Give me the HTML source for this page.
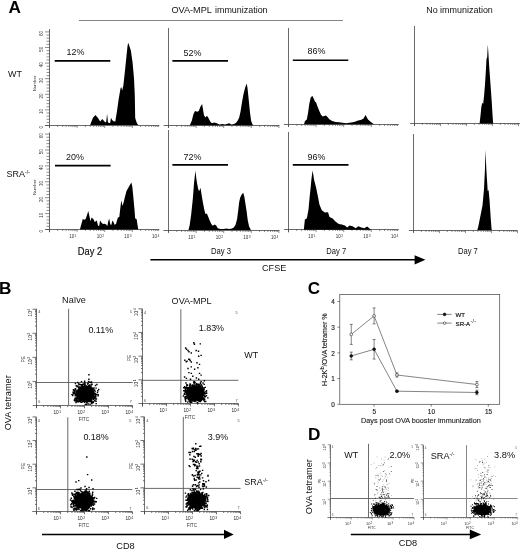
<!DOCTYPE html>
<html><head><meta charset="utf-8"><title>Figure</title>
<style>
html,body{margin:0;padding:0;background:#fff;}
body{width:520px;height:549px;overflow:hidden;font-family:"Liberation Sans",sans-serif;}
svg{display:block;will-change:transform;font-family:"Liberation Sans",sans-serif;}
</style></head><body>
<svg width="520" height="549" viewBox="0 0 520 549">
<rect width="520" height="549" fill="#fff"/>
<line x1="49.5" y1="29" x2="49.5" y2="127.6" stroke="#444" stroke-width="0.8"/>
<line x1="45.2" y1="125.5" x2="159.2" y2="125.5" stroke="#444" stroke-width="0.8"/>
<path d="M49.5 125.5v2.6M57.81 125.5v1.5M62.67 125.5v1.5M66.12 125.5v1.5M68.79 125.5v1.5M70.98 125.5v1.5M72.82 125.5v1.5M74.43 125.5v1.5M75.84 125.5v1.5M77.1 125.5v2.6M85.41 125.5v1.5M90.27 125.5v1.5M93.72 125.5v1.5M96.39 125.5v1.5M98.58 125.5v1.5M100.42 125.5v1.5M102.03 125.5v1.5M103.44 125.5v1.5M104.7 125.5v2.6M113.01 125.5v1.5M117.87 125.5v1.5M121.32 125.5v1.5M123.99 125.5v1.5M126.18 125.5v1.5M128.02 125.5v1.5M129.63 125.5v1.5M131.04 125.5v1.5M132.3 125.5v2.6M140.61 125.5v1.5M145.47 125.5v1.5M148.92 125.5v1.5M151.59 125.5v1.5M153.78 125.5v1.5M155.62 125.5v1.5M157.23 125.5v1.5M158.64 125.5v1.5" stroke="#444" stroke-width="0.6" fill="none"/>
<path d="M49.5 125.5h-4.5M49.5 122.38h-3M49.5 119.26h-3M49.5 116.14h-3M49.5 113.02h-3M49.5 109.9h-4.5M49.5 106.78h-3M49.5 103.66h-3M49.5 100.54h-3M49.5 97.42h-3M49.5 94.3h-4.5M49.5 91.18h-3M49.5 88.06h-3M49.5 84.94h-3M49.5 81.82h-3M49.5 78.7h-4.5M49.5 75.58h-3M49.5 72.46h-3M49.5 69.34h-3M49.5 66.22h-3M49.5 63.1h-4.5M49.5 59.98h-3M49.5 56.86h-3M49.5 53.74h-3M49.5 50.62h-3M49.5 47.5h-4.5M49.5 44.38h-3M49.5 41.26h-3M49.5 38.14h-3M49.5 35.02h-3M49.5 31.9h-4.5" stroke="#444" stroke-width="0.6" fill="none"/>
<text transform="translate(42.71 127.2) rotate(-90)" font-size="4.5" text-anchor="middle" fill="#333">0</text>
<text transform="translate(42.71 111.6) rotate(-90)" font-size="4.5" text-anchor="middle" fill="#333">10</text>
<text transform="translate(42.71 96) rotate(-90)" font-size="4.5" text-anchor="middle" fill="#333">20</text>
<text transform="translate(42.71 80.4) rotate(-90)" font-size="4.5" text-anchor="middle" fill="#333">30</text>
<text transform="translate(42.71 64.8) rotate(-90)" font-size="4.5" text-anchor="middle" fill="#333">40</text>
<text transform="translate(42.71 49.2) rotate(-90)" font-size="4.5" text-anchor="middle" fill="#333">50</text>
<text transform="translate(42.71 33.6) rotate(-90)" font-size="4.5" text-anchor="middle" fill="#333">60</text>
<text transform="translate(35.78 83.45) rotate(-90)" font-size="4.4" text-anchor="middle" fill="#333">Number</text>
<line x1="49.5" y1="132.5" x2="49.5" y2="232.2" stroke="#444" stroke-width="0.8"/>
<line x1="45.5" y1="229.5" x2="159.2" y2="229.5" stroke="#444" stroke-width="0.8"/>
<path d="M49.5 229.5v2.6M57.81 229.5v1.5M62.67 229.5v1.5M66.12 229.5v1.5M68.79 229.5v1.5M70.98 229.5v1.5M72.82 229.5v1.5M74.43 229.5v1.5M75.84 229.5v1.5M77.1 229.5v2.6M85.41 229.5v1.5M90.27 229.5v1.5M93.72 229.5v1.5M96.39 229.5v1.5M98.58 229.5v1.5M100.42 229.5v1.5M102.03 229.5v1.5M103.44 229.5v1.5M104.7 229.5v2.6M113.01 229.5v1.5M117.87 229.5v1.5M121.32 229.5v1.5M123.99 229.5v1.5M126.18 229.5v1.5M128.02 229.5v1.5M129.63 229.5v1.5M131.04 229.5v1.5M132.3 229.5v2.6M140.61 229.5v1.5M145.47 229.5v1.5M148.92 229.5v1.5M151.59 229.5v1.5M153.78 229.5v1.5M155.62 229.5v1.5M157.23 229.5v1.5M158.64 229.5v1.5" stroke="#444" stroke-width="0.6" fill="none"/>
<path d="M49.5 229.5h-4.5M49.5 226.32h-3M49.5 223.14h-3M49.5 219.96h-3M49.5 216.78h-3M49.5 213.6h-4.5M49.5 210.42h-3M49.5 207.24h-3M49.5 204.06h-3M49.5 200.88h-3M49.5 197.7h-4.5M49.5 194.52h-3M49.5 191.34h-3M49.5 188.16h-3M49.5 184.98h-3M49.5 181.8h-4.5M49.5 178.62h-3M49.5 175.44h-3M49.5 172.26h-3M49.5 169.08h-3M49.5 165.9h-4.5M49.5 162.72h-3M49.5 159.54h-3M49.5 156.36h-3M49.5 153.18h-3M49.5 150h-4.5M49.5 146.82h-3M49.5 143.64h-3M49.5 140.46h-3M49.5 137.28h-3M49.5 134.1h-4.5" stroke="#444" stroke-width="0.6" fill="none"/>
<text transform="translate(42.71 231.2) rotate(-90)" font-size="4.5" text-anchor="middle" fill="#333">0</text>
<text transform="translate(42.71 215.3) rotate(-90)" font-size="4.5" text-anchor="middle" fill="#333">10</text>
<text transform="translate(42.71 199.4) rotate(-90)" font-size="4.5" text-anchor="middle" fill="#333">20</text>
<text transform="translate(42.71 183.5) rotate(-90)" font-size="4.5" text-anchor="middle" fill="#333">30</text>
<text transform="translate(42.71 167.6) rotate(-90)" font-size="4.5" text-anchor="middle" fill="#333">40</text>
<text transform="translate(42.71 151.7) rotate(-90)" font-size="4.5" text-anchor="middle" fill="#333">50</text>
<text transform="translate(42.71 135.8) rotate(-90)" font-size="4.5" text-anchor="middle" fill="#333">60</text>
<text transform="translate(35.78 187.2) rotate(-90)" font-size="4.4" text-anchor="middle" fill="#333">Number</text>
<text x="72.8" y="238.3" font-size="4.5" text-anchor="middle" fill="#333">10<tspan dx="0.4" dy="-1.6" font-size="3.3">1</tspan></text>
<text x="100.4" y="238.3" font-size="4.5" text-anchor="middle" fill="#333">10<tspan dx="0.4" dy="-1.6" font-size="3.3">2</tspan></text>
<text x="128" y="238.3" font-size="4.5" text-anchor="middle" fill="#333">10<tspan dx="0.4" dy="-1.6" font-size="3.3">3</tspan></text>
<text x="155.6" y="238.3" font-size="4.5" text-anchor="middle" fill="#333">10<tspan dx="0.4" dy="-1.6" font-size="3.3">4</tspan></text>
<line x1="168.5" y1="28" x2="168.5" y2="127.9" stroke="#444" stroke-width="0.8"/>
<line x1="163.6" y1="125.5" x2="279.4" y2="125.5" stroke="#444" stroke-width="0.8"/>
<path d="M168.5 125.5v2.6M176.81 125.5v1.5M181.67 125.5v1.5M185.12 125.5v1.5M187.79 125.5v1.5M189.98 125.5v1.5M191.82 125.5v1.5M193.43 125.5v1.5M194.84 125.5v1.5M196.1 125.5v2.6M204.41 125.5v1.5M209.27 125.5v1.5M212.72 125.5v1.5M215.39 125.5v1.5M217.58 125.5v1.5M219.42 125.5v1.5M221.03 125.5v1.5M222.44 125.5v1.5M223.7 125.5v2.6M232.01 125.5v1.5M236.87 125.5v1.5M240.32 125.5v1.5M242.99 125.5v1.5M245.18 125.5v1.5M247.02 125.5v1.5M248.63 125.5v1.5M250.04 125.5v1.5M251.3 125.5v2.6M259.61 125.5v1.5M264.47 125.5v1.5M267.92 125.5v1.5M270.59 125.5v1.5M272.78 125.5v1.5M274.62 125.5v1.5M276.23 125.5v1.5M277.64 125.5v1.5M278.9 125.5v2.6" stroke="#444" stroke-width="0.6" fill="none"/>
<line x1="168.5" y1="130" x2="168.5" y2="232.6" stroke="#444" stroke-width="0.8"/>
<line x1="163.4" y1="230.5" x2="279.4" y2="230.5" stroke="#444" stroke-width="0.8"/>
<path d="M168.5 230.5v2.6M176.81 230.5v1.5M181.67 230.5v1.5M185.12 230.5v1.5M187.79 230.5v1.5M189.98 230.5v1.5M191.82 230.5v1.5M193.43 230.5v1.5M194.84 230.5v1.5M196.1 230.5v2.6M204.41 230.5v1.5M209.27 230.5v1.5M212.72 230.5v1.5M215.39 230.5v1.5M217.58 230.5v1.5M219.42 230.5v1.5M221.03 230.5v1.5M222.44 230.5v1.5M223.7 230.5v2.6M232.01 230.5v1.5M236.87 230.5v1.5M240.32 230.5v1.5M242.99 230.5v1.5M245.18 230.5v1.5M247.02 230.5v1.5M248.63 230.5v1.5M250.04 230.5v1.5M251.3 230.5v2.6M259.61 230.5v1.5M264.47 230.5v1.5M267.92 230.5v1.5M270.59 230.5v1.5M272.78 230.5v1.5M274.62 230.5v1.5M276.23 230.5v1.5M277.64 230.5v1.5M278.9 230.5v2.6" stroke="#444" stroke-width="0.6" fill="none"/>
<text x="191.8" y="239.3" font-size="4.5" text-anchor="middle" fill="#333">10<tspan dx="0.4" dy="-1.6" font-size="3.3">1</tspan></text>
<text x="219.4" y="239.3" font-size="4.5" text-anchor="middle" fill="#333">10<tspan dx="0.4" dy="-1.6" font-size="3.3">2</tspan></text>
<text x="247" y="239.3" font-size="4.5" text-anchor="middle" fill="#333">10<tspan dx="0.4" dy="-1.6" font-size="3.3">3</tspan></text>
<text x="274.6" y="239.3" font-size="4.5" text-anchor="middle" fill="#333">10<tspan dx="0.4" dy="-1.6" font-size="3.3">4</tspan></text>
<line x1="288.5" y1="28" x2="288.5" y2="126.8" stroke="#444" stroke-width="0.8"/>
<line x1="283.9" y1="124.5" x2="398.8" y2="124.5" stroke="#444" stroke-width="0.8"/>
<path d="M288.5 124.5v2.6M296.81 124.5v1.5M301.67 124.5v1.5M305.12 124.5v1.5M307.79 124.5v1.5M309.98 124.5v1.5M311.82 124.5v1.5M313.43 124.5v1.5M314.84 124.5v1.5M316.1 124.5v2.6M324.41 124.5v1.5M329.27 124.5v1.5M332.72 124.5v1.5M335.39 124.5v1.5M337.58 124.5v1.5M339.42 124.5v1.5M341.03 124.5v1.5M342.44 124.5v1.5M343.7 124.5v2.6M352.01 124.5v1.5M356.87 124.5v1.5M360.32 124.5v1.5M362.99 124.5v1.5M365.18 124.5v1.5M367.02 124.5v1.5M368.63 124.5v1.5M370.04 124.5v1.5M371.3 124.5v2.6M379.61 124.5v1.5M384.47 124.5v1.5M387.92 124.5v1.5M390.59 124.5v1.5M392.78 124.5v1.5M394.62 124.5v1.5M396.23 124.5v1.5M397.64 124.5v1.5" stroke="#444" stroke-width="0.6" fill="none"/>
<line x1="288.5" y1="132" x2="288.5" y2="232.3" stroke="#444" stroke-width="0.8"/>
<line x1="284.1" y1="229.5" x2="398.8" y2="229.5" stroke="#444" stroke-width="0.8"/>
<path d="M288.5 229.5v2.6M296.81 229.5v1.5M301.67 229.5v1.5M305.12 229.5v1.5M307.79 229.5v1.5M309.98 229.5v1.5M311.82 229.5v1.5M313.43 229.5v1.5M314.84 229.5v1.5M316.1 229.5v2.6M324.41 229.5v1.5M329.27 229.5v1.5M332.72 229.5v1.5M335.39 229.5v1.5M337.58 229.5v1.5M339.42 229.5v1.5M341.03 229.5v1.5M342.44 229.5v1.5M343.7 229.5v2.6M352.01 229.5v1.5M356.87 229.5v1.5M360.32 229.5v1.5M362.99 229.5v1.5M365.18 229.5v1.5M367.02 229.5v1.5M368.63 229.5v1.5M370.04 229.5v1.5M371.3 229.5v2.6M379.61 229.5v1.5M384.47 229.5v1.5M387.92 229.5v1.5M390.59 229.5v1.5M392.78 229.5v1.5M394.62 229.5v1.5M396.23 229.5v1.5M397.64 229.5v1.5" stroke="#444" stroke-width="0.6" fill="none"/>
<text x="311.8" y="238.3" font-size="4.5" text-anchor="middle" fill="#333">10<tspan dx="0.4" dy="-1.6" font-size="3.3">1</tspan></text>
<text x="339.4" y="238.3" font-size="4.5" text-anchor="middle" fill="#333">10<tspan dx="0.4" dy="-1.6" font-size="3.3">2</tspan></text>
<text x="367" y="238.3" font-size="4.5" text-anchor="middle" fill="#333">10<tspan dx="0.4" dy="-1.6" font-size="3.3">3</tspan></text>
<text x="394.6" y="238.3" font-size="4.5" text-anchor="middle" fill="#333">10<tspan dx="0.4" dy="-1.6" font-size="3.3">4</tspan></text>
<line x1="414.5" y1="26" x2="414.5" y2="126" stroke="#444" stroke-width="0.8"/>
<line x1="410.2" y1="123.5" x2="520" y2="123.5" stroke="#444" stroke-width="0.8"/>
<path d="M414.5 123.5v2.6M422.33 123.5v1.5M426.91 123.5v1.5M430.15 123.5v1.5M432.67 123.5v1.5M434.73 123.5v1.5M436.47 123.5v1.5M437.98 123.5v1.5M439.31 123.5v1.5M440.5 123.5v2.6M448.33 123.5v1.5M452.91 123.5v1.5M456.15 123.5v1.5M458.67 123.5v1.5M460.73 123.5v1.5M462.47 123.5v1.5M463.98 123.5v1.5M465.31 123.5v1.5M466.5 123.5v2.6M474.33 123.5v1.5M478.91 123.5v1.5M482.15 123.5v1.5M484.67 123.5v1.5M486.73 123.5v1.5M488.47 123.5v1.5M489.98 123.5v1.5M491.31 123.5v1.5M492.5 123.5v2.6M500.33 123.5v1.5M504.91 123.5v1.5M508.15 123.5v1.5M510.67 123.5v1.5M512.73 123.5v1.5M514.47 123.5v1.5M515.98 123.5v1.5M517.31 123.5v1.5M518.5 123.5v2.6" stroke="#444" stroke-width="0.6" fill="none"/>
<line x1="413.5" y1="134" x2="413.5" y2="232.6" stroke="#444" stroke-width="0.8"/>
<line x1="408.9" y1="230.5" x2="517.5" y2="230.5" stroke="#444" stroke-width="0.8"/>
<path d="M413.5 230.5v2.6M421.33 230.5v1.5M425.91 230.5v1.5M429.15 230.5v1.5M431.67 230.5v1.5M433.73 230.5v1.5M435.47 230.5v1.5M436.98 230.5v1.5M438.31 230.5v1.5M439.5 230.5v2.6M447.33 230.5v1.5M451.91 230.5v1.5M455.15 230.5v1.5M457.67 230.5v1.5M459.73 230.5v1.5M461.47 230.5v1.5M462.98 230.5v1.5M464.31 230.5v1.5M465.5 230.5v2.6M473.33 230.5v1.5M477.91 230.5v1.5M481.15 230.5v1.5M483.67 230.5v1.5M485.73 230.5v1.5M487.47 230.5v1.5M488.98 230.5v1.5M490.31 230.5v1.5M491.5 230.5v2.6M499.33 230.5v1.5M503.91 230.5v1.5M507.15 230.5v1.5M509.67 230.5v1.5M511.73 230.5v1.5M513.47 230.5v1.5M514.98 230.5v1.5M516.31 230.5v1.5M517.5 230.5v2.6" stroke="#444" stroke-width="0.6" fill="none"/>
<polygon points="90.2,125 92.8,118 95.4,115.1 98,118 100.2,121.5 102.3,118.9 104.4,121.5 106.1,122.4 107.1,113.7 108,122.4 110.1,123.3 111,117.7 112,119.8 113.5,121.2 115.3,121.5 117,111 118.7,99 120.5,88.6 121.3,87 122.2,90.4 123.4,85.2 125.1,69.6 126.5,55.8 127.6,45.4 128.25,42.8 130.85,50.6 132.6,62.7 134,78.3 134.8,95.6 135.2,118 136.9,123.2 138.3,125" fill="#000"/>
<polygon points="189.8,125.3 191.8,120.7 193.4,114.2 195,110.9 197.2,111.7 198.8,110.9 200.4,106.8 202.1,104.1 202.9,108.5 203.9,115 205.3,117.5 207,115.8 208.6,118.3 210.2,121.5 211.9,123.2 214.3,122.4 216.8,123.3 219.2,124.5 222.5,124 225,124.6 227.4,123.7 229.5,123.2 231,124.5 233.1,124.3 235.6,123.2 237.5,121.1 239.2,117.5 240.5,111.7 241.8,103.6 243.4,94.6 245.1,87.7 246.7,83.5 247.5,88 248.7,99.5 250,112.6 251.1,120.7 252.4,124.3 253.6,125.3" fill="#000"/>
<polygon points="304,124.2 305,121.1 306.8,119.4 308,113.3 309.2,104.6 310.6,97.7 312.3,95.7 313.7,98.6 314.9,101.5 316.1,102.6 317.5,106.4 319.2,110.7 321,114.7 322.7,116.4 324.4,115.9 325.8,115.4 327.5,117.1 329.6,119.4 332.2,120.9 335.7,122 339.1,122.3 342.6,122.8 346,123.3 349.5,122.8 353,122.3 355.6,121.6 358.1,120.6 360.7,119.9 363.3,118.8 364.7,116.4 365.6,115 366.6,117.1 368,119.4 370.3,121.6 372.5,123.2 374.2,124.2" fill="#000"/>
<polygon points="479.6,123.4 480.5,115.6 481.4,106.5 482.3,102.8 483.2,103.7 484.1,95.5 485,84.6 485.9,70 486.5,59.1 487.2,57.3 487.8,44.5 488.3,51.8 489.2,66.4 490.5,84.6 491.8,102.8 492.7,117.4 493.2,123.4" fill="#000"/>
<polygon points="79.9,229.6 81.4,224.1 82.8,219.1 84.3,219.8 85.7,219.1 87.1,214.7 88.3,211.1 89.6,216.9 90.5,221.2 91.5,217.6 93.3,219.1 94.8,222 95.8,221.2 96.8,220.5 98,225.6 99.1,226.3 100.1,220.5 101.6,222.7 103,224.1 104.5,223.8 106.3,224.4 107.3,226.3 108.3,221.2 109.2,218.6 110.2,224.1 111.2,225.3 112.4,220.5 113.5,222 114.5,224.8 116,224.1 117,220.5 117.9,217.6 119.3,216.9 120.3,208.3 121.3,200.3 122.5,206.1 123.6,202.5 124.6,198.2 126.5,190.9 129,186.6 131.4,182.6 132.3,186.6 133.3,196.7 134.5,209.7 135.2,218.4 136.6,219.1 137.6,225.6 138.3,229.6" fill="#000"/>
<polygon points="188.5,230 189.7,225.1 191.2,214.3 192.8,198.9 194,183.5 195.4,170.5 196.2,177.4 197.1,183.5 198.2,188.9 199.2,191.2 200.5,187.8 201.4,193.5 202.8,202 204.3,209.7 205.4,214 206.9,213.5 208.5,217.4 210,221.2 211.5,224.3 212.8,225.8 214.6,224.5 216.2,225.4 217.7,228.2 220.5,229.1 223.5,229.1 226.6,228.5 228.9,229.1 231.2,228.8 233.5,227.8 235.5,225.1 237.1,218.9 238.3,209.7 239.2,202 240.2,197.4 241.7,194.6 243.2,192.8 244.3,196.6 245.4,203.5 246.6,211.2 247.8,220.5 249.1,226.6 250.9,230" fill="#000"/>
<polygon points="303.8,229.7 304.9,219.4 306.9,218.3 308.5,209.4 309.5,198.6 310.6,187.9 311.5,178.6 312.6,170.6 314.2,180.2 316.2,187.9 317.7,195.5 319.5,204.8 321.8,210.2 324.9,212.5 328,212.2 329.5,217.1 332.6,218.6 335.7,221.7 338.8,224 341.8,224.5 344.9,225.5 347.2,227.5 349.5,225.5 352.6,226.3 355.7,228.2 358.3,226.3 361.4,227.5 364.2,228.2 367.2,226.6 369.5,228.6 371.1,229.7" fill="#000"/>
<polygon points="477.3,230 478.3,226.5 480.8,214 482.5,205.5 484,189 485,168 485.4,150 486.5,172 487.7,191 488.6,190 489.6,201 490.7,218 491.5,228.5 491.9,230" fill="#000"/>
<line x1="54.7" y1="60.9" x2="110.3" y2="60.9" stroke="#000" stroke-width="1.6"/>
<text x="66.6" y="54.95" font-size="9.67" fill="#111" textLength="17.91" lengthAdjust="spacingAndGlyphs">12%</text>
<line x1="172.4" y1="60.9" x2="228" y2="60.9" stroke="#000" stroke-width="1.6"/>
<text x="183.5" y="55.55" font-size="9.67" fill="#111" textLength="17.91" lengthAdjust="spacingAndGlyphs">52%</text>
<line x1="292.8" y1="60.2" x2="348.3" y2="60.2" stroke="#000" stroke-width="1.45"/>
<text x="307.5" y="54.15" font-size="9.67" fill="#111" textLength="17.91" lengthAdjust="spacingAndGlyphs">86%</text>
<line x1="55" y1="165.6" x2="110.6" y2="165.6" stroke="#000" stroke-width="1.6"/>
<text x="66.1" y="159.65" font-size="9.67" fill="#111" textLength="17.91" lengthAdjust="spacingAndGlyphs">20%</text>
<line x1="172.4" y1="164.9" x2="228" y2="164.9" stroke="#000" stroke-width="1.6"/>
<text x="183.5" y="159.55" font-size="9.67" fill="#111" textLength="17.91" lengthAdjust="spacingAndGlyphs">72%</text>
<line x1="292.8" y1="164.9" x2="348.5" y2="164.9" stroke="#000" stroke-width="1.6"/>
<text x="307.5" y="159.55" font-size="9.67" fill="#111" textLength="17.91" lengthAdjust="spacingAndGlyphs">96%</text>
<text x="8.4" y="12.8" font-size="17.2" font-weight="bold" fill="#000">A</text>
<line x1="79" y1="20.5" x2="343" y2="20.5" stroke="#777" stroke-width="0.9"/>
<text x="171.4" y="13.15" font-size="9.88" fill="#111" textLength="40.51" lengthAdjust="spacingAndGlyphs">OVA-MPL</text>
<text x="215" y="13.15" font-size="9.63" fill="#111" textLength="52.55" lengthAdjust="spacingAndGlyphs">immunization</text>
<text x="426.2" y="13.25" font-size="9.67" fill="#111" textLength="66.66" lengthAdjust="spacingAndGlyphs">No immunization</text>
<text x="8" y="76.95" font-size="9.67" fill="#111" textLength="13.91" lengthAdjust="spacingAndGlyphs">WT</text>
<text x="6.6" y="176.95" font-size="9.72" fill="#111" textLength="23.43" lengthAdjust="spacingAndGlyphs">SRA<tspan dy="-2.92" font-size="5.64">-/-</tspan></text>
<text x="77.8" y="255" font-size="10.04" fill="#111" textLength="24.29" lengthAdjust="spacingAndGlyphs" stroke="#111" stroke-width="0.18">Day 2</text>
<text x="211" y="254.15" font-size="8.32" fill="#111" textLength="20.12" lengthAdjust="spacingAndGlyphs">Day 3</text>
<text x="326.3" y="253.95" font-size="8.21" fill="#111" textLength="19.85" lengthAdjust="spacingAndGlyphs">Day 7</text>
<text x="458" y="253.95" font-size="8.21" fill="#111" textLength="19.85" lengthAdjust="spacingAndGlyphs">Day 7</text>
<line x1="150.4" y1="259.8" x2="416" y2="259.8" stroke="#000" stroke-width="1.5"/>
<polygon points="414.6,255.2 425.4,259.8 414.6,264.4" fill="#000"/>
<text x="262" y="271.25" font-size="9.83" fill="#111" textLength="24.27" lengthAdjust="spacingAndGlyphs">CFSE</text>
<line x1="36.5" y1="308.8" x2="36.5" y2="407.7" stroke="#444" stroke-width="0.75"/>
<line x1="32.7" y1="405.5" x2="132.7" y2="405.5" stroke="#444" stroke-width="0.75"/>
<path d="M36.5 405.5v2.8M43.72 405.5v1.5M36.5 398.25h-1.5M47.95 405.5v1.5M36.5 394.01h-1.5M50.95 405.5v1.5M36.5 391.01h-1.5M53.28 405.5v1.5M36.5 388.67h-1.5M55.18 405.5v1.5M36.5 386.77h-1.5M56.78 405.5v1.5M36.5 385.15h-1.5M58.17 405.5v1.5M36.5 383.76h-1.5M59.4 405.5v1.5M36.5 382.53h-1.5M60.5 405.5v2.8M36.5 381.43h-4M67.72 405.5v1.5M36.5 374.18h-1.5M71.95 405.5v1.5M36.5 369.94h-1.5M74.95 405.5v1.5M36.5 366.93h-1.5M77.28 405.5v1.5M36.5 364.6h-1.5M79.18 405.5v1.5M36.5 362.69h-1.5M80.78 405.5v1.5M36.5 361.08h-1.5M82.17 405.5v1.5M36.5 359.68h-1.5M83.4 405.5v1.5M36.5 358.45h-1.5M84.5 405.5v2.8M36.5 357.35h-4M91.72 405.5v1.5M36.5 350.1h-1.5M95.95 405.5v1.5M36.5 345.86h-1.5M98.95 405.5v1.5M36.5 342.86h-1.5M101.28 405.5v1.5M36.5 340.52h-1.5M103.18 405.5v1.5M36.5 338.62h-1.5M104.78 405.5v1.5M36.5 337h-1.5M106.17 405.5v1.5M36.5 335.61h-1.5M107.4 405.5v1.5M36.5 334.38h-1.5M108.5 405.5v2.8M36.5 333.27h-4M115.72 405.5v1.5M36.5 326.03h-1.5M119.95 405.5v1.5M36.5 321.79h-1.5M122.95 405.5v1.5M36.5 318.78h-1.5M125.28 405.5v1.5M36.5 316.45h-1.5M127.18 405.5v1.5M36.5 314.54h-1.5M128.78 405.5v1.5M36.5 312.93h-1.5M130.17 405.5v1.5M36.5 311.53h-1.5M131.4 405.5v1.5M36.5 310.3h-1.5M132.5 405.5v2.8M36.5 309.2h-4" stroke="#333" stroke-width="0.7" fill="none"/>
<text x="57.3" y="414.3" font-size="4.7" text-anchor="middle" fill="#222">10<tspan dx="0.5" dy="-1.3" font-size="3.38">1</tspan></text>
<text transform="translate(31.5 384.82) rotate(-90)" font-size="4.7" text-anchor="middle" fill="#222">10<tspan dx="0.5" dy="-1.3" font-size="3.38">1</tspan></text>
<text x="81.3" y="414.3" font-size="4.7" text-anchor="middle" fill="#222">10<tspan dx="0.5" dy="-1.3" font-size="3.38">2</tspan></text>
<text transform="translate(31.5 360.75) rotate(-90)" font-size="4.7" text-anchor="middle" fill="#222">10<tspan dx="0.5" dy="-1.3" font-size="3.38">2</tspan></text>
<text x="105.3" y="414.3" font-size="4.7" text-anchor="middle" fill="#222">10<tspan dx="0.5" dy="-1.3" font-size="3.38">3</tspan></text>
<text transform="translate(31.5 336.67) rotate(-90)" font-size="4.7" text-anchor="middle" fill="#222">10<tspan dx="0.5" dy="-1.3" font-size="3.38">3</tspan></text>
<text x="129.3" y="414.3" font-size="4.7" text-anchor="middle" fill="#222">10<tspan dx="0.5" dy="-1.3" font-size="3.38">4</tspan></text>
<text transform="translate(31.5 312.6) rotate(-90)" font-size="4.7" text-anchor="middle" fill="#222">10<tspan dx="0.5" dy="-1.3" font-size="3.38">4</tspan></text>
<text x="83.9" y="420.5" font-size="4.7" text-anchor="middle" fill="#333">FITC</text>
<text transform="translate(24.78 359.15) rotate(-90)" font-size="4.7" text-anchor="middle" fill="#333">PE</text>
<line x1="68.6" y1="308.8" x2="68.6" y2="405.1" stroke="#5a5a5a" stroke-width="0.9"/>
<line x1="36.7" y1="382.5" x2="132.7" y2="382.5" stroke="#5a5a5a" stroke-width="0.9"/>
<text x="38.3" y="313.4" font-size="3.8" fill="#444">4</text>
<text x="129.7" y="313.4" font-size="3.8" fill="#444">5</text>
<text x="38.3" y="402.9" font-size="3.8" fill="#444">6</text>
<text x="129.7" y="402.9" font-size="3.8" fill="#444">7</text>
<ellipse cx="85.2" cy="394" rx="9.32" ry="8.21" fill="#000"/>
<path d="M83.12 395.72h1.45v1.45h-1.45zM83.28 391.77h1.45v1.45h-1.45zM79.55 392.25h1.45v1.45h-1.45zM90.36 395.31h1.45v1.45h-1.45zM89.96 394.47h1.45v1.45h-1.45zM86.56 394.16h1.45v1.45h-1.45zM75.66 397.37h1.45v1.45h-1.45zM87.15 395.66h1.45v1.45h-1.45zM75.52 384.93h1.45v1.45h-1.45zM79.77 391.03h1.45v1.45h-1.45zM86.09 393.06h1.45v1.45h-1.45zM87.23 390.2h1.45v1.45h-1.45zM86.11 395.16h1.45v1.45h-1.45zM80.98 401.5h1.45v1.45h-1.45zM87.42 399.01h1.45v1.45h-1.45zM81.19 389.73h1.45v1.45h-1.45zM82.65 392.77h1.45v1.45h-1.45zM87.82 394.46h1.45v1.45h-1.45zM82.11 388.69h1.45v1.45h-1.45zM81.72 399.12h1.45v1.45h-1.45zM80.2 394.45h1.45v1.45h-1.45zM86.73 386.14h1.45v1.45h-1.45zM84.73 399.53h1.45v1.45h-1.45zM73.81 391.74h1.45v1.45h-1.45zM83.91 389.36h1.45v1.45h-1.45zM87.11 392.98h1.45v1.45h-1.45zM76.72 397.24h1.45v1.45h-1.45zM88.02 397.8h1.45v1.45h-1.45zM92.1 395.01h1.45v1.45h-1.45zM85.11 387.05h1.45v1.45h-1.45zM87.73 390.35h1.45v1.45h-1.45zM82.08 387.22h1.45v1.45h-1.45zM79.35 390.73h1.45v1.45h-1.45zM91.3 383.55h1.45v1.45h-1.45zM76.76 394.42h1.45v1.45h-1.45zM92.11 396.04h1.45v1.45h-1.45zM86.37 389.75h1.45v1.45h-1.45zM78.55 397.95h1.45v1.45h-1.45zM90.31 394.03h1.45v1.45h-1.45zM85.78 395.35h1.45v1.45h-1.45zM92.91 396.24h1.45v1.45h-1.45zM87.22 395.9h1.45v1.45h-1.45zM76.18 399.41h1.45v1.45h-1.45zM89.53 395.81h1.45v1.45h-1.45zM74.03 390.24h1.45v1.45h-1.45zM88.93 384.6h1.45v1.45h-1.45zM83.5 398.16h1.45v1.45h-1.45zM77.54 400.98h1.45v1.45h-1.45zM87.4 392.56h1.45v1.45h-1.45zM86.19 396.39h1.45v1.45h-1.45zM85.11 398.76h1.45v1.45h-1.45zM80.97 391.29h1.45v1.45h-1.45zM89.99 393.4h1.45v1.45h-1.45zM79.82 397.81h1.45v1.45h-1.45zM92.23 391.15h1.45v1.45h-1.45zM77.17 392.63h1.45v1.45h-1.45zM83.69 391.85h1.45v1.45h-1.45zM91.91 388.36h1.45v1.45h-1.45zM91.15 387.2h1.45v1.45h-1.45zM80.31 396.3h1.45v1.45h-1.45zM90.45 397.39h1.45v1.45h-1.45zM86.3 393.96h1.45v1.45h-1.45zM85.28 396.03h1.45v1.45h-1.45zM83.54 394.6h1.45v1.45h-1.45zM87.51 393.28h1.45v1.45h-1.45zM88.52 395.98h1.45v1.45h-1.45zM95.12 394.83h1.45v1.45h-1.45zM82.21 391.49h1.45v1.45h-1.45zM84.41 397.7h1.45v1.45h-1.45zM82.69 395.12h1.45v1.45h-1.45zM78.53 394.44h1.45v1.45h-1.45zM86.58 394.42h1.45v1.45h-1.45zM82.19 396.41h1.45v1.45h-1.45zM85.97 390.78h1.45v1.45h-1.45zM97.33 394.98h1.45v1.45h-1.45zM81.54 392.8h1.45v1.45h-1.45zM83.28 392.97h1.45v1.45h-1.45zM89.81 387.68h1.45v1.45h-1.45zM84.12 397.84h1.45v1.45h-1.45zM89.01 400.41h1.45v1.45h-1.45zM75.47 391.58h1.45v1.45h-1.45zM82.67 396.26h1.45v1.45h-1.45zM90.24 386.34h1.45v1.45h-1.45zM88.09 386.13h1.45v1.45h-1.45zM85.41 399h1.45v1.45h-1.45zM83.68 394.19h1.45v1.45h-1.45zM88.69 393.95h1.45v1.45h-1.45zM84.01 400.62h1.45v1.45h-1.45zM90.02 391.87h1.45v1.45h-1.45zM89.32 392h1.45v1.45h-1.45zM85.18 396.65h1.45v1.45h-1.45zM85.65 396.33h1.45v1.45h-1.45zM76.39 386.05h1.45v1.45h-1.45zM87.73 388.66h1.45v1.45h-1.45zM79.04 386.24h1.45v1.45h-1.45zM91.18 396.85h1.45v1.45h-1.45zM92.27 388.79h1.45v1.45h-1.45zM84.48 387.82h1.45v1.45h-1.45zM88.53 400.89h1.45v1.45h-1.45zM79.76 400.75h1.45v1.45h-1.45zM89.7 392.42h1.45v1.45h-1.45zM74.04 400.01h1.45v1.45h-1.45zM83.97 390.39h1.45v1.45h-1.45zM86.59 395.24h1.45v1.45h-1.45zM92.4 388.39h1.45v1.45h-1.45zM90.49 400.4h1.45v1.45h-1.45zM92.16 392.41h1.45v1.45h-1.45zM80.54 398.15h1.45v1.45h-1.45zM85.08 393.87h1.45v1.45h-1.45zM92.01 392.01h1.45v1.45h-1.45zM72.32 391.42h1.45v1.45h-1.45zM74.66 397.2h1.45v1.45h-1.45zM86.15 390.35h1.45v1.45h-1.45zM84.42 397.26h1.45v1.45h-1.45zM84.89 399.63h1.45v1.45h-1.45zM84.15 398.26h1.45v1.45h-1.45zM92.37 400.98h1.45v1.45h-1.45zM80.92 397.49h1.45v1.45h-1.45zM74.55 388.09h1.45v1.45h-1.45zM74.09 398.39h1.45v1.45h-1.45zM77.96 393.21h1.45v1.45h-1.45zM83.46 393.14h1.45v1.45h-1.45zM81.34 394.39h1.45v1.45h-1.45zM93.95 393.49h1.45v1.45h-1.45zM87.28 398.07h1.45v1.45h-1.45zM83.43 387.24h1.45v1.45h-1.45zM81.54 398.42h1.45v1.45h-1.45zM75.76 390.41h1.45v1.45h-1.45zM89.81 397.07h1.45v1.45h-1.45zM84.52 397.13h1.45v1.45h-1.45zM85.35 387.63h1.45v1.45h-1.45zM76.2 390.22h1.45v1.45h-1.45zM89.36 390.57h1.45v1.45h-1.45zM79.7 389.58h1.45v1.45h-1.45zM76.37 392.71h1.45v1.45h-1.45zM78.23 395.02h1.45v1.45h-1.45zM71.99 394.84h1.45v1.45h-1.45zM81.08 383.98h1.45v1.45h-1.45zM88.31 391.96h1.45v1.45h-1.45zM72.67 389.09h1.45v1.45h-1.45zM86.02 391.08h1.45v1.45h-1.45zM88.6 396.85h1.45v1.45h-1.45zM88 394.84h1.45v1.45h-1.45zM91.53 396.43h1.45v1.45h-1.45zM86.86 383.3h1.45v1.45h-1.45zM89.22 399.54h1.45v1.45h-1.45zM82.9 391.03h1.45v1.45h-1.45zM94.74 384.86h1.45v1.45h-1.45zM79.57 396.58h1.45v1.45h-1.45zM94.46 392.7h1.45v1.45h-1.45zM87.44 397.6h1.45v1.45h-1.45zM79.68 392.85h1.45v1.45h-1.45zM86.02 397.23h1.45v1.45h-1.45zM84.29 392.34h1.45v1.45h-1.45zM79.1 391.56h1.45v1.45h-1.45zM89.19 393.76h1.45v1.45h-1.45zM79.96 389.25h1.45v1.45h-1.45zM87.85 380.86h1.45v1.45h-1.45zM87.76 395.58h1.45v1.45h-1.45zM93.39 395.32h1.45v1.45h-1.45zM84.12 395.78h1.45v1.45h-1.45zM74.19 398.22h1.45v1.45h-1.45zM86.19 389.91h1.45v1.45h-1.45zM91.49 401.94h1.45v1.45h-1.45zM77.05 390.08h1.45v1.45h-1.45zM86.02 394.15h1.45v1.45h-1.45zM82.37 388.61h1.45v1.45h-1.45zM95.7 398.24h1.45v1.45h-1.45zM78.16 386.84h1.45v1.45h-1.45zM93.49 398.01h1.45v1.45h-1.45zM94.11 397.15h1.45v1.45h-1.45zM79.86 394.52h1.45v1.45h-1.45zM73.04 389.69h1.45v1.45h-1.45zM84.16 395.78h1.45v1.45h-1.45zM80.62 392.68h1.45v1.45h-1.45zM86.9 395.08h1.45v1.45h-1.45zM87.85 394.28h1.45v1.45h-1.45zM82.76 397.05h1.45v1.45h-1.45zM84.74 389.32h1.45v1.45h-1.45zM81.16 393.27h1.45v1.45h-1.45zM83.89 394.03h1.45v1.45h-1.45zM84.47 394.12h1.45v1.45h-1.45zM83.76 387.25h1.45v1.45h-1.45zM86.7 398.32h1.45v1.45h-1.45zM86.78 392.37h1.45v1.45h-1.45zM86.84 388.65h1.45v1.45h-1.45zM74.44 393.56h1.45v1.45h-1.45zM79.55 396.82h1.45v1.45h-1.45zM78.97 400.83h1.45v1.45h-1.45zM82.45 386.72h1.45v1.45h-1.45zM80.44 395.77h1.45v1.45h-1.45zM87.1 394.12h1.45v1.45h-1.45zM92.33 396.66h1.45v1.45h-1.45zM84.36 396.13h1.45v1.45h-1.45zM93.23 397.93h1.45v1.45h-1.45zM89.89 388.09h1.45v1.45h-1.45zM83.69 396.77h1.45v1.45h-1.45zM82.91 398.39h1.45v1.45h-1.45zM87.63 397.62h1.45v1.45h-1.45zM91.04 392.24h1.45v1.45h-1.45zM82.66 397.46h1.45v1.45h-1.45zM89.66 393.31h1.45v1.45h-1.45zM78.3 394.17h1.45v1.45h-1.45zM86.38 398.68h1.45v1.45h-1.45zM88.62 393.39h1.45v1.45h-1.45zM88.99 395.86h1.45v1.45h-1.45zM85.57 393.54h1.45v1.45h-1.45zM83.19 396.56h1.45v1.45h-1.45zM78.9 390.26h1.45v1.45h-1.45zM84.5 386.27h1.45v1.45h-1.45zM82.17 383.66h1.45v1.45h-1.45zM80.86 396h1.45v1.45h-1.45zM87.47 393.01h1.45v1.45h-1.45zM83.25 386.49h1.45v1.45h-1.45zM94.15 395.75h1.45v1.45h-1.45zM90.26 389.05h1.45v1.45h-1.45zM83.49 384.56h1.45v1.45h-1.45zM88.61 397.75h1.45v1.45h-1.45zM74.43 393.03h1.45v1.45h-1.45zM87.81 384.84h1.45v1.45h-1.45zM74.81 388.18h1.45v1.45h-1.45zM81.15 386.56h1.45v1.45h-1.45zM84.64 394.47h1.45v1.45h-1.45zM87.83 396.64h1.45v1.45h-1.45zM92.43 398.85h1.45v1.45h-1.45zM77.53 390.86h1.45v1.45h-1.45zM78.86 388.12h1.45v1.45h-1.45zM84.04 393.3h1.45v1.45h-1.45zM87.07 385.68h1.45v1.45h-1.45zM77.93 393.16h1.45v1.45h-1.45zM83.42 391.78h1.45v1.45h-1.45zM84.14 389.64h1.45v1.45h-1.45zM88.19 394.97h1.45v1.45h-1.45zM84.01 390.06h1.45v1.45h-1.45zM79.28 393.45h1.45v1.45h-1.45zM76.52 394.23h1.45v1.45h-1.45zM85.26 386.68h1.45v1.45h-1.45zM83.15 391.77h1.45v1.45h-1.45zM86.91 396.2h1.45v1.45h-1.45zM84.28 389.2h1.45v1.45h-1.45zM83.71 392.96h1.45v1.45h-1.45zM88.36 394.68h1.45v1.45h-1.45zM80.65 386.79h1.45v1.45h-1.45zM82.5 389.73h1.45v1.45h-1.45zM78.59 392.72h1.45v1.45h-1.45zM81.88 393.78h1.45v1.45h-1.45zM87.24 391.3h1.45v1.45h-1.45zM96.78 391.74h1.45v1.45h-1.45zM90.31 393.86h1.45v1.45h-1.45zM90.38 381.9h1.45v1.45h-1.45zM80.5 394.46h1.45v1.45h-1.45zM86.18 399.4h1.45v1.45h-1.45zM88.53 397.81h1.45v1.45h-1.45zM87.17 392.53h1.45v1.45h-1.45zM87.17 388.11h1.45v1.45h-1.45zM90.73 388.4h1.45v1.45h-1.45zM85.79 403.43h1.45v1.45h-1.45zM83.29 393.37h1.45v1.45h-1.45zM90.63 393.4h1.45v1.45h-1.45zM80.2 394.51h1.45v1.45h-1.45zM87.56 396.67h1.45v1.45h-1.45zM80.39 401.67h1.45v1.45h-1.45zM93.3 393.36h1.45v1.45h-1.45zM85.9 391.22h1.45v1.45h-1.45zM91.96 389.9h1.45v1.45h-1.45zM88.04 390.98h1.45v1.45h-1.45zM80.8 396.72h1.45v1.45h-1.45zM91.53 393.23h1.45v1.45h-1.45zM80.89 397.16h1.45v1.45h-1.45zM84.21 394.76h1.45v1.45h-1.45zM92.53 398.69h1.45v1.45h-1.45zM84.49 397.04h1.45v1.45h-1.45zM81.05 393.06h1.45v1.45h-1.45zM75.21 401.83h1.45v1.45h-1.45zM91.7 387.46h1.45v1.45h-1.45zM76.51 385.51h1.45v1.45h-1.45zM90.7 391.07h1.45v1.45h-1.45zM84.15 391.78h1.45v1.45h-1.45zM83.83 388.06h1.45v1.45h-1.45zM84.6 386.39h1.45v1.45h-1.45zM84.1 394.75h1.45v1.45h-1.45zM86.95 392.17h1.45v1.45h-1.45zM79.69 394.04h1.45v1.45h-1.45zM81.91 400.77h1.45v1.45h-1.45zM88.54 392.72h1.45v1.45h-1.45zM81.98 389.91h1.45v1.45h-1.45zM79.52 391.59h1.45v1.45h-1.45zM86.03 395.74h1.45v1.45h-1.45zM87.49 403.32h1.45v1.45h-1.45zM80.74 393.34h1.45v1.45h-1.45zM81.72 394.09h1.45v1.45h-1.45zM85.29 395.23h1.45v1.45h-1.45zM83.21 395.03h1.45v1.45h-1.45zM84.75 396.97h1.45v1.45h-1.45zM74.46 389.04h1.45v1.45h-1.45zM84.46 388.33h1.45v1.45h-1.45zM78.95 396.28h1.45v1.45h-1.45zM81.04 396.31h1.45v1.45h-1.45zM88.42 394.74h1.45v1.45h-1.45zM87.16 392.77h1.45v1.45h-1.45zM77.02 393.13h1.45v1.45h-1.45zM86.88 390.74h1.45v1.45h-1.45zM83.95 396.86h1.45v1.45h-1.45zM79.83 396.34h1.45v1.45h-1.45zM94.33 390.62h1.45v1.45h-1.45zM85.25 392.55h1.45v1.45h-1.45zM92.63 394.79h1.45v1.45h-1.45zM89.23 389.97h1.45v1.45h-1.45zM84.39 393.23h1.45v1.45h-1.45zM75.08 400.17h1.45v1.45h-1.45zM89.23 384.9h1.45v1.45h-1.45zM88.41 392.65h1.45v1.45h-1.45zM86.85 395.03h1.45v1.45h-1.45zM76.54 392.26h1.45v1.45h-1.45zM92.37 390.52h1.45v1.45h-1.45zM79.06 386.77h1.45v1.45h-1.45zM78.01 394.88h1.45v1.45h-1.45zM93.43 395.33h1.45v1.45h-1.45zM81.73 390.05h1.45v1.45h-1.45zM87.27 395.9h1.45v1.45h-1.45zM79.11 387.67h1.45v1.45h-1.45zM86.02 394.46h1.45v1.45h-1.45zM77.56 392.31h1.45v1.45h-1.45zM81.6 395.48h1.45v1.45h-1.45zM83.86 392.86h1.45v1.45h-1.45zM82.6 398.32h1.45v1.45h-1.45zM91.83 391.52h1.45v1.45h-1.45zM88.95 389.65h1.45v1.45h-1.45zM84.86 396.87h1.45v1.45h-1.45zM92.49 391.44h1.45v1.45h-1.45zM84.08 394.22h1.45v1.45h-1.45zM76.55 393.35h1.45v1.45h-1.45zM80.9 395.05h1.45v1.45h-1.45zM78.5 383.81h1.45v1.45h-1.45zM84.68 394.52h1.45v1.45h-1.45zM81.57 397.53h1.45v1.45h-1.45zM83.03 390.37h1.45v1.45h-1.45zM87 385.77h1.45v1.45h-1.45zM80.89 393.18h1.45v1.45h-1.45zM88.97 392.5h1.45v1.45h-1.45zM86.11 390.14h1.45v1.45h-1.45zM86.07 401.24h1.45v1.45h-1.45zM81.07 393.36h1.45v1.45h-1.45zM85.39 398.18h1.45v1.45h-1.45zM77.93 383.22h1.45v1.45h-1.45zM87.68 397.08h1.45v1.45h-1.45zM85.56 394.49h1.45v1.45h-1.45zM89.39 395.04h1.45v1.45h-1.45zM93.28 387.35h1.45v1.45h-1.45zM88.77 391.49h1.45v1.45h-1.45zM89.36 403.59h1.45v1.45h-1.45zM84.44 392.06h1.45v1.45h-1.45zM81.83 389.26h1.45v1.45h-1.45zM81.14 396.34h1.45v1.45h-1.45zM84.67 393.59h1.45v1.45h-1.45zM83.56 397.65h1.45v1.45h-1.45zM87.09 392.6h1.45v1.45h-1.45zM87.99 392.55h1.45v1.45h-1.45zM78.37 400.24h1.45v1.45h-1.45zM86.94 388.69h1.45v1.45h-1.45zM90.18 394.93h1.45v1.45h-1.45zM76.2 400.98h1.45v1.45h-1.45zM86.24 397.54h1.45v1.45h-1.45zM85.52 392.56h1.45v1.45h-1.45zM76.28 397.93h1.45v1.45h-1.45zM84.63 391.9h1.45v1.45h-1.45zM86.33 393.65h1.45v1.45h-1.45zM88.05 391.5h1.45v1.45h-1.45zM84.28 383.03h1.45v1.45h-1.45zM82.23 396.51h1.45v1.45h-1.45zM91.55 391.53h1.45v1.45h-1.45zM83.83 400.86h1.45v1.45h-1.45zM82.75 396.79h1.45v1.45h-1.45zM93.36 393.47h1.45v1.45h-1.45zM90.97 389.87h1.45v1.45h-1.45zM85.57 392.9h1.45v1.45h-1.45zM85.08 398.68h1.45v1.45h-1.45zM97.12 390.09h1.45v1.45h-1.45zM81.43 395.66h1.45v1.45h-1.45zM78.89 395.65h1.45v1.45h-1.45zM87.5 391.95h1.45v1.45h-1.45zM87.29 385.86h1.45v1.45h-1.45zM88.5 385.88h1.45v1.45h-1.45zM80.79 390.61h1.45v1.45h-1.45zM82.35 397.39h1.45v1.45h-1.45zM84.91 391.37h1.45v1.45h-1.45zM87.35 400.85h1.45v1.45h-1.45zM84.51 395.03h1.45v1.45h-1.45zM91.04 394.56h1.45v1.45h-1.45zM96.16 383.77h1.45v1.45h-1.45zM84.27 395.27h1.45v1.45h-1.45zM89.59 396.48h1.45v1.45h-1.45zM83.03 388.23h1.45v1.45h-1.45zM85.02 398.22h1.45v1.45h-1.45zM78.71 388.36h1.45v1.45h-1.45zM84.34 384h1.45v1.45h-1.45zM83.1 391.18h1.45v1.45h-1.45zM86.86 389.91h1.45v1.45h-1.45zM79.81 391.39h1.45v1.45h-1.45zM84.21 390.09h1.45v1.45h-1.45zM84.54 396.87h1.45v1.45h-1.45zM90.75 401.44h1.45v1.45h-1.45zM80.33 391.27h1.45v1.45h-1.45zM80.64 393.12h1.45v1.45h-1.45zM87.24 386.77h1.45v1.45h-1.45zM86.93 393.15h1.45v1.45h-1.45zM74.81 394.67h1.45v1.45h-1.45zM90.8 384.33h1.45v1.45h-1.45zM88.75 394.28h1.45v1.45h-1.45zM86.99 395.39h1.45v1.45h-1.45zM91.38 392.2h1.45v1.45h-1.45zM89.1 391.31h1.45v1.45h-1.45zM88.33 389.38h1.45v1.45h-1.45zM83.9 401.56h1.45v1.45h-1.45zM86.83 392.52h1.45v1.45h-1.45zM78.42 389.49h1.45v1.45h-1.45zM85.5 397.77h1.45v1.45h-1.45zM86.73 395.78h1.45v1.45h-1.45zM84.25 399.75h1.45v1.45h-1.45zM82.41 390.64h1.45v1.45h-1.45zM89.17 393.58h1.45v1.45h-1.45zM83 390.52h1.45v1.45h-1.45zM83.12 396.26h1.45v1.45h-1.45zM86.35 387.48h1.45v1.45h-1.45zM86.73 394.13h1.45v1.45h-1.45zM79.18 396.98h1.45v1.45h-1.45zM82.99 391.67h1.45v1.45h-1.45zM88.69 399.6h1.45v1.45h-1.45zM80.83 395.37h1.45v1.45h-1.45zM81.86 399h1.45v1.45h-1.45zM81.05 397.16h1.45v1.45h-1.45zM82.18 395.67h1.45v1.45h-1.45zM83.98 390.07h1.45v1.45h-1.45zM95.86 393.66h1.45v1.45h-1.45zM75.77 397.36h1.45v1.45h-1.45zM75.36 398.79h1.45v1.45h-1.45zM81.42 393.97h1.45v1.45h-1.45zM91.15 393.84h1.45v1.45h-1.45zM77.11 385.15h1.45v1.45h-1.45zM90.73 396.82h1.45v1.45h-1.45zM80.16 397.39h1.45v1.45h-1.45zM87.1 396.38h1.45v1.45h-1.45zM72.52 391.83h1.45v1.45h-1.45zM89.24 396.79h1.45v1.45h-1.45zM89.14 381.51h1.45v1.45h-1.45zM85.37 395.63h1.45v1.45h-1.45zM97.98 388.71h1.45v1.45h-1.45zM82.73 393.45h1.45v1.45h-1.45zM89.16 391.15h1.45v1.45h-1.45zM90.55 389.5h1.45v1.45h-1.45zM85.89 390.75h1.45v1.45h-1.45zM85.31 389.97h1.45v1.45h-1.45zM76.02 398.51h1.45v1.45h-1.45zM86.08 390.6h1.45v1.45h-1.45zM85.54 398.02h1.45v1.45h-1.45zM79.3 392.75h1.45v1.45h-1.45zM87.33 395.79h1.45v1.45h-1.45zM82.7 383.19h1.45v1.45h-1.45zM91.05 394.85h1.45v1.45h-1.45zM84.54 391.94h1.45v1.45h-1.45zM85.87 391.24h1.45v1.45h-1.45zM79.05 389.73h1.45v1.45h-1.45zM81.32 390.34h1.45v1.45h-1.45zM78.34 396.32h1.45v1.45h-1.45zM77.54 396.43h1.45v1.45h-1.45zM79.11 394.96h1.45v1.45h-1.45zM91.75 394.25h1.45v1.45h-1.45zM80.61 393.51h1.45v1.45h-1.45zM85.26 384.97h1.45v1.45h-1.45zM81.26 394.06h1.45v1.45h-1.45zM81.99 393.66h1.45v1.45h-1.45zM88.36 396.95h1.45v1.45h-1.45zM89.27 396.09h1.45v1.45h-1.45zM82.95 393.19h1.45v1.45h-1.45zM83.04 391.78h1.45v1.45h-1.45zM83.52 385.02h1.45v1.45h-1.45zM82.71 393.16h1.45v1.45h-1.45zM79.32 393.16h1.45v1.45h-1.45zM87.2 392.49h1.45v1.45h-1.45zM83.38 384.53h1.45v1.45h-1.45zM71.23 393.89h1.45v1.45h-1.45zM87.22 391.83h1.45v1.45h-1.45zM87.39 382.54h1.45v1.45h-1.45zM88.98 395.06h1.45v1.45h-1.45zM84.6 390.46h1.45v1.45h-1.45zM87.85 390.95h1.45v1.45h-1.45zM85.66 390.83h1.45v1.45h-1.45zM72.58 393.13h1.45v1.45h-1.45zM85.54 396.89h1.45v1.45h-1.45zM79.84 393.12h1.45v1.45h-1.45zM87.74 393.97h1.45v1.45h-1.45zM91.05 402.81h1.45v1.45h-1.45zM79.67 384.08h1.45v1.45h-1.45zM89.01 400.6h1.45v1.45h-1.45zM89.36 397.17h1.45v1.45h-1.45zM81.2 389.86h1.45v1.45h-1.45zM89.18 388.91h1.45v1.45h-1.45zM74.88 388.5h1.45v1.45h-1.45zM80.84 389.78h1.45v1.45h-1.45zM85.7 389.69h1.45v1.45h-1.45zM91.41 392.9h1.45v1.45h-1.45zM78.73 399.54h1.45v1.45h-1.45zM81.39 394.33h1.45v1.45h-1.45zM84.41 391.77h1.45v1.45h-1.45zM86.19 389.96h1.45v1.45h-1.45zM74.71 382.7h1.45v1.45h-1.45zM77.77 389.64h1.45v1.45h-1.45zM84.35 393.54h1.45v1.45h-1.45zM87.42 393.85h1.45v1.45h-1.45zM80.28 389.88h1.45v1.45h-1.45zM73.26 392.47h1.45v1.45h-1.45zM87.04 395.81h1.45v1.45h-1.45zM83.83 392.44h1.45v1.45h-1.45zM89.43 393.35h1.45v1.45h-1.45zM88.38 396.06h1.45v1.45h-1.45zM85.6 399.53h1.45v1.45h-1.45zM81.44 391.56h1.45v1.45h-1.45zM80.2 389.46h1.45v1.45h-1.45zM92.71 401.7h1.45v1.45h-1.45zM84.6 396h1.45v1.45h-1.45zM90.69 397.14h1.45v1.45h-1.45zM90.85 387.23h1.45v1.45h-1.45zM81.09 395.44h1.45v1.45h-1.45zM92.07 393.77h1.45v1.45h-1.45zM79.93 391.58h1.45v1.45h-1.45zM80.98 389.17h1.45v1.45h-1.45zM92.42 390.28h1.45v1.45h-1.45zM84.58 403.63h1.45v1.45h-1.45zM90.74 394.88h1.45v1.45h-1.45zM81.24 395.24h1.45v1.45h-1.45zM93.06 396.26h1.45v1.45h-1.45zM91.15 393.74h1.45v1.45h-1.45zM87.21 392.31h1.45v1.45h-1.45zM86.73 399.5h1.45v1.45h-1.45zM76.9 392.98h1.45v1.45h-1.45zM85.75 390.54h1.45v1.45h-1.45zM82.84 397.04h1.45v1.45h-1.45zM95.07 396.29h1.45v1.45h-1.45zM86.2 385.85h1.45v1.45h-1.45zM94.68 393.64h1.45v1.45h-1.45zM84.3 387.92h1.45v1.45h-1.45zM84.17 388.03h1.45v1.45h-1.45zM84.85 395.51h1.45v1.45h-1.45zM84.64 394.61h1.45v1.45h-1.45zM79.97 400.12h1.45v1.45h-1.45zM81.02 384.57h1.45v1.45h-1.45zM83.48 389.62h1.45v1.45h-1.45zM79.13 391.58h1.45v1.45h-1.45zM86.02 387.62h1.45v1.45h-1.45zM83.75 400.11h1.45v1.45h-1.45zM88.09 392.55h1.45v1.45h-1.45zM85.15 392.7h1.45v1.45h-1.45zM84.22 396.78h1.45v1.45h-1.45zM83.99 381.76h1.45v1.45h-1.45zM84.36 389.02h1.45v1.45h-1.45zM87.92 390.35h1.45v1.45h-1.45zM78.93 387.89h1.45v1.45h-1.45zM77.01 381.81h1.45v1.45h-1.45zM74.53 395.02h1.45v1.45h-1.45zM81.1 384.33h1.45v1.45h-1.45zM76.63 396.23h1.45v1.45h-1.45zM80.37 391.52h1.45v1.45h-1.45zM86.22 399.77h1.45v1.45h-1.45zM94.75 398.22h1.45v1.45h-1.45zM85.23 394.16h1.45v1.45h-1.45zM94.01 400.12h1.45v1.45h-1.45zM82.83 395.47h1.45v1.45h-1.45zM85.99 393.53h1.45v1.45h-1.45zM81.83 386.92h1.45v1.45h-1.45zM81.65 385.88h1.45v1.45h-1.45zM90.95 395.84h1.45v1.45h-1.45zM78.09 399.96h1.45v1.45h-1.45zM89.19 384.14h1.45v1.45h-1.45zM94.22 397.15h1.45v1.45h-1.45zM95.4 387.38h1.45v1.45h-1.45zM87.28 395.3h1.45v1.45h-1.45zM85.54 394.09h1.45v1.45h-1.45zM90.05 386.12h1.45v1.45h-1.45zM77.9 386.6h1.45v1.45h-1.45zM81.52 390.38h1.45v1.45h-1.45zM86.42 394.55h1.45v1.45h-1.45zM84.64 390.04h1.45v1.45h-1.45zM82.14 397.84h1.45v1.45h-1.45zM88.52 393.76h1.45v1.45h-1.45zM82.77 400.71h1.45v1.45h-1.45zM81.33 396.38h1.45v1.45h-1.45zM90.58 392h1.45v1.45h-1.45zM88.84 387.93h1.45v1.45h-1.45zM89.83 394.23h1.45v1.45h-1.45zM76.08 396.48h1.45v1.45h-1.45zM79.75 399.41h1.45v1.45h-1.45zM80.88 392.49h1.45v1.45h-1.45zM85.97 391.68h1.45v1.45h-1.45zM85.85 390.63h1.45v1.45h-1.45zM88.03 393.3h1.45v1.45h-1.45zM90.62 393.43h1.45v1.45h-1.45zM75.04 393.73h1.45v1.45h-1.45zM86.95 398.4h1.45v1.45h-1.45zM78.75 400.68h1.45v1.45h-1.45zM83.7 396.53h1.45v1.45h-1.45zM82.53 387.93h1.45v1.45h-1.45zM90.28 397.61h1.45v1.45h-1.45zM92.62 397.38h1.45v1.45h-1.45zM81.44 385.32h1.45v1.45h-1.45zM81.03 390.04h1.45v1.45h-1.45zM80.16 396.06h1.45v1.45h-1.45zM86.21 391.98h1.45v1.45h-1.45zM85.39 392.58h1.45v1.45h-1.45zM85.6 396.88h1.45v1.45h-1.45zM89.55 389.99h1.45v1.45h-1.45zM76.5 400.11h1.45v1.45h-1.45zM85.08 398.57h1.45v1.45h-1.45zM75.78 391.69h1.45v1.45h-1.45zM84.62 386.37h1.45v1.45h-1.45zM81.74 396.74h1.45v1.45h-1.45zM90.18 400.91h1.45v1.45h-1.45zM79.9 386.57h1.45v1.45h-1.45zM87.23 397.78h1.45v1.45h-1.45zM85.5 387.04h1.45v1.45h-1.45zM88.61 397.07h1.45v1.45h-1.45zM87.4 390.94h1.45v1.45h-1.45zM86.08 397.06h1.45v1.45h-1.45zM81.52 384.45h1.45v1.45h-1.45zM86.21 395.58h1.45v1.45h-1.45zM84.55 397.53h1.45v1.45h-1.45zM81.37 392.88h1.45v1.45h-1.45zM82.86 396.01h1.45v1.45h-1.45zM92.92 392.07h1.45v1.45h-1.45zM95.35 400.6h1.45v1.45h-1.45zM88.66 396.09h1.45v1.45h-1.45zM93.85 392.41h1.45v1.45h-1.45zM83.88 388.19h1.45v1.45h-1.45zM86.98 399.71h1.45v1.45h-1.45zM87.29 395.3h1.45v1.45h-1.45zM83.41 394.09h1.45v1.45h-1.45zM76.93 398.3h1.45v1.45h-1.45zM82.31 387.99h1.45v1.45h-1.45zM80.5 389.33h1.45v1.45h-1.45zM89 398.34h1.45v1.45h-1.45zM77.29 397.71h1.45v1.45h-1.45zM89.17 390.5h1.45v1.45h-1.45zM76.61 389.71h1.45v1.45h-1.45zM81.12 394.91h1.45v1.45h-1.45zM82.58 383.56h1.45v1.45h-1.45zM85.71 385.93h1.45v1.45h-1.45zM89.27 387.5h1.45v1.45h-1.45zM80.81 389.18h1.45v1.45h-1.45zM81.6 399.49h1.45v1.45h-1.45zM88.98 396.16h1.45v1.45h-1.45zM86.16 385.86h1.45v1.45h-1.45zM81.72 390.63h1.45v1.45h-1.45zM79.3 395.71h1.45v1.45h-1.45zM80.55 389.88h1.45v1.45h-1.45zM78.95 383.42h1.45v1.45h-1.45zM87.63 399.65h1.45v1.45h-1.45zM85.4 388.6h1.45v1.45h-1.45zM90.91 394.7h1.45v1.45h-1.45zM89.38 400.35h1.45v1.45h-1.45zM90.44 391.16h1.45v1.45h-1.45zM90.04 396.99h1.45v1.45h-1.45zM76.34 391.33h1.45v1.45h-1.45zM76.94 392.75h1.45v1.45h-1.45zM87.54 388.16h1.45v1.45h-1.45zM73.6 399.49h1.45v1.45h-1.45zM86.47 400.32h1.45v1.45h-1.45zM77.47 398.35h1.45v1.45h-1.45zM95.45 402.89h1.45v1.45h-1.45zM83.36 394.56h1.45v1.45h-1.45zM83.66 398.06h1.45v1.45h-1.45zM89.97 393.69h1.45v1.45h-1.45zM77.28 396.82h1.45v1.45h-1.45zM81.99 396.29h1.45v1.45h-1.45zM85.87 401.05h1.45v1.45h-1.45zM90.5 391.12h1.45v1.45h-1.45zM86.32 401.72h1.45v1.45h-1.45zM81.63 395.35h1.45v1.45h-1.45zM90.78 399.29h1.45v1.45h-1.45zM87.22 386.95h1.45v1.45h-1.45zM77.8 394.46h1.45v1.45h-1.45zM79.92 398.72h1.45v1.45h-1.45zM88.55 385.27h1.45v1.45h-1.45zM80.14 394.07h1.45v1.45h-1.45zM81.86 392.54h1.45v1.45h-1.45zM86.96 389.4h1.45v1.45h-1.45zM86.94 390.23h1.45v1.45h-1.45zM81.59 395.85h1.45v1.45h-1.45zM81.44 394.65h1.45v1.45h-1.45zM92.94 393.4h1.45v1.45h-1.45zM83.7 396.8h1.45v1.45h-1.45zM82.54 398.46h1.45v1.45h-1.45zM77.69 396.24h1.45v1.45h-1.45zM81.77 389.45h1.45v1.45h-1.45zM93.84 389.2h1.45v1.45h-1.45zM93.77 396.43h1.45v1.45h-1.45zM92.16 388.6h1.45v1.45h-1.45zM90.82 400.25h1.45v1.45h-1.45zM83.86 392.66h1.45v1.45h-1.45zM97.47 394.12h1.45v1.45h-1.45zM82.24 390.26h1.45v1.45h-1.45zM86.83 394.86h1.45v1.45h-1.45zM88.18 374.07h1.45v1.45h-1.45zM88.18 378.47h1.45v1.45h-1.45zM80.78 380.88h1.45v1.45h-1.45zM90.78 381.27h1.45v1.45h-1.45zM83.88 380.47h1.45v1.45h-1.45z" fill="#000"/>
<line x1="142.5" y1="309.2" x2="142.5" y2="406.5" stroke="#444" stroke-width="0.75"/>
<line x1="138.4" y1="403.5" x2="238.4" y2="403.5" stroke="#444" stroke-width="0.75"/>
<path d="M142.5 403.5v2.8M149.72 403.5v1.5M142.5 396.37h-1.5M153.95 403.5v1.5M142.5 392.2h-1.5M156.95 403.5v1.5M142.5 389.25h-1.5M159.28 403.5v1.5M142.5 386.95h-1.5M161.18 403.5v1.5M142.5 385.08h-1.5M162.78 403.5v1.5M142.5 383.49h-1.5M164.17 403.5v1.5M142.5 382.12h-1.5M165.4 403.5v1.5M142.5 380.91h-1.5M166.5 403.5v2.8M142.5 379.82h-4M173.72 403.5v1.5M142.5 372.7h-1.5M177.95 403.5v1.5M142.5 368.53h-1.5M180.95 403.5v1.5M142.5 365.57h-1.5M183.28 403.5v1.5M142.5 363.28h-1.5M185.18 403.5v1.5M142.5 361.4h-1.5M186.78 403.5v1.5M142.5 359.82h-1.5M188.17 403.5v1.5M142.5 358.44h-1.5M189.4 403.5v1.5M142.5 357.23h-1.5M190.5 403.5v2.8M142.5 356.15h-4M197.72 403.5v1.5M142.5 349.02h-1.5M201.95 403.5v1.5M142.5 344.85h-1.5M204.95 403.5v1.5M142.5 341.9h-1.5M207.28 403.5v1.5M142.5 339.6h-1.5M209.18 403.5v1.5M142.5 337.73h-1.5M210.78 403.5v1.5M142.5 336.14h-1.5M212.17 403.5v1.5M142.5 334.77h-1.5M213.4 403.5v1.5M142.5 333.56h-1.5M214.5 403.5v2.8M142.5 332.48h-4M221.72 403.5v1.5M142.5 325.35h-1.5M225.95 403.5v1.5M142.5 321.18h-1.5M228.95 403.5v1.5M142.5 318.22h-1.5M231.28 403.5v1.5M142.5 315.93h-1.5M233.18 403.5v1.5M142.5 314.05h-1.5M234.78 403.5v1.5M142.5 312.47h-1.5M236.17 403.5v1.5M142.5 311.09h-1.5M237.4 403.5v1.5M142.5 309.88h-1.5M238.5 403.5v2.8M142.5 308.8h-4" stroke="#333" stroke-width="0.7" fill="none"/>
<text x="163.3" y="412.3" font-size="4.7" text-anchor="middle" fill="#222">10<tspan dx="0.5" dy="-1.3" font-size="3.38">1</tspan></text>
<text transform="translate(137.5 383.22) rotate(-90)" font-size="4.7" text-anchor="middle" fill="#222">10<tspan dx="0.5" dy="-1.3" font-size="3.38">1</tspan></text>
<text x="187.3" y="412.3" font-size="4.7" text-anchor="middle" fill="#222">10<tspan dx="0.5" dy="-1.3" font-size="3.38">2</tspan></text>
<text transform="translate(137.5 359.55) rotate(-90)" font-size="4.7" text-anchor="middle" fill="#222">10<tspan dx="0.5" dy="-1.3" font-size="3.38">2</tspan></text>
<text x="211.3" y="412.3" font-size="4.7" text-anchor="middle" fill="#222">10<tspan dx="0.5" dy="-1.3" font-size="3.38">3</tspan></text>
<text transform="translate(137.5 335.88) rotate(-90)" font-size="4.7" text-anchor="middle" fill="#222">10<tspan dx="0.5" dy="-1.3" font-size="3.38">3</tspan></text>
<text x="235.3" y="412.3" font-size="4.7" text-anchor="middle" fill="#222">10<tspan dx="0.5" dy="-1.3" font-size="3.38">4</tspan></text>
<text transform="translate(137.5 312.2) rotate(-90)" font-size="4.7" text-anchor="middle" fill="#222">10<tspan dx="0.5" dy="-1.3" font-size="3.38">4</tspan></text>
<text x="189.9" y="418.5" font-size="4.7" text-anchor="middle" fill="#333">FITC</text>
<text transform="translate(130.78 357.95) rotate(-90)" font-size="4.7" text-anchor="middle" fill="#333">PE</text>
<line x1="180.85" y1="309.2" x2="180.85" y2="403.9" stroke="#5a5a5a" stroke-width="0.9"/>
<line x1="142.4" y1="380.3" x2="238.4" y2="380.3" stroke="#5a5a5a" stroke-width="0.9"/>
<text x="144" y="313.8" font-size="3.8" fill="#444">4</text>
<text x="235.4" y="313.8" font-size="3.8" fill="#444">5</text>
<text x="144" y="401.7" font-size="3.8" fill="#444">6</text>
<text x="235.4" y="401.7" font-size="3.8" fill="#444">7</text>
<ellipse cx="195" cy="393.4" rx="9.03" ry="7.63" fill="#000"/>
<path d="M195.18 400.34h1.45v1.45h-1.45zM192.6 394.78h1.45v1.45h-1.45zM201.75 388.21h1.45v1.45h-1.45zM199.6 400.83h1.45v1.45h-1.45zM187.33 387.79h1.45v1.45h-1.45zM188.95 384.46h1.45v1.45h-1.45zM196.59 384.41h1.45v1.45h-1.45zM196.83 399.14h1.45v1.45h-1.45zM186 391.27h1.45v1.45h-1.45zM184.45 396.14h1.45v1.45h-1.45zM190.5 391.49h1.45v1.45h-1.45zM194.55 395.1h1.45v1.45h-1.45zM192.5 392.74h1.45v1.45h-1.45zM191.47 393.19h1.45v1.45h-1.45zM188.27 392.96h1.45v1.45h-1.45zM184.37 390.49h1.45v1.45h-1.45zM204.09 393.03h1.45v1.45h-1.45zM187.82 393.82h1.45v1.45h-1.45zM189.29 385.32h1.45v1.45h-1.45zM190.5 395.96h1.45v1.45h-1.45zM196.24 392.24h1.45v1.45h-1.45zM189.53 387.87h1.45v1.45h-1.45zM201.19 393.76h1.45v1.45h-1.45zM189.4 383.28h1.45v1.45h-1.45zM188.39 392.33h1.45v1.45h-1.45zM195.35 391.97h1.45v1.45h-1.45zM192.85 386.56h1.45v1.45h-1.45zM188.89 400.19h1.45v1.45h-1.45zM190.4 396.44h1.45v1.45h-1.45zM185.6 391.45h1.45v1.45h-1.45zM195.61 397.29h1.45v1.45h-1.45zM188.52 395.33h1.45v1.45h-1.45zM196.25 389.39h1.45v1.45h-1.45zM196.72 388.68h1.45v1.45h-1.45zM190.2 392.59h1.45v1.45h-1.45zM189.15 386.16h1.45v1.45h-1.45zM192.1 396.07h1.45v1.45h-1.45zM192.2 398.31h1.45v1.45h-1.45zM188.33 386.83h1.45v1.45h-1.45zM202.22 394.45h1.45v1.45h-1.45zM199.12 388.99h1.45v1.45h-1.45zM198.4 393.83h1.45v1.45h-1.45zM197.6 392.79h1.45v1.45h-1.45zM200.46 389.79h1.45v1.45h-1.45zM189.34 386.1h1.45v1.45h-1.45zM200.22 389.39h1.45v1.45h-1.45zM188.93 388.49h1.45v1.45h-1.45zM191.99 387.02h1.45v1.45h-1.45zM192.79 389.88h1.45v1.45h-1.45zM191.45 388.4h1.45v1.45h-1.45zM194.46 390.62h1.45v1.45h-1.45zM194.86 393.79h1.45v1.45h-1.45zM196.02 382.93h1.45v1.45h-1.45zM191.53 389.13h1.45v1.45h-1.45zM198.24 385.65h1.45v1.45h-1.45zM190.61 391.37h1.45v1.45h-1.45zM192.55 397.09h1.45v1.45h-1.45zM192.01 396.97h1.45v1.45h-1.45zM186.77 384.61h1.45v1.45h-1.45zM200.52 394.61h1.45v1.45h-1.45zM196.77 393.22h1.45v1.45h-1.45zM196.76 387.26h1.45v1.45h-1.45zM199.14 390.31h1.45v1.45h-1.45zM199.33 393.07h1.45v1.45h-1.45zM184.16 386.94h1.45v1.45h-1.45zM200.05 392.07h1.45v1.45h-1.45zM192.25 393.76h1.45v1.45h-1.45zM192.1 390.25h1.45v1.45h-1.45zM194.8 393.32h1.45v1.45h-1.45zM202.05 392.88h1.45v1.45h-1.45zM203.91 400.7h1.45v1.45h-1.45zM203.07 397.4h1.45v1.45h-1.45zM194.94 393.29h1.45v1.45h-1.45zM193.54 389.42h1.45v1.45h-1.45zM193.93 389.82h1.45v1.45h-1.45zM202.68 395.05h1.45v1.45h-1.45zM191.99 384.15h1.45v1.45h-1.45zM194 390.82h1.45v1.45h-1.45zM188.71 387.62h1.45v1.45h-1.45zM182.75 395.21h1.45v1.45h-1.45zM194.12 392.02h1.45v1.45h-1.45zM201.67 393.27h1.45v1.45h-1.45zM195.13 391.02h1.45v1.45h-1.45zM191.17 399.35h1.45v1.45h-1.45zM199.4 400.32h1.45v1.45h-1.45zM192.48 392.81h1.45v1.45h-1.45zM189.76 396.98h1.45v1.45h-1.45zM187.14 395.19h1.45v1.45h-1.45zM199.89 398.96h1.45v1.45h-1.45zM189.46 397.53h1.45v1.45h-1.45zM190.62 389.3h1.45v1.45h-1.45zM187.5 397.82h1.45v1.45h-1.45zM202.72 390.03h1.45v1.45h-1.45zM190.38 391.17h1.45v1.45h-1.45zM207.12 397.15h1.45v1.45h-1.45zM191.49 384.69h1.45v1.45h-1.45zM190.83 397.96h1.45v1.45h-1.45zM203.84 391.49h1.45v1.45h-1.45zM190.73 390.4h1.45v1.45h-1.45zM184.61 396.72h1.45v1.45h-1.45zM188.71 397.41h1.45v1.45h-1.45zM185.53 387.02h1.45v1.45h-1.45zM195.75 389.28h1.45v1.45h-1.45zM198.28 392.71h1.45v1.45h-1.45zM188.26 395.44h1.45v1.45h-1.45zM198.59 384.16h1.45v1.45h-1.45zM203.63 394.89h1.45v1.45h-1.45zM198.17 384.39h1.45v1.45h-1.45zM190.59 391.12h1.45v1.45h-1.45zM199.79 386.18h1.45v1.45h-1.45zM189.75 383.64h1.45v1.45h-1.45zM193.04 394.22h1.45v1.45h-1.45zM185.63 390.04h1.45v1.45h-1.45zM196.89 399.73h1.45v1.45h-1.45zM197.68 391.32h1.45v1.45h-1.45zM188.24 388.51h1.45v1.45h-1.45zM190.87 393.33h1.45v1.45h-1.45zM194.02 400.1h1.45v1.45h-1.45zM195.75 387.9h1.45v1.45h-1.45zM202.19 396.9h1.45v1.45h-1.45zM194.79 389.46h1.45v1.45h-1.45zM184.69 388.12h1.45v1.45h-1.45zM198.95 389.1h1.45v1.45h-1.45zM187.51 393.55h1.45v1.45h-1.45zM195.52 395.37h1.45v1.45h-1.45zM197.63 398.95h1.45v1.45h-1.45zM189.97 397.03h1.45v1.45h-1.45zM189.22 395.76h1.45v1.45h-1.45zM195.19 393.76h1.45v1.45h-1.45zM199.23 392.6h1.45v1.45h-1.45zM199.97 396.57h1.45v1.45h-1.45zM194.97 390.15h1.45v1.45h-1.45zM190.41 390.33h1.45v1.45h-1.45zM193.24 392.56h1.45v1.45h-1.45zM198.22 388.84h1.45v1.45h-1.45zM190.63 391.25h1.45v1.45h-1.45zM195.26 388.06h1.45v1.45h-1.45zM202.53 390.17h1.45v1.45h-1.45zM199.8 382.28h1.45v1.45h-1.45zM194.24 393.91h1.45v1.45h-1.45zM195.26 395.35h1.45v1.45h-1.45zM195.71 393.4h1.45v1.45h-1.45zM184.58 389.5h1.45v1.45h-1.45zM195.85 391.81h1.45v1.45h-1.45zM190.07 390.09h1.45v1.45h-1.45zM203.73 400.38h1.45v1.45h-1.45zM193.98 398.41h1.45v1.45h-1.45zM186.14 384.06h1.45v1.45h-1.45zM191.8 388.78h1.45v1.45h-1.45zM191.41 393.51h1.45v1.45h-1.45zM194.53 393.91h1.45v1.45h-1.45zM194.1 396.82h1.45v1.45h-1.45zM203.37 387.14h1.45v1.45h-1.45zM195.1 391.5h1.45v1.45h-1.45zM196.1 385.86h1.45v1.45h-1.45zM185.27 382.36h1.45v1.45h-1.45zM196.97 393.53h1.45v1.45h-1.45zM194.65 382.14h1.45v1.45h-1.45zM192.36 389.31h1.45v1.45h-1.45zM187.03 388.6h1.45v1.45h-1.45zM197.85 395.1h1.45v1.45h-1.45zM194.16 394.97h1.45v1.45h-1.45zM191.18 392.99h1.45v1.45h-1.45zM194.48 395.14h1.45v1.45h-1.45zM193.92 392.04h1.45v1.45h-1.45zM193.58 389.8h1.45v1.45h-1.45zM205.72 394.96h1.45v1.45h-1.45zM201.46 385.75h1.45v1.45h-1.45zM197.84 396.41h1.45v1.45h-1.45zM203.93 398.53h1.45v1.45h-1.45zM198.22 387.43h1.45v1.45h-1.45zM189.81 393.87h1.45v1.45h-1.45zM196.86 388.13h1.45v1.45h-1.45zM192.3 390.89h1.45v1.45h-1.45zM194.59 394.17h1.45v1.45h-1.45zM192.8 387.17h1.45v1.45h-1.45zM200.64 399.78h1.45v1.45h-1.45zM193.73 397.24h1.45v1.45h-1.45zM196.55 395.61h1.45v1.45h-1.45zM196.74 389.28h1.45v1.45h-1.45zM197.22 397.17h1.45v1.45h-1.45zM189.68 401.43h1.45v1.45h-1.45zM204.98 400.79h1.45v1.45h-1.45zM204.47 395.98h1.45v1.45h-1.45zM192.54 390h1.45v1.45h-1.45zM190.11 393.19h1.45v1.45h-1.45zM194.11 395.66h1.45v1.45h-1.45zM205.94 392.55h1.45v1.45h-1.45zM197.74 394.79h1.45v1.45h-1.45zM195.68 391.75h1.45v1.45h-1.45zM193.65 389h1.45v1.45h-1.45zM195.19 392.57h1.45v1.45h-1.45zM195.92 388.87h1.45v1.45h-1.45zM194.48 392.89h1.45v1.45h-1.45zM197.37 387.94h1.45v1.45h-1.45zM196.42 397.05h1.45v1.45h-1.45zM197.33 391.03h1.45v1.45h-1.45zM191.76 391.62h1.45v1.45h-1.45zM198.01 399.59h1.45v1.45h-1.45zM193.47 389.81h1.45v1.45h-1.45zM196.2 393.58h1.45v1.45h-1.45zM189.62 389.39h1.45v1.45h-1.45zM193.75 395.67h1.45v1.45h-1.45zM188.16 388.14h1.45v1.45h-1.45zM196.83 387.22h1.45v1.45h-1.45zM194.83 394.24h1.45v1.45h-1.45zM193.71 388.14h1.45v1.45h-1.45zM193.97 391.2h1.45v1.45h-1.45zM196 388.94h1.45v1.45h-1.45zM199.87 385.22h1.45v1.45h-1.45zM193.37 392.71h1.45v1.45h-1.45zM199.2 389.97h1.45v1.45h-1.45zM197.07 390.15h1.45v1.45h-1.45zM198.06 400.41h1.45v1.45h-1.45zM192.22 394.65h1.45v1.45h-1.45zM189.52 397.01h1.45v1.45h-1.45zM200.48 392.83h1.45v1.45h-1.45zM188.46 394.47h1.45v1.45h-1.45zM200.16 397.53h1.45v1.45h-1.45zM198.44 384.53h1.45v1.45h-1.45zM190.79 399.01h1.45v1.45h-1.45zM187.99 397.71h1.45v1.45h-1.45zM203.92 396.07h1.45v1.45h-1.45zM200.02 391.19h1.45v1.45h-1.45zM188 392.22h1.45v1.45h-1.45zM193.26 392.46h1.45v1.45h-1.45zM197.85 392.03h1.45v1.45h-1.45zM195.26 394.56h1.45v1.45h-1.45zM194.25 400.88h1.45v1.45h-1.45zM196.54 393.05h1.45v1.45h-1.45zM193.21 389.89h1.45v1.45h-1.45zM201.16 393.34h1.45v1.45h-1.45zM188.75 390.17h1.45v1.45h-1.45zM193.58 390.69h1.45v1.45h-1.45zM199.83 387.5h1.45v1.45h-1.45zM196.8 393.31h1.45v1.45h-1.45zM188.24 392.89h1.45v1.45h-1.45zM193.79 394.91h1.45v1.45h-1.45zM191.97 394.02h1.45v1.45h-1.45zM185.74 387.85h1.45v1.45h-1.45zM198.3 397.31h1.45v1.45h-1.45zM194.21 390.01h1.45v1.45h-1.45zM199.82 383.36h1.45v1.45h-1.45zM190.18 395.67h1.45v1.45h-1.45zM197.62 388.08h1.45v1.45h-1.45zM184.6 399.14h1.45v1.45h-1.45zM195.06 388.68h1.45v1.45h-1.45zM194.55 396.69h1.45v1.45h-1.45zM198.07 383.41h1.45v1.45h-1.45zM198.22 384.75h1.45v1.45h-1.45zM200.11 394.45h1.45v1.45h-1.45zM205.82 389.96h1.45v1.45h-1.45zM194.3 397.34h1.45v1.45h-1.45zM191 389.54h1.45v1.45h-1.45zM192.37 392.35h1.45v1.45h-1.45zM188.73 394.83h1.45v1.45h-1.45zM197.06 392.99h1.45v1.45h-1.45zM202.99 391.22h1.45v1.45h-1.45zM200.97 390.24h1.45v1.45h-1.45zM198.15 384.06h1.45v1.45h-1.45zM195.29 391.89h1.45v1.45h-1.45zM191.74 389.96h1.45v1.45h-1.45zM192.49 389.47h1.45v1.45h-1.45zM183.04 390.02h1.45v1.45h-1.45zM191.46 390.34h1.45v1.45h-1.45zM188.86 392.07h1.45v1.45h-1.45zM198.29 391.56h1.45v1.45h-1.45zM191.75 398.72h1.45v1.45h-1.45zM199.28 396.78h1.45v1.45h-1.45zM200.2 391.22h1.45v1.45h-1.45zM193.61 397.63h1.45v1.45h-1.45zM191.44 392.14h1.45v1.45h-1.45zM196.21 394.33h1.45v1.45h-1.45zM192.86 397.05h1.45v1.45h-1.45zM193.36 395.9h1.45v1.45h-1.45zM199.76 395.61h1.45v1.45h-1.45zM198.03 387.51h1.45v1.45h-1.45zM187.56 389.92h1.45v1.45h-1.45zM196.71 399.36h1.45v1.45h-1.45zM188.01 394.04h1.45v1.45h-1.45zM189.9 389.41h1.45v1.45h-1.45zM192.86 395.75h1.45v1.45h-1.45zM195.37 397.93h1.45v1.45h-1.45zM189.22 396.63h1.45v1.45h-1.45zM199.04 392.98h1.45v1.45h-1.45zM196.72 390.17h1.45v1.45h-1.45zM188.69 390.87h1.45v1.45h-1.45zM191.79 400.02h1.45v1.45h-1.45zM195.31 394.06h1.45v1.45h-1.45zM198.08 389.21h1.45v1.45h-1.45zM198.97 394.35h1.45v1.45h-1.45zM186.51 395.35h1.45v1.45h-1.45zM197.11 394.69h1.45v1.45h-1.45zM202.4 390.83h1.45v1.45h-1.45zM196.9 396.01h1.45v1.45h-1.45zM189.66 398.02h1.45v1.45h-1.45zM186.84 386.89h1.45v1.45h-1.45zM196.95 387.83h1.45v1.45h-1.45zM193.68 385.35h1.45v1.45h-1.45zM194.63 387.63h1.45v1.45h-1.45zM196.03 385.85h1.45v1.45h-1.45zM196.57 391.49h1.45v1.45h-1.45zM194.6 392.37h1.45v1.45h-1.45zM194.94 386.79h1.45v1.45h-1.45zM189.48 390.65h1.45v1.45h-1.45zM196.46 383.84h1.45v1.45h-1.45zM190.36 389.96h1.45v1.45h-1.45zM188.86 394.13h1.45v1.45h-1.45zM193.56 389.02h1.45v1.45h-1.45zM189.23 396.27h1.45v1.45h-1.45zM190.9 395.28h1.45v1.45h-1.45zM196.58 384.24h1.45v1.45h-1.45zM188.72 392.69h1.45v1.45h-1.45zM196.03 396.15h1.45v1.45h-1.45zM198.39 397.28h1.45v1.45h-1.45zM192.36 391.74h1.45v1.45h-1.45zM198.25 390.78h1.45v1.45h-1.45zM199.69 385.6h1.45v1.45h-1.45zM197.62 391.9h1.45v1.45h-1.45zM184.2 397.04h1.45v1.45h-1.45zM195.87 392.77h1.45v1.45h-1.45zM188.76 390.6h1.45v1.45h-1.45zM202.02 388.99h1.45v1.45h-1.45zM188.13 392.09h1.45v1.45h-1.45zM192.26 388.61h1.45v1.45h-1.45zM189.96 397.34h1.45v1.45h-1.45zM186.88 401.39h1.45v1.45h-1.45zM191.49 387.81h1.45v1.45h-1.45zM198.31 395.19h1.45v1.45h-1.45zM188.93 396.01h1.45v1.45h-1.45zM184.85 388.56h1.45v1.45h-1.45zM200.05 391.54h1.45v1.45h-1.45zM187.6 394.96h1.45v1.45h-1.45zM198.97 392.58h1.45v1.45h-1.45zM185.02 391.13h1.45v1.45h-1.45zM196.42 396.1h1.45v1.45h-1.45zM203.77 391.55h1.45v1.45h-1.45zM191.8 392.5h1.45v1.45h-1.45zM200.46 388.48h1.45v1.45h-1.45zM198.36 389.67h1.45v1.45h-1.45zM196.63 395.74h1.45v1.45h-1.45zM188.22 392.29h1.45v1.45h-1.45zM195.51 395.29h1.45v1.45h-1.45zM189.51 388.26h1.45v1.45h-1.45zM193.29 391.68h1.45v1.45h-1.45zM186.62 396.82h1.45v1.45h-1.45zM191.54 399.07h1.45v1.45h-1.45zM198.64 392.77h1.45v1.45h-1.45zM198 387.72h1.45v1.45h-1.45zM192.61 390.11h1.45v1.45h-1.45zM187.77 392.75h1.45v1.45h-1.45zM193.53 399.07h1.45v1.45h-1.45zM189.57 390.61h1.45v1.45h-1.45zM196.44 394.47h1.45v1.45h-1.45zM194.42 390.56h1.45v1.45h-1.45zM196.81 394.28h1.45v1.45h-1.45zM184.83 391.51h1.45v1.45h-1.45zM187.23 387.41h1.45v1.45h-1.45zM195.03 392.94h1.45v1.45h-1.45zM194.86 388.78h1.45v1.45h-1.45zM193.24 388.61h1.45v1.45h-1.45zM196.23 395.74h1.45v1.45h-1.45zM203.27 398.31h1.45v1.45h-1.45zM190.15 390.64h1.45v1.45h-1.45zM189.47 394.04h1.45v1.45h-1.45zM204.42 395.83h1.45v1.45h-1.45zM183.01 387.08h1.45v1.45h-1.45zM187.65 394.97h1.45v1.45h-1.45zM194.28 394.01h1.45v1.45h-1.45zM203.4 388.99h1.45v1.45h-1.45zM189.93 401.43h1.45v1.45h-1.45zM196.03 389.21h1.45v1.45h-1.45zM183.88 385.89h1.45v1.45h-1.45zM194.5 397.1h1.45v1.45h-1.45zM193.56 389.59h1.45v1.45h-1.45zM190.48 401.14h1.45v1.45h-1.45zM185.23 393.45h1.45v1.45h-1.45zM194.41 395.42h1.45v1.45h-1.45zM192.2 394.9h1.45v1.45h-1.45zM198.45 392.02h1.45v1.45h-1.45zM191.93 391.85h1.45v1.45h-1.45zM189.33 391.75h1.45v1.45h-1.45zM192.73 393.61h1.45v1.45h-1.45zM201.12 398.5h1.45v1.45h-1.45zM191.99 395.36h1.45v1.45h-1.45zM195.79 396.07h1.45v1.45h-1.45zM194.38 393.86h1.45v1.45h-1.45zM191.87 389.18h1.45v1.45h-1.45zM198.74 398.46h1.45v1.45h-1.45zM197.67 394.62h1.45v1.45h-1.45zM195.64 390.67h1.45v1.45h-1.45zM185.14 395.63h1.45v1.45h-1.45zM195.3 390.21h1.45v1.45h-1.45zM189.33 398.36h1.45v1.45h-1.45zM185.03 400.52h1.45v1.45h-1.45zM190.6 392.58h1.45v1.45h-1.45zM191.68 393.37h1.45v1.45h-1.45zM193.2 389.34h1.45v1.45h-1.45zM199.78 389.18h1.45v1.45h-1.45zM191.67 395.14h1.45v1.45h-1.45zM191.52 390.74h1.45v1.45h-1.45zM196.1 391.04h1.45v1.45h-1.45zM187.89 392.22h1.45v1.45h-1.45zM193.15 400.26h1.45v1.45h-1.45zM188.65 396.99h1.45v1.45h-1.45zM190.25 391.09h1.45v1.45h-1.45zM192.6 393.88h1.45v1.45h-1.45zM198.7 400.47h1.45v1.45h-1.45zM191.01 398.6h1.45v1.45h-1.45zM199.38 396.29h1.45v1.45h-1.45zM190.38 396.68h1.45v1.45h-1.45zM193.72 394.25h1.45v1.45h-1.45zM192.9 395.63h1.45v1.45h-1.45zM199.99 397.71h1.45v1.45h-1.45zM193.22 397.11h1.45v1.45h-1.45zM201.72 388.51h1.45v1.45h-1.45zM201.82 386.73h1.45v1.45h-1.45zM197.06 395.32h1.45v1.45h-1.45zM201.87 393.92h1.45v1.45h-1.45zM191.81 389.13h1.45v1.45h-1.45zM187.86 396.09h1.45v1.45h-1.45zM193.06 389.48h1.45v1.45h-1.45zM197 389.27h1.45v1.45h-1.45zM192.04 390.63h1.45v1.45h-1.45zM202.75 399.19h1.45v1.45h-1.45zM193.47 385.68h1.45v1.45h-1.45zM195.69 392.99h1.45v1.45h-1.45zM196.06 395.19h1.45v1.45h-1.45zM192.63 396.79h1.45v1.45h-1.45zM198.56 393.61h1.45v1.45h-1.45zM192.19 390.54h1.45v1.45h-1.45zM197.82 387.78h1.45v1.45h-1.45zM193.46 389.34h1.45v1.45h-1.45zM187.14 395.36h1.45v1.45h-1.45zM194.14 392.83h1.45v1.45h-1.45zM198.76 386.02h1.45v1.45h-1.45zM193.93 393.96h1.45v1.45h-1.45zM198.54 387.84h1.45v1.45h-1.45zM197.94 393.65h1.45v1.45h-1.45zM201.22 397.74h1.45v1.45h-1.45zM197.09 402.24h1.45v1.45h-1.45zM194.27 390.79h1.45v1.45h-1.45zM192.53 388.49h1.45v1.45h-1.45zM194.13 384.31h1.45v1.45h-1.45zM193.84 394.57h1.45v1.45h-1.45zM199.35 391.13h1.45v1.45h-1.45zM201.39 389.78h1.45v1.45h-1.45zM193.59 384.32h1.45v1.45h-1.45zM190.37 389.15h1.45v1.45h-1.45zM201.75 394.98h1.45v1.45h-1.45zM188.75 395h1.45v1.45h-1.45zM196.68 391.66h1.45v1.45h-1.45zM194.39 391.35h1.45v1.45h-1.45zM191.56 384.97h1.45v1.45h-1.45zM193.82 398.26h1.45v1.45h-1.45zM201.44 391.46h1.45v1.45h-1.45zM190.54 391.76h1.45v1.45h-1.45zM198.77 394.2h1.45v1.45h-1.45zM191.35 394.25h1.45v1.45h-1.45zM193.24 394.91h1.45v1.45h-1.45zM192.24 386.28h1.45v1.45h-1.45zM194.57 395.98h1.45v1.45h-1.45zM188.74 392.21h1.45v1.45h-1.45zM198.66 391.05h1.45v1.45h-1.45zM191.02 401.49h1.45v1.45h-1.45zM198.42 397.13h1.45v1.45h-1.45zM189.55 399.76h1.45v1.45h-1.45zM186.01 390.43h1.45v1.45h-1.45zM197.97 398.44h1.45v1.45h-1.45zM189.64 389.8h1.45v1.45h-1.45zM195.25 384.32h1.45v1.45h-1.45zM197.46 395.1h1.45v1.45h-1.45zM192.05 395h1.45v1.45h-1.45zM198.14 394.01h1.45v1.45h-1.45zM196.87 399.22h1.45v1.45h-1.45zM191.9 393.37h1.45v1.45h-1.45zM191.68 397.14h1.45v1.45h-1.45zM192.25 394.72h1.45v1.45h-1.45zM194.95 392.96h1.45v1.45h-1.45zM202.8 392.31h1.45v1.45h-1.45zM201.31 396.24h1.45v1.45h-1.45zM200.82 391.96h1.45v1.45h-1.45zM198.88 395.93h1.45v1.45h-1.45zM191.23 393.83h1.45v1.45h-1.45zM193.64 392.52h1.45v1.45h-1.45zM200.72 389.57h1.45v1.45h-1.45zM185.95 385.18h1.45v1.45h-1.45zM192.03 389.9h1.45v1.45h-1.45zM194.35 395.11h1.45v1.45h-1.45zM202.98 394h1.45v1.45h-1.45zM196.57 389.52h1.45v1.45h-1.45zM197.15 398.51h1.45v1.45h-1.45zM200.9 384.28h1.45v1.45h-1.45zM198.68 399.47h1.45v1.45h-1.45zM198.36 386.26h1.45v1.45h-1.45zM192.76 395.2h1.45v1.45h-1.45zM196.33 389.19h1.45v1.45h-1.45zM189.88 396.82h1.45v1.45h-1.45zM187.69 398.82h1.45v1.45h-1.45zM194.37 393.96h1.45v1.45h-1.45zM187.69 390.12h1.45v1.45h-1.45zM197.67 386.37h1.45v1.45h-1.45zM204.49 386.66h1.45v1.45h-1.45zM188.25 392.86h1.45v1.45h-1.45zM196.65 395.81h1.45v1.45h-1.45zM192.45 391.79h1.45v1.45h-1.45zM193.11 390.21h1.45v1.45h-1.45zM195.51 393.35h1.45v1.45h-1.45zM191.18 393.75h1.45v1.45h-1.45zM194.21 392.35h1.45v1.45h-1.45zM199.72 385.31h1.45v1.45h-1.45zM195.52 388.11h1.45v1.45h-1.45zM192.71 399.09h1.45v1.45h-1.45zM188.94 392.25h1.45v1.45h-1.45zM191.36 396.74h1.45v1.45h-1.45zM189.45 385.48h1.45v1.45h-1.45zM196.8 391.16h1.45v1.45h-1.45zM192.7 397.29h1.45v1.45h-1.45zM189.91 391.08h1.45v1.45h-1.45zM195 394.44h1.45v1.45h-1.45zM191.73 397.1h1.45v1.45h-1.45zM205.3 390.93h1.45v1.45h-1.45zM203.48 383.66h1.45v1.45h-1.45zM201.2 391.2h1.45v1.45h-1.45zM194.95 391.22h1.45v1.45h-1.45zM191.14 387.21h1.45v1.45h-1.45zM192.33 398.22h1.45v1.45h-1.45zM199.89 391.19h1.45v1.45h-1.45zM191.68 389.67h1.45v1.45h-1.45zM188.37 400.39h1.45v1.45h-1.45zM197.54 393.18h1.45v1.45h-1.45zM191.86 388.31h1.45v1.45h-1.45zM200.75 396.01h1.45v1.45h-1.45zM189.59 396.9h1.45v1.45h-1.45zM188.83 395.42h1.45v1.45h-1.45zM189.55 390.9h1.45v1.45h-1.45zM196.71 394.52h1.45v1.45h-1.45zM199.25 389.1h1.45v1.45h-1.45zM202.04 398.42h1.45v1.45h-1.45zM194.22 394.66h1.45v1.45h-1.45zM190.45 392.02h1.45v1.45h-1.45zM187.78 393.06h1.45v1.45h-1.45zM195.26 398.42h1.45v1.45h-1.45zM198.94 396.16h1.45v1.45h-1.45zM192.49 391.71h1.45v1.45h-1.45zM192.6 393.63h1.45v1.45h-1.45zM184.78 395.97h1.45v1.45h-1.45zM186.57 390.47h1.45v1.45h-1.45zM194.38 390.48h1.45v1.45h-1.45zM202.46 392.26h1.45v1.45h-1.45zM202.01 397.69h1.45v1.45h-1.45zM191.83 394.39h1.45v1.45h-1.45zM200.66 391.25h1.45v1.45h-1.45zM194.71 390.29h1.45v1.45h-1.45zM194.56 391.16h1.45v1.45h-1.45zM194.68 396.96h1.45v1.45h-1.45zM201.13 393.24h1.45v1.45h-1.45zM195.27 396.33h1.45v1.45h-1.45zM192.85 388.15h1.45v1.45h-1.45zM199.74 388.68h1.45v1.45h-1.45zM198.85 388.55h1.45v1.45h-1.45zM203.28 388.21h1.45v1.45h-1.45zM198.45 399.08h1.45v1.45h-1.45zM189.55 399.02h1.45v1.45h-1.45zM190.23 385.13h1.45v1.45h-1.45zM197.83 395.67h1.45v1.45h-1.45zM193.28 381.88h1.45v1.45h-1.45zM194.01 391.37h1.45v1.45h-1.45zM192.41 391.44h1.45v1.45h-1.45zM185.47 390.25h1.45v1.45h-1.45zM203.13 399.28h1.45v1.45h-1.45zM192.5 389.63h1.45v1.45h-1.45zM196.22 397.21h1.45v1.45h-1.45zM197.83 387.68h1.45v1.45h-1.45zM195.07 393.27h1.45v1.45h-1.45zM201.35 397.79h1.45v1.45h-1.45zM196.85 397.87h1.45v1.45h-1.45zM192.33 399.25h1.45v1.45h-1.45zM192.18 394.37h1.45v1.45h-1.45zM198.79 388.77h1.45v1.45h-1.45zM190.82 385.16h1.45v1.45h-1.45zM195.09 392.44h1.45v1.45h-1.45zM192.67 394.8h1.45v1.45h-1.45zM183.86 392.57h1.45v1.45h-1.45zM194.7 391.54h1.45v1.45h-1.45zM198.18 400.16h1.45v1.45h-1.45zM192.08 388.66h1.45v1.45h-1.45zM191.3 393.07h1.45v1.45h-1.45zM197.16 388.99h1.45v1.45h-1.45zM199.19 388.3h1.45v1.45h-1.45zM198.34 394.5h1.45v1.45h-1.45zM196.56 401.9h1.45v1.45h-1.45zM192.98 391.97h1.45v1.45h-1.45zM196.62 396.36h1.45v1.45h-1.45zM187.69 393.85h1.45v1.45h-1.45zM190.63 395.37h1.45v1.45h-1.45zM201.01 392.9h1.45v1.45h-1.45zM193.75 393.46h1.45v1.45h-1.45zM197.04 393.38h1.45v1.45h-1.45zM192.33 389.55h1.45v1.45h-1.45zM193.39 397.86h1.45v1.45h-1.45zM193.77 398.43h1.45v1.45h-1.45zM195.62 392.62h1.45v1.45h-1.45zM186.11 389.83h1.45v1.45h-1.45zM200.42 387.15h1.45v1.45h-1.45zM189.4 387.99h1.45v1.45h-1.45zM191.56 395.42h1.45v1.45h-1.45zM197.2 384h1.45v1.45h-1.45zM201.46 390.14h1.45v1.45h-1.45zM191.38 399.8h1.45v1.45h-1.45zM193.87 387.38h1.45v1.45h-1.45zM191.13 389.57h1.45v1.45h-1.45zM189.31 391.25h1.45v1.45h-1.45zM198.59 394.17h1.45v1.45h-1.45zM189.41 393.17h1.45v1.45h-1.45zM194.43 395.93h1.45v1.45h-1.45zM192.66 394.63h1.45v1.45h-1.45zM204.63 393.08h1.45v1.45h-1.45zM188.95 394.08h1.45v1.45h-1.45zM190.33 391.09h1.45v1.45h-1.45zM195.2 394.11h1.45v1.45h-1.45zM192.88 396.3h1.45v1.45h-1.45zM193.33 387.1h1.45v1.45h-1.45zM198.59 391.12h1.45v1.45h-1.45zM200.24 389.88h1.45v1.45h-1.45zM197.09 394.02h1.45v1.45h-1.45zM188.77 398.69h1.45v1.45h-1.45zM184.99 396.58h1.45v1.45h-1.45zM199.65 394.79h1.45v1.45h-1.45zM197.59 390.56h1.45v1.45h-1.45zM194.22 393.64h1.45v1.45h-1.45zM196.35 395.7h1.45v1.45h-1.45zM193.26 389.68h1.45v1.45h-1.45zM191.51 394.43h1.45v1.45h-1.45zM186.1 387.32h1.45v1.45h-1.45zM192.25 390.31h1.45v1.45h-1.45zM192.94 381.3h1.45v1.45h-1.45zM192.6 391.6h1.45v1.45h-1.45zM198.09 384.21h1.45v1.45h-1.45zM192.77 394.7h1.45v1.45h-1.45zM196.68 397.79h1.45v1.45h-1.45zM199.47 388.19h1.45v1.45h-1.45zM197.41 391.24h1.45v1.45h-1.45zM190.32 399.24h1.45v1.45h-1.45zM191.18 389.02h1.45v1.45h-1.45zM192.27 389.03h1.45v1.45h-1.45zM199.23 394.3h1.45v1.45h-1.45zM201.17 394.44h1.45v1.45h-1.45zM191.24 397.16h1.45v1.45h-1.45zM191.05 390.7h1.45v1.45h-1.45zM193.45 392.84h1.45v1.45h-1.45zM200.16 390.08h1.45v1.45h-1.45zM196.01 392.56h1.45v1.45h-1.45zM188.07 387.98h1.45v1.45h-1.45zM193.19 394.41h1.45v1.45h-1.45zM195.86 394.73h1.45v1.45h-1.45zM194.51 390.75h1.45v1.45h-1.45zM196.38 388.38h1.45v1.45h-1.45zM187.65 391.25h1.45v1.45h-1.45zM187.22 390.47h1.45v1.45h-1.45zM190.59 390.3h1.45v1.45h-1.45zM194.05 389.24h1.45v1.45h-1.45zM192.19 385.34h1.45v1.45h-1.45zM194.99 388.9h1.45v1.45h-1.45zM190.31 393.72h1.45v1.45h-1.45zM194.74 393.12h1.45v1.45h-1.45zM186.88 393.66h1.45v1.45h-1.45zM195.01 388.5h1.45v1.45h-1.45zM197.95 392.46h1.45v1.45h-1.45zM194.37 390.74h1.45v1.45h-1.45zM196.98 393.09h1.45v1.45h-1.45zM199.9 394.61h1.45v1.45h-1.45zM191.22 391.72h1.45v1.45h-1.45zM198.82 391.11h1.45v1.45h-1.45zM196.17 394.92h1.45v1.45h-1.45zM193.39 382.66h1.45v1.45h-1.45zM194.93 393.6h1.45v1.45h-1.45zM194.95 389.41h1.45v1.45h-1.45zM200.26 392.1h1.45v1.45h-1.45zM191.19 389.59h1.45v1.45h-1.45zM196.05 387.98h1.45v1.45h-1.45zM189.32 401.29h1.45v1.45h-1.45zM200.77 397.21h1.45v1.45h-1.45zM201.04 395.24h1.45v1.45h-1.45zM185.92 397.82h1.45v1.45h-1.45zM200.42 394.79h1.45v1.45h-1.45zM184.58 398.03h1.45v1.45h-1.45zM201.05 390.55h1.45v1.45h-1.45zM194.91 396.02h1.45v1.45h-1.45zM193.85 397.41h1.45v1.45h-1.45zM194.68 395.66h1.45v1.45h-1.45zM194.7 386.3h1.45v1.45h-1.45zM195.66 398.33h1.45v1.45h-1.45zM199.93 400.07h1.45v1.45h-1.45zM197.03 390.1h1.45v1.45h-1.45zM194.37 384.39h1.45v1.45h-1.45zM193.34 396.59h1.45v1.45h-1.45zM183.53 393.52h1.45v1.45h-1.45zM198.37 398.41h1.45v1.45h-1.45zM189.67 389.86h1.45v1.45h-1.45zM193.08 342.07h1.45v1.45h-1.45zM199.58 343.17h1.45v1.45h-1.45zM184.88 347.27h1.45v1.45h-1.45zM187.28 349.77h1.45v1.45h-1.45zM190.58 352.27h1.45v1.45h-1.45zM195.47 349.77h1.45v1.45h-1.45zM197.97 355.47h1.45v1.45h-1.45zM200.38 354.67h1.45v1.45h-1.45zM184.08 359.57h1.45v1.45h-1.45zM186.47 360.38h1.45v1.45h-1.45zM188.97 358.77h1.45v1.45h-1.45zM190.58 361.27h1.45v1.45h-1.45zM196.28 362.07h1.45v1.45h-1.45zM198.78 363.67h1.45v1.45h-1.45zM187.28 367.77h1.45v1.45h-1.45zM190.58 366.17h1.45v1.45h-1.45zM193.88 368.57h1.45v1.45h-1.45zM197.18 366.97h1.45v1.45h-1.45zM188.18 371.88h1.45v1.45h-1.45zM190.58 372.67h1.45v1.45h-1.45zM198.78 372.67h1.45v1.45h-1.45zM200.38 374.38h1.45v1.45h-1.45zM185.68 377.67h1.45v1.45h-1.45zM189.78 378.47h1.45v1.45h-1.45zM197.97 378.47h1.45v1.45h-1.45zM193.88 380.88h1.45v1.45h-1.45zM200.38 380.88h1.45v1.45h-1.45zM203.68 380.07h1.45v1.45h-1.45zM193.68 343.47h1.45v1.45h-1.45zM185.78 348.57h1.45v1.45h-1.45zM188.28 350.97h1.45v1.45h-1.45zM189.47 359.88h1.45v1.45h-1.45zM188.08 358.47h1.45v1.45h-1.45zM185.47 361.07h1.45v1.45h-1.45zM197.78 350.47h1.45v1.45h-1.45zM192.08 375.47h1.45v1.45h-1.45zM195.68 377.27h1.45v1.45h-1.45zM183.88 376.27h1.45v1.45h-1.45zM202.28 382.27h1.45v1.45h-1.45z" fill="#000"/>
<line x1="36.5" y1="417.3" x2="36.5" y2="514.5" stroke="#444" stroke-width="0.75"/>
<line x1="32.2" y1="511.5" x2="132.2" y2="511.5" stroke="#444" stroke-width="0.75"/>
<path d="M36.5 511.5v2.8M43.72 511.5v1.5M36.5 504.38h-1.5M47.95 511.5v1.5M36.5 500.22h-1.5M50.95 511.5v1.5M36.5 497.26h-1.5M53.28 511.5v1.5M36.5 494.97h-1.5M55.18 511.5v1.5M36.5 493.1h-1.5M56.78 511.5v1.5M36.5 491.51h-1.5M58.17 511.5v1.5M36.5 490.14h-1.5M59.4 511.5v1.5M36.5 488.93h-1.5M60.5 511.5v2.8M36.5 487.85h-4M67.72 511.5v1.5M36.5 480.73h-1.5M71.95 511.5v1.5M36.5 476.57h-1.5M74.95 511.5v1.5M36.5 473.61h-1.5M77.28 511.5v1.5M36.5 471.32h-1.5M79.18 511.5v1.5M36.5 469.45h-1.5M80.78 511.5v1.5M36.5 467.86h-1.5M82.17 511.5v1.5M36.5 466.49h-1.5M83.4 511.5v1.5M36.5 465.28h-1.5M84.5 511.5v2.8M36.5 464.2h-4M91.72 511.5v1.5M36.5 457.08h-1.5M95.95 511.5v1.5M36.5 452.92h-1.5M98.95 511.5v1.5M36.5 449.96h-1.5M101.28 511.5v1.5M36.5 447.67h-1.5M103.18 511.5v1.5M36.5 445.8h-1.5M104.78 511.5v1.5M36.5 444.21h-1.5M106.17 511.5v1.5M36.5 442.84h-1.5M107.4 511.5v1.5M36.5 441.63h-1.5M108.5 511.5v2.8M36.5 440.55h-4M115.72 511.5v1.5M36.5 433.43h-1.5M119.95 511.5v1.5M36.5 429.27h-1.5M122.95 511.5v1.5M36.5 426.31h-1.5M125.28 511.5v1.5M36.5 424.02h-1.5M127.18 511.5v1.5M36.5 422.15h-1.5M128.78 511.5v1.5M36.5 420.56h-1.5M130.17 511.5v1.5M36.5 419.19h-1.5M131.4 511.5v1.5M36.5 417.98h-1.5M132.5 511.5v2.8M36.5 416.9h-4" stroke="#333" stroke-width="0.7" fill="none"/>
<text x="57.3" y="520.3" font-size="4.7" text-anchor="middle" fill="#222">10<tspan dx="0.5" dy="-1.3" font-size="3.38">1</tspan></text>
<text transform="translate(31.5 491.25) rotate(-90)" font-size="4.7" text-anchor="middle" fill="#222">10<tspan dx="0.5" dy="-1.3" font-size="3.38">1</tspan></text>
<text x="81.3" y="520.3" font-size="4.7" text-anchor="middle" fill="#222">10<tspan dx="0.5" dy="-1.3" font-size="3.38">2</tspan></text>
<text transform="translate(31.5 467.6) rotate(-90)" font-size="4.7" text-anchor="middle" fill="#222">10<tspan dx="0.5" dy="-1.3" font-size="3.38">2</tspan></text>
<text x="105.3" y="520.3" font-size="4.7" text-anchor="middle" fill="#222">10<tspan dx="0.5" dy="-1.3" font-size="3.38">3</tspan></text>
<text transform="translate(31.5 443.95) rotate(-90)" font-size="4.7" text-anchor="middle" fill="#222">10<tspan dx="0.5" dy="-1.3" font-size="3.38">3</tspan></text>
<text x="129.3" y="520.3" font-size="4.7" text-anchor="middle" fill="#222">10<tspan dx="0.5" dy="-1.3" font-size="3.38">4</tspan></text>
<text transform="translate(31.5 420.3) rotate(-90)" font-size="4.7" text-anchor="middle" fill="#222">10<tspan dx="0.5" dy="-1.3" font-size="3.38">4</tspan></text>
<text x="83.9" y="526.5" font-size="4.7" text-anchor="middle" fill="#333">FITC</text>
<text transform="translate(24.78 466) rotate(-90)" font-size="4.7" text-anchor="middle" fill="#333">PE</text>
<line x1="67.8" y1="417.3" x2="67.8" y2="511.9" stroke="#5a5a5a" stroke-width="0.9"/>
<line x1="36.2" y1="489.5" x2="132.2" y2="489.5" stroke="#5a5a5a" stroke-width="0.9"/>
<text x="37.8" y="421.9" font-size="3.8" fill="#444">4</text>
<text x="129.2" y="421.9" font-size="3.8" fill="#444">5</text>
<text x="37.8" y="509.7" font-size="3.8" fill="#444">6</text>
<text x="129.2" y="509.7" font-size="3.8" fill="#444">7</text>
<ellipse cx="83.4" cy="500.8" rx="9.32" ry="7.92" fill="#000"/>
<path d="M73.05 495.51h1.45v1.45h-1.45zM85.42 509.35h1.45v1.45h-1.45zM76.79 506.26h1.45v1.45h-1.45zM84.87 497.86h1.45v1.45h-1.45zM82.33 501.06h1.45v1.45h-1.45zM93.62 508.14h1.45v1.45h-1.45zM94.31 500.68h1.45v1.45h-1.45zM87.72 506.2h1.45v1.45h-1.45zM85.31 501.69h1.45v1.45h-1.45zM81.73 498.24h1.45v1.45h-1.45zM76.35 508.83h1.45v1.45h-1.45zM80.38 490.74h1.45v1.45h-1.45zM84.03 499.92h1.45v1.45h-1.45zM83.58 508.23h1.45v1.45h-1.45zM82.13 498.88h1.45v1.45h-1.45zM78.84 499.97h1.45v1.45h-1.45zM80.42 500.99h1.45v1.45h-1.45zM78.27 508.75h1.45v1.45h-1.45zM87.12 503.74h1.45v1.45h-1.45zM86.36 503.76h1.45v1.45h-1.45zM86.15 506.41h1.45v1.45h-1.45zM87.86 506.14h1.45v1.45h-1.45zM80.09 500.06h1.45v1.45h-1.45zM78.92 504.38h1.45v1.45h-1.45zM86.96 497.98h1.45v1.45h-1.45zM89.05 495.06h1.45v1.45h-1.45zM82.2 502.93h1.45v1.45h-1.45zM82.49 501.81h1.45v1.45h-1.45zM88.75 501.55h1.45v1.45h-1.45zM77.02 503.29h1.45v1.45h-1.45zM82.17 500.59h1.45v1.45h-1.45zM79.76 493.85h1.45v1.45h-1.45zM76.25 498.49h1.45v1.45h-1.45zM88.59 494.85h1.45v1.45h-1.45zM78.94 502.47h1.45v1.45h-1.45zM70.25 506.11h1.45v1.45h-1.45zM78.71 503.04h1.45v1.45h-1.45zM80.19 501.45h1.45v1.45h-1.45zM83.22 500.07h1.45v1.45h-1.45zM73.26 493.46h1.45v1.45h-1.45zM82.46 506.42h1.45v1.45h-1.45zM79.86 502.47h1.45v1.45h-1.45zM83.51 502.25h1.45v1.45h-1.45zM87.79 493.33h1.45v1.45h-1.45zM84.09 499.27h1.45v1.45h-1.45zM81.07 496.23h1.45v1.45h-1.45zM78.62 495.44h1.45v1.45h-1.45zM91.44 500.12h1.45v1.45h-1.45zM86.5 495.68h1.45v1.45h-1.45zM83.4 506.55h1.45v1.45h-1.45zM82.46 495.57h1.45v1.45h-1.45zM81.43 495.58h1.45v1.45h-1.45zM75.48 499.03h1.45v1.45h-1.45zM80.61 496.42h1.45v1.45h-1.45zM78.11 495.89h1.45v1.45h-1.45zM83.89 506.35h1.45v1.45h-1.45zM81.59 510.14h1.45v1.45h-1.45zM74.33 501.31h1.45v1.45h-1.45zM76.71 499.35h1.45v1.45h-1.45zM83.2 502.59h1.45v1.45h-1.45zM88.5 497.58h1.45v1.45h-1.45zM76.27 499.23h1.45v1.45h-1.45zM84.19 496.93h1.45v1.45h-1.45zM87.28 507.66h1.45v1.45h-1.45zM75.34 501.71h1.45v1.45h-1.45zM87.92 491.42h1.45v1.45h-1.45zM83.74 499.06h1.45v1.45h-1.45zM75.33 506h1.45v1.45h-1.45zM83.8 497.92h1.45v1.45h-1.45zM84.96 502.97h1.45v1.45h-1.45zM86.64 502.69h1.45v1.45h-1.45zM84.78 494.78h1.45v1.45h-1.45zM80.5 500.65h1.45v1.45h-1.45zM80.72 495.33h1.45v1.45h-1.45zM73.29 501.2h1.45v1.45h-1.45zM82.84 497.45h1.45v1.45h-1.45zM80.53 496.08h1.45v1.45h-1.45zM78.81 499.63h1.45v1.45h-1.45zM79.35 503.13h1.45v1.45h-1.45zM81.94 500.67h1.45v1.45h-1.45zM84.77 505.8h1.45v1.45h-1.45zM85.78 501.1h1.45v1.45h-1.45zM81.83 496.45h1.45v1.45h-1.45zM80.91 503.15h1.45v1.45h-1.45zM83.84 498.33h1.45v1.45h-1.45zM75.81 493.17h1.45v1.45h-1.45zM84.33 504.7h1.45v1.45h-1.45zM84.6 493.89h1.45v1.45h-1.45zM81.58 501.07h1.45v1.45h-1.45zM77.94 501.64h1.45v1.45h-1.45zM81.64 496.32h1.45v1.45h-1.45zM76.27 503.73h1.45v1.45h-1.45zM84.51 496.08h1.45v1.45h-1.45zM77.45 504.08h1.45v1.45h-1.45zM85.75 498.7h1.45v1.45h-1.45zM90.89 498.77h1.45v1.45h-1.45zM77.23 504.99h1.45v1.45h-1.45zM81.7 501.63h1.45v1.45h-1.45zM82.87 495.57h1.45v1.45h-1.45zM76.56 499.2h1.45v1.45h-1.45zM89.92 495.56h1.45v1.45h-1.45zM89.68 501.07h1.45v1.45h-1.45zM76.94 501.27h1.45v1.45h-1.45zM85.6 496.03h1.45v1.45h-1.45zM71.7 501.68h1.45v1.45h-1.45zM76.96 502.06h1.45v1.45h-1.45zM72.83 499.44h1.45v1.45h-1.45zM78.51 493.42h1.45v1.45h-1.45zM81.43 500.85h1.45v1.45h-1.45zM79.81 494.77h1.45v1.45h-1.45zM83.77 492.21h1.45v1.45h-1.45zM85.43 502.28h1.45v1.45h-1.45zM91.31 504.05h1.45v1.45h-1.45zM84.5 501.26h1.45v1.45h-1.45zM82.82 494.12h1.45v1.45h-1.45zM90.2 502.44h1.45v1.45h-1.45zM81.2 494.93h1.45v1.45h-1.45zM90.31 502.46h1.45v1.45h-1.45zM76.58 503.09h1.45v1.45h-1.45zM92.42 499.97h1.45v1.45h-1.45zM84.73 498.21h1.45v1.45h-1.45zM79.44 504.89h1.45v1.45h-1.45zM82.04 503.64h1.45v1.45h-1.45zM81.11 503.35h1.45v1.45h-1.45zM86.94 495.51h1.45v1.45h-1.45zM77.16 499.74h1.45v1.45h-1.45zM86.95 501.32h1.45v1.45h-1.45zM89.05 493.9h1.45v1.45h-1.45zM85.21 497.28h1.45v1.45h-1.45zM83.19 501.52h1.45v1.45h-1.45zM77.69 499.05h1.45v1.45h-1.45zM76.7 501.27h1.45v1.45h-1.45zM78.31 497.86h1.45v1.45h-1.45zM83.8 497.15h1.45v1.45h-1.45zM88.57 497.22h1.45v1.45h-1.45zM87.04 501.34h1.45v1.45h-1.45zM77.36 499.1h1.45v1.45h-1.45zM78.38 498.45h1.45v1.45h-1.45zM81.28 508.22h1.45v1.45h-1.45zM80.52 507.1h1.45v1.45h-1.45zM84.97 494.22h1.45v1.45h-1.45zM70.81 503.11h1.45v1.45h-1.45zM72.46 503.29h1.45v1.45h-1.45zM87.95 501.82h1.45v1.45h-1.45zM81.6 498.95h1.45v1.45h-1.45zM84 498.72h1.45v1.45h-1.45zM79.93 498.42h1.45v1.45h-1.45zM88.67 497.3h1.45v1.45h-1.45zM84.62 494.92h1.45v1.45h-1.45zM79.02 493.93h1.45v1.45h-1.45zM81.66 503.13h1.45v1.45h-1.45zM84.24 497.87h1.45v1.45h-1.45zM85.81 498.52h1.45v1.45h-1.45zM84.58 501.3h1.45v1.45h-1.45zM85.45 488.99h1.45v1.45h-1.45zM76 503.54h1.45v1.45h-1.45zM82.13 510.11h1.45v1.45h-1.45zM81.47 497.61h1.45v1.45h-1.45zM90.33 502.56h1.45v1.45h-1.45zM92.4 502.35h1.45v1.45h-1.45zM81.63 503.31h1.45v1.45h-1.45zM78.64 498.08h1.45v1.45h-1.45zM79.83 499.08h1.45v1.45h-1.45zM86.66 497.92h1.45v1.45h-1.45zM84.32 497.85h1.45v1.45h-1.45zM81.61 500.83h1.45v1.45h-1.45zM77.16 504.6h1.45v1.45h-1.45zM83.78 505.8h1.45v1.45h-1.45zM87.6 502.94h1.45v1.45h-1.45zM81.91 495.22h1.45v1.45h-1.45zM81.55 498.02h1.45v1.45h-1.45zM83.95 498h1.45v1.45h-1.45zM88.68 497.98h1.45v1.45h-1.45zM81.44 504.21h1.45v1.45h-1.45zM82.69 494.66h1.45v1.45h-1.45zM84.79 499.2h1.45v1.45h-1.45zM72.15 500.96h1.45v1.45h-1.45zM77.28 496.75h1.45v1.45h-1.45zM85.14 501.41h1.45v1.45h-1.45zM81.19 509.76h1.45v1.45h-1.45zM84.82 497.34h1.45v1.45h-1.45zM83.88 499.53h1.45v1.45h-1.45zM71.41 493.05h1.45v1.45h-1.45zM75.57 509.29h1.45v1.45h-1.45zM81.74 498.84h1.45v1.45h-1.45zM79.79 504.45h1.45v1.45h-1.45zM82.82 507.68h1.45v1.45h-1.45zM86.7 507.41h1.45v1.45h-1.45zM82.08 501.75h1.45v1.45h-1.45zM80.46 499.32h1.45v1.45h-1.45zM73.84 497.48h1.45v1.45h-1.45zM77.82 497.17h1.45v1.45h-1.45zM88.88 501.24h1.45v1.45h-1.45zM88.93 503.9h1.45v1.45h-1.45zM87.37 504.55h1.45v1.45h-1.45zM79.59 503.65h1.45v1.45h-1.45zM81.03 497.71h1.45v1.45h-1.45zM88.77 509.71h1.45v1.45h-1.45zM77.68 507.81h1.45v1.45h-1.45zM86.91 496.3h1.45v1.45h-1.45zM84.07 501.73h1.45v1.45h-1.45zM84.59 498.49h1.45v1.45h-1.45zM76.12 500.21h1.45v1.45h-1.45zM87.07 503.57h1.45v1.45h-1.45zM86.05 504.98h1.45v1.45h-1.45zM77.62 499.89h1.45v1.45h-1.45zM84.41 504.52h1.45v1.45h-1.45zM83.47 502.38h1.45v1.45h-1.45zM83.36 509.42h1.45v1.45h-1.45zM71.54 499.97h1.45v1.45h-1.45zM95.3 501.12h1.45v1.45h-1.45zM73.34 500.67h1.45v1.45h-1.45zM75.37 497.05h1.45v1.45h-1.45zM83.82 507.7h1.45v1.45h-1.45zM85.03 503.05h1.45v1.45h-1.45zM87.87 500.97h1.45v1.45h-1.45zM78.31 499.64h1.45v1.45h-1.45zM84.39 498.84h1.45v1.45h-1.45zM79.27 498.48h1.45v1.45h-1.45zM75.02 495.52h1.45v1.45h-1.45zM82.21 498.47h1.45v1.45h-1.45zM82.87 506.32h1.45v1.45h-1.45zM84.2 499.93h1.45v1.45h-1.45zM76.7 495.28h1.45v1.45h-1.45zM84.59 496.19h1.45v1.45h-1.45zM84.86 495.3h1.45v1.45h-1.45zM83.36 499.75h1.45v1.45h-1.45zM87.75 498.33h1.45v1.45h-1.45zM80.78 501.17h1.45v1.45h-1.45zM82.95 507.59h1.45v1.45h-1.45zM81.36 497.69h1.45v1.45h-1.45zM81.05 502.18h1.45v1.45h-1.45zM83.87 503.16h1.45v1.45h-1.45zM92.05 499.94h1.45v1.45h-1.45zM76.52 500.76h1.45v1.45h-1.45zM84.79 490.15h1.45v1.45h-1.45zM82.74 493.5h1.45v1.45h-1.45zM85.01 506.22h1.45v1.45h-1.45zM87.94 493.38h1.45v1.45h-1.45zM89.71 504.1h1.45v1.45h-1.45zM80.84 502.31h1.45v1.45h-1.45zM90.4 498.6h1.45v1.45h-1.45zM82.6 497.59h1.45v1.45h-1.45zM88.56 490.5h1.45v1.45h-1.45zM89.9 495.77h1.45v1.45h-1.45zM87.39 492.85h1.45v1.45h-1.45zM77.91 497.42h1.45v1.45h-1.45zM86.89 492.87h1.45v1.45h-1.45zM85.75 497.25h1.45v1.45h-1.45zM89 498.69h1.45v1.45h-1.45zM85.15 499.31h1.45v1.45h-1.45zM91.81 498.47h1.45v1.45h-1.45zM82.55 508.89h1.45v1.45h-1.45zM83.07 503.12h1.45v1.45h-1.45zM78.92 500.96h1.45v1.45h-1.45zM71.12 500.54h1.45v1.45h-1.45zM79.38 493.39h1.45v1.45h-1.45zM75.46 505.15h1.45v1.45h-1.45zM84.85 493.33h1.45v1.45h-1.45zM91.91 496.98h1.45v1.45h-1.45zM80.8 501.17h1.45v1.45h-1.45zM76.89 492.89h1.45v1.45h-1.45zM78.88 505.33h1.45v1.45h-1.45zM87.52 493.05h1.45v1.45h-1.45zM88.81 500.23h1.45v1.45h-1.45zM85.22 500.3h1.45v1.45h-1.45zM84.78 495.63h1.45v1.45h-1.45zM78.05 496.95h1.45v1.45h-1.45zM80.8 502.83h1.45v1.45h-1.45zM76.48 507.16h1.45v1.45h-1.45zM79.45 497.46h1.45v1.45h-1.45zM86.26 502h1.45v1.45h-1.45zM80.95 495.32h1.45v1.45h-1.45zM77.58 492.97h1.45v1.45h-1.45zM88.5 504.89h1.45v1.45h-1.45zM92.19 502.29h1.45v1.45h-1.45zM84.37 503.44h1.45v1.45h-1.45zM87.52 498.92h1.45v1.45h-1.45zM84.47 509.65h1.45v1.45h-1.45zM74.05 493.83h1.45v1.45h-1.45zM77.77 503.42h1.45v1.45h-1.45zM88.73 498.57h1.45v1.45h-1.45zM86.1 499.86h1.45v1.45h-1.45zM84.2 497.67h1.45v1.45h-1.45zM82.54 500.05h1.45v1.45h-1.45zM88.44 510h1.45v1.45h-1.45zM73.43 502.44h1.45v1.45h-1.45zM82.65 504.38h1.45v1.45h-1.45zM88.08 503.55h1.45v1.45h-1.45zM86.8 495.85h1.45v1.45h-1.45zM73.99 507.5h1.45v1.45h-1.45zM88.83 495.84h1.45v1.45h-1.45zM89.25 503.04h1.45v1.45h-1.45zM70.17 504.08h1.45v1.45h-1.45zM77.64 505.26h1.45v1.45h-1.45zM79.2 496.77h1.45v1.45h-1.45zM74.8 499.11h1.45v1.45h-1.45zM87.86 497.09h1.45v1.45h-1.45zM73.19 509.62h1.45v1.45h-1.45zM92.08 503.15h1.45v1.45h-1.45zM79.93 494.68h1.45v1.45h-1.45zM74.32 502.56h1.45v1.45h-1.45zM89.3 495.36h1.45v1.45h-1.45zM82.67 498.84h1.45v1.45h-1.45zM81.37 502.31h1.45v1.45h-1.45zM93.34 497.24h1.45v1.45h-1.45zM87.01 504.92h1.45v1.45h-1.45zM81.23 499.41h1.45v1.45h-1.45zM75.83 504.88h1.45v1.45h-1.45zM79.97 497.16h1.45v1.45h-1.45zM83.02 496.25h1.45v1.45h-1.45zM77.36 498.75h1.45v1.45h-1.45zM90.26 499.16h1.45v1.45h-1.45zM85.36 493.54h1.45v1.45h-1.45zM72.74 508.17h1.45v1.45h-1.45zM80.64 493.22h1.45v1.45h-1.45zM82.13 502.78h1.45v1.45h-1.45zM73.86 496.15h1.45v1.45h-1.45zM84 495.97h1.45v1.45h-1.45zM86.74 504.36h1.45v1.45h-1.45zM84.93 498.16h1.45v1.45h-1.45zM82.44 497.26h1.45v1.45h-1.45zM82.01 501.49h1.45v1.45h-1.45zM81.14 504.41h1.45v1.45h-1.45zM95.92 497.64h1.45v1.45h-1.45zM84.43 503.74h1.45v1.45h-1.45zM85.97 499.01h1.45v1.45h-1.45zM80.23 504.55h1.45v1.45h-1.45zM85.87 502.33h1.45v1.45h-1.45zM78.57 502.89h1.45v1.45h-1.45zM86.74 499.25h1.45v1.45h-1.45zM85.98 509.77h1.45v1.45h-1.45zM73.08 502.78h1.45v1.45h-1.45zM76.69 493.99h1.45v1.45h-1.45zM81.47 502.51h1.45v1.45h-1.45zM82.94 494.87h1.45v1.45h-1.45zM75.32 497.59h1.45v1.45h-1.45zM82.75 496.37h1.45v1.45h-1.45zM74.98 507.91h1.45v1.45h-1.45zM78.38 499.38h1.45v1.45h-1.45zM79.87 497.46h1.45v1.45h-1.45zM82.88 498.74h1.45v1.45h-1.45zM85.84 494.78h1.45v1.45h-1.45zM75.07 508.79h1.45v1.45h-1.45zM82.29 503.51h1.45v1.45h-1.45zM88.72 502.55h1.45v1.45h-1.45zM82.86 493.12h1.45v1.45h-1.45zM74.47 504.45h1.45v1.45h-1.45zM86.14 502.62h1.45v1.45h-1.45zM74.18 490.54h1.45v1.45h-1.45zM77.26 494.79h1.45v1.45h-1.45zM83.49 495.5h1.45v1.45h-1.45zM90.79 497.29h1.45v1.45h-1.45zM79.79 503.94h1.45v1.45h-1.45zM84.36 496.05h1.45v1.45h-1.45zM86.89 508.68h1.45v1.45h-1.45zM76.38 498.96h1.45v1.45h-1.45zM77.15 491.38h1.45v1.45h-1.45zM85.89 503.2h1.45v1.45h-1.45zM87.68 502h1.45v1.45h-1.45zM72.33 499.95h1.45v1.45h-1.45zM79.24 494.8h1.45v1.45h-1.45zM76.99 503.51h1.45v1.45h-1.45zM81.15 508.89h1.45v1.45h-1.45zM85.09 491.51h1.45v1.45h-1.45zM87.27 505.68h1.45v1.45h-1.45zM82.84 494.63h1.45v1.45h-1.45zM91.77 494.18h1.45v1.45h-1.45zM82.24 491.51h1.45v1.45h-1.45zM76.22 492.44h1.45v1.45h-1.45zM88.28 505.37h1.45v1.45h-1.45zM80.59 493.98h1.45v1.45h-1.45zM82.36 501.78h1.45v1.45h-1.45zM74.82 494.87h1.45v1.45h-1.45zM82.15 503.24h1.45v1.45h-1.45zM83.06 502.1h1.45v1.45h-1.45zM76.24 488.87h1.45v1.45h-1.45zM84.28 495.94h1.45v1.45h-1.45zM82.04 498.38h1.45v1.45h-1.45zM85.15 496.6h1.45v1.45h-1.45zM90.13 500.22h1.45v1.45h-1.45zM85.41 502.91h1.45v1.45h-1.45zM88.03 501.9h1.45v1.45h-1.45zM73.64 497.24h1.45v1.45h-1.45zM92.29 502.21h1.45v1.45h-1.45zM85.57 502.18h1.45v1.45h-1.45zM79.36 497.01h1.45v1.45h-1.45zM79.33 505.3h1.45v1.45h-1.45zM84.56 508.11h1.45v1.45h-1.45zM85.25 508.62h1.45v1.45h-1.45zM85.04 494.73h1.45v1.45h-1.45zM91.69 501.6h1.45v1.45h-1.45zM88.85 501.05h1.45v1.45h-1.45zM80.98 500.84h1.45v1.45h-1.45zM76.86 494.67h1.45v1.45h-1.45zM78.07 497.7h1.45v1.45h-1.45zM75.64 499.61h1.45v1.45h-1.45zM84.26 509.26h1.45v1.45h-1.45zM92.23 499.85h1.45v1.45h-1.45zM87.27 499.08h1.45v1.45h-1.45zM84.7 499.92h1.45v1.45h-1.45zM79.87 500.42h1.45v1.45h-1.45zM74.99 502.07h1.45v1.45h-1.45zM81.17 495.16h1.45v1.45h-1.45zM80.8 502.59h1.45v1.45h-1.45zM79.14 502.23h1.45v1.45h-1.45zM85.64 507.16h1.45v1.45h-1.45zM77.02 499.57h1.45v1.45h-1.45zM85.34 506.9h1.45v1.45h-1.45zM84.04 503.5h1.45v1.45h-1.45zM75.03 497.42h1.45v1.45h-1.45zM91.33 498.78h1.45v1.45h-1.45zM93.95 496.76h1.45v1.45h-1.45zM81.23 492.82h1.45v1.45h-1.45zM85.99 501.28h1.45v1.45h-1.45zM93.2 500.83h1.45v1.45h-1.45zM81.37 493.66h1.45v1.45h-1.45zM82.25 504.39h1.45v1.45h-1.45zM86.54 505.67h1.45v1.45h-1.45zM87.19 499.86h1.45v1.45h-1.45zM85.83 500.86h1.45v1.45h-1.45zM75.72 507.88h1.45v1.45h-1.45zM84.63 495.28h1.45v1.45h-1.45zM84.69 501.39h1.45v1.45h-1.45zM87.89 506.67h1.45v1.45h-1.45zM90.68 495.74h1.45v1.45h-1.45zM72.95 501.35h1.45v1.45h-1.45zM84.43 501.68h1.45v1.45h-1.45zM76.87 497.94h1.45v1.45h-1.45zM83.7 503.48h1.45v1.45h-1.45zM94.16 501.42h1.45v1.45h-1.45zM79.52 489.28h1.45v1.45h-1.45zM88.3 499.47h1.45v1.45h-1.45zM82.1 495.55h1.45v1.45h-1.45zM86.52 491.87h1.45v1.45h-1.45zM83.24 500.63h1.45v1.45h-1.45zM84.25 506.05h1.45v1.45h-1.45zM82.16 500.51h1.45v1.45h-1.45zM87.17 492.97h1.45v1.45h-1.45zM81.14 500.39h1.45v1.45h-1.45zM87.69 496.41h1.45v1.45h-1.45zM86.89 501.84h1.45v1.45h-1.45zM74.87 493.29h1.45v1.45h-1.45zM75.15 500.72h1.45v1.45h-1.45zM83.76 503.39h1.45v1.45h-1.45zM86.99 497.54h1.45v1.45h-1.45zM88.29 503.83h1.45v1.45h-1.45zM85.15 502.27h1.45v1.45h-1.45zM75.91 501.73h1.45v1.45h-1.45zM77.25 494.6h1.45v1.45h-1.45zM80.84 500.71h1.45v1.45h-1.45zM82.39 498.56h1.45v1.45h-1.45zM77.41 500.93h1.45v1.45h-1.45zM78.78 493.61h1.45v1.45h-1.45zM83.17 506.75h1.45v1.45h-1.45zM80.55 495.2h1.45v1.45h-1.45zM89.96 507.94h1.45v1.45h-1.45zM81.13 499.11h1.45v1.45h-1.45zM83.38 504.64h1.45v1.45h-1.45zM85.01 491.71h1.45v1.45h-1.45zM76.87 494.41h1.45v1.45h-1.45zM84.96 500.56h1.45v1.45h-1.45zM92.1 498.83h1.45v1.45h-1.45zM84.3 500.42h1.45v1.45h-1.45zM84.18 506.85h1.45v1.45h-1.45zM89.51 497.28h1.45v1.45h-1.45zM86.29 498.32h1.45v1.45h-1.45zM83.25 500.8h1.45v1.45h-1.45zM82.79 497.91h1.45v1.45h-1.45zM90.88 498.85h1.45v1.45h-1.45zM86.38 507.81h1.45v1.45h-1.45zM85.98 504.8h1.45v1.45h-1.45zM90 505.09h1.45v1.45h-1.45zM91.74 493.5h1.45v1.45h-1.45zM93.01 500.2h1.45v1.45h-1.45zM73.45 497.13h1.45v1.45h-1.45zM75.32 499.98h1.45v1.45h-1.45zM74.81 495.44h1.45v1.45h-1.45zM84.24 500.8h1.45v1.45h-1.45zM78.46 499h1.45v1.45h-1.45zM82.15 500.42h1.45v1.45h-1.45zM82.64 499.06h1.45v1.45h-1.45zM87.31 492.67h1.45v1.45h-1.45zM80.07 500.69h1.45v1.45h-1.45zM80.56 497.53h1.45v1.45h-1.45zM80.37 501.04h1.45v1.45h-1.45zM89.25 499.22h1.45v1.45h-1.45zM81.26 501.72h1.45v1.45h-1.45zM81.39 491.15h1.45v1.45h-1.45zM84.09 498.33h1.45v1.45h-1.45zM79.65 502.98h1.45v1.45h-1.45zM82.91 497.47h1.45v1.45h-1.45zM71.16 492.13h1.45v1.45h-1.45zM82.75 499.53h1.45v1.45h-1.45zM84.99 501.11h1.45v1.45h-1.45zM80.15 494.23h1.45v1.45h-1.45zM76.89 499.43h1.45v1.45h-1.45zM76.6 503.56h1.45v1.45h-1.45zM75.66 491.8h1.45v1.45h-1.45zM81.65 491.88h1.45v1.45h-1.45zM91.28 495.49h1.45v1.45h-1.45zM82.4 498.95h1.45v1.45h-1.45zM78.34 491.91h1.45v1.45h-1.45zM72.83 504.07h1.45v1.45h-1.45zM88.08 510.07h1.45v1.45h-1.45zM74.94 502.66h1.45v1.45h-1.45zM82.6 503.98h1.45v1.45h-1.45zM79.96 503.41h1.45v1.45h-1.45zM87.41 502.88h1.45v1.45h-1.45zM90.33 499.27h1.45v1.45h-1.45zM90.84 496.84h1.45v1.45h-1.45zM82.75 496.38h1.45v1.45h-1.45zM82.68 504.84h1.45v1.45h-1.45zM86.48 500.51h1.45v1.45h-1.45zM91.68 493.26h1.45v1.45h-1.45zM78.37 507.05h1.45v1.45h-1.45zM84.41 490.49h1.45v1.45h-1.45zM84.48 494.6h1.45v1.45h-1.45zM90.49 505.36h1.45v1.45h-1.45zM79.78 506.05h1.45v1.45h-1.45zM78.26 504.33h1.45v1.45h-1.45zM85.74 499.49h1.45v1.45h-1.45zM75.15 498.78h1.45v1.45h-1.45zM70.56 497.47h1.45v1.45h-1.45zM72.88 505.69h1.45v1.45h-1.45zM77.56 488.84h1.45v1.45h-1.45zM85.77 501.78h1.45v1.45h-1.45zM79.99 509.86h1.45v1.45h-1.45zM86.77 500.38h1.45v1.45h-1.45zM85.21 504.51h1.45v1.45h-1.45zM79.54 493.55h1.45v1.45h-1.45zM82.45 492.35h1.45v1.45h-1.45zM82.71 503.64h1.45v1.45h-1.45zM90.66 501.3h1.45v1.45h-1.45zM83.71 503.54h1.45v1.45h-1.45zM90.08 498.6h1.45v1.45h-1.45zM76.18 496.42h1.45v1.45h-1.45zM76.01 495.97h1.45v1.45h-1.45zM82.04 501.66h1.45v1.45h-1.45zM83.5 500.4h1.45v1.45h-1.45zM80.79 502.03h1.45v1.45h-1.45zM87.36 503.59h1.45v1.45h-1.45zM90.6 498.73h1.45v1.45h-1.45zM81.34 507.9h1.45v1.45h-1.45zM83.74 501.98h1.45v1.45h-1.45zM80.9 504.55h1.45v1.45h-1.45zM80.55 495.42h1.45v1.45h-1.45zM82.35 498.03h1.45v1.45h-1.45zM87.09 498.33h1.45v1.45h-1.45zM83.33 499.07h1.45v1.45h-1.45zM84.48 497.16h1.45v1.45h-1.45zM88.52 493.5h1.45v1.45h-1.45zM80.64 496.8h1.45v1.45h-1.45zM86.1 500.26h1.45v1.45h-1.45zM85.24 498.55h1.45v1.45h-1.45zM78.88 494.9h1.45v1.45h-1.45zM80.91 497.6h1.45v1.45h-1.45zM84.16 501.71h1.45v1.45h-1.45zM87.85 499.58h1.45v1.45h-1.45zM78.71 495.17h1.45v1.45h-1.45zM83 501.74h1.45v1.45h-1.45zM92.98 500.92h1.45v1.45h-1.45zM91.98 508.73h1.45v1.45h-1.45zM77.12 505.67h1.45v1.45h-1.45zM88.69 506.29h1.45v1.45h-1.45zM82.62 504.49h1.45v1.45h-1.45zM80.13 499.75h1.45v1.45h-1.45zM82.78 508.31h1.45v1.45h-1.45zM81.54 504.49h1.45v1.45h-1.45zM83.02 496.8h1.45v1.45h-1.45zM83.96 503.12h1.45v1.45h-1.45zM78.91 503.01h1.45v1.45h-1.45zM78.91 496.02h1.45v1.45h-1.45zM83.84 498.99h1.45v1.45h-1.45zM77.47 492.55h1.45v1.45h-1.45zM82.8 501.2h1.45v1.45h-1.45zM80.24 500.94h1.45v1.45h-1.45zM74.59 501.89h1.45v1.45h-1.45zM84.88 501.36h1.45v1.45h-1.45zM79.43 500.44h1.45v1.45h-1.45zM83.36 505.02h1.45v1.45h-1.45zM84.14 501.25h1.45v1.45h-1.45zM78.85 504.06h1.45v1.45h-1.45zM88.88 497.79h1.45v1.45h-1.45zM86.06 501.5h1.45v1.45h-1.45zM82.43 494.14h1.45v1.45h-1.45zM91.97 491.46h1.45v1.45h-1.45zM84.28 498.34h1.45v1.45h-1.45zM88.73 498.12h1.45v1.45h-1.45zM82.88 502.9h1.45v1.45h-1.45zM85.09 497.68h1.45v1.45h-1.45zM86.28 501.88h1.45v1.45h-1.45zM87.9 497.72h1.45v1.45h-1.45zM82.43 498.27h1.45v1.45h-1.45zM78.25 501.25h1.45v1.45h-1.45zM84.84 506.62h1.45v1.45h-1.45zM80.96 501.86h1.45v1.45h-1.45zM88.71 499.55h1.45v1.45h-1.45zM83.01 500.69h1.45v1.45h-1.45zM79.03 495.52h1.45v1.45h-1.45zM88.57 500.87h1.45v1.45h-1.45zM82.28 494.35h1.45v1.45h-1.45zM83.3 505.48h1.45v1.45h-1.45zM76.6 495.97h1.45v1.45h-1.45zM88.53 506.66h1.45v1.45h-1.45zM90.86 497.53h1.45v1.45h-1.45zM85.84 496.62h1.45v1.45h-1.45zM85.42 498.4h1.45v1.45h-1.45zM83.71 506.25h1.45v1.45h-1.45zM84.46 498.97h1.45v1.45h-1.45zM82.97 501.3h1.45v1.45h-1.45zM79.97 501.03h1.45v1.45h-1.45zM85.83 507.24h1.45v1.45h-1.45zM71.82 494.61h1.45v1.45h-1.45zM76.16 504.1h1.45v1.45h-1.45zM95.52 500.97h1.45v1.45h-1.45zM83.31 505.31h1.45v1.45h-1.45zM69.83 499.25h1.45v1.45h-1.45zM80 497.85h1.45v1.45h-1.45zM84.46 497.39h1.45v1.45h-1.45zM88.52 500.06h1.45v1.45h-1.45zM80.32 504.33h1.45v1.45h-1.45zM78.33 505.8h1.45v1.45h-1.45zM87.74 500.72h1.45v1.45h-1.45zM87.89 507.45h1.45v1.45h-1.45zM89.91 500.08h1.45v1.45h-1.45zM82.39 505.15h1.45v1.45h-1.45zM74.95 497.31h1.45v1.45h-1.45zM85.22 502.68h1.45v1.45h-1.45zM92.44 508.14h1.45v1.45h-1.45zM84.38 502.1h1.45v1.45h-1.45zM75.76 499.23h1.45v1.45h-1.45zM84.05 499.04h1.45v1.45h-1.45zM82.99 502.86h1.45v1.45h-1.45zM77.69 497.48h1.45v1.45h-1.45zM73.36 505.31h1.45v1.45h-1.45zM77.15 492.28h1.45v1.45h-1.45zM86.71 499.1h1.45v1.45h-1.45zM87.74 498.39h1.45v1.45h-1.45zM93.81 503.34h1.45v1.45h-1.45zM83.46 500.6h1.45v1.45h-1.45zM81.6 503.77h1.45v1.45h-1.45zM93.14 498.15h1.45v1.45h-1.45zM76.98 502.8h1.45v1.45h-1.45zM88.26 493.26h1.45v1.45h-1.45zM79.06 495.52h1.45v1.45h-1.45zM85.62 502.38h1.45v1.45h-1.45zM78.84 494.93h1.45v1.45h-1.45zM86.25 490.69h1.45v1.45h-1.45zM86.04 499.37h1.45v1.45h-1.45zM92.71 504.61h1.45v1.45h-1.45zM79.65 498.82h1.45v1.45h-1.45zM81.23 496.76h1.45v1.45h-1.45zM83.1 504.47h1.45v1.45h-1.45zM74.8 499.04h1.45v1.45h-1.45zM90.47 503.46h1.45v1.45h-1.45zM78.43 496.4h1.45v1.45h-1.45zM78.21 492.76h1.45v1.45h-1.45zM88.67 500.39h1.45v1.45h-1.45zM79.04 493.55h1.45v1.45h-1.45zM80.67 497.75h1.45v1.45h-1.45zM91.65 497.98h1.45v1.45h-1.45zM83.28 504.95h1.45v1.45h-1.45zM86.16 499.25h1.45v1.45h-1.45zM71.31 506.45h1.45v1.45h-1.45zM85.79 498.1h1.45v1.45h-1.45zM82.21 495.73h1.45v1.45h-1.45zM78 493.33h1.45v1.45h-1.45zM85.29 502.43h1.45v1.45h-1.45zM83.58 503.62h1.45v1.45h-1.45zM85.46 500.63h1.45v1.45h-1.45zM78.08 502.76h1.45v1.45h-1.45zM88.85 502.94h1.45v1.45h-1.45zM89.17 497.93h1.45v1.45h-1.45zM77.58 505.76h1.45v1.45h-1.45zM79.64 501.18h1.45v1.45h-1.45zM81.68 500.17h1.45v1.45h-1.45zM81.27 497.63h1.45v1.45h-1.45zM73.41 508.72h1.45v1.45h-1.45zM83.73 491.35h1.45v1.45h-1.45zM77.96 494.97h1.45v1.45h-1.45zM78.82 488.52h1.45v1.45h-1.45zM85.66 507.51h1.45v1.45h-1.45zM81.4 503.45h1.45v1.45h-1.45zM85.79 494.43h1.45v1.45h-1.45zM89 492.44h1.45v1.45h-1.45zM79.69 498.45h1.45v1.45h-1.45zM89.19 500.61h1.45v1.45h-1.45zM82.03 496.43h1.45v1.45h-1.45zM83.14 500.27h1.45v1.45h-1.45zM86.46 506.39h1.45v1.45h-1.45zM86.5 500.16h1.45v1.45h-1.45zM81.88 507.32h1.45v1.45h-1.45zM83.72 500h1.45v1.45h-1.45zM91.99 507.17h1.45v1.45h-1.45zM85.62 499.58h1.45v1.45h-1.45zM79.39 504.9h1.45v1.45h-1.45zM80.33 504.42h1.45v1.45h-1.45zM78.62 500.55h1.45v1.45h-1.45zM84.76 500.73h1.45v1.45h-1.45zM86.08 456.27h1.45v1.45h-1.45zM86.88 473.88h1.45v1.45h-1.45zM90.98 479.27h1.45v1.45h-1.45zM77.98 479.88h1.45v1.45h-1.45zM75.28 481.27h1.45v1.45h-1.45zM84.28 485.77h1.45v1.45h-1.45zM88.28 486.77h1.45v1.45h-1.45zM80.28 487.27h1.45v1.45h-1.45zM85.88 487.88h1.45v1.45h-1.45zM92.28 488.07h1.45v1.45h-1.45z" fill="#000"/>
<line x1="144.5" y1="416.9" x2="144.5" y2="514.2" stroke="#444" stroke-width="0.75"/>
<line x1="140.6" y1="511.5" x2="240.6" y2="511.5" stroke="#444" stroke-width="0.75"/>
<path d="M144.5 511.5v2.8M151.72 511.5v1.5M144.5 504.37h-1.5M155.95 511.5v1.5M144.5 500.2h-1.5M158.95 511.5v1.5M144.5 497.25h-1.5M161.28 511.5v1.5M144.5 494.95h-1.5M163.18 511.5v1.5M144.5 493.08h-1.5M164.78 511.5v1.5M144.5 491.49h-1.5M166.17 511.5v1.5M144.5 490.12h-1.5M167.4 511.5v1.5M144.5 488.91h-1.5M168.5 511.5v2.8M144.5 487.82h-4M175.72 511.5v1.5M144.5 480.7h-1.5M179.95 511.5v1.5M144.5 476.53h-1.5M182.95 511.5v1.5M144.5 473.57h-1.5M185.28 511.5v1.5M144.5 471.28h-1.5M187.18 511.5v1.5M144.5 469.4h-1.5M188.78 511.5v1.5M144.5 467.82h-1.5M190.17 511.5v1.5M144.5 466.44h-1.5M191.4 511.5v1.5M144.5 465.23h-1.5M192.5 511.5v2.8M144.5 464.15h-4M199.72 511.5v1.5M144.5 457.02h-1.5M203.95 511.5v1.5M144.5 452.85h-1.5M206.95 511.5v1.5M144.5 449.9h-1.5M209.28 511.5v1.5M144.5 447.6h-1.5M211.18 511.5v1.5M144.5 445.73h-1.5M212.78 511.5v1.5M144.5 444.14h-1.5M214.17 511.5v1.5M144.5 442.77h-1.5M215.4 511.5v1.5M144.5 441.56h-1.5M216.5 511.5v2.8M144.5 440.47h-4M223.72 511.5v1.5M144.5 433.35h-1.5M227.95 511.5v1.5M144.5 429.18h-1.5M230.95 511.5v1.5M144.5 426.22h-1.5M233.28 511.5v1.5M144.5 423.93h-1.5M235.18 511.5v1.5M144.5 422.05h-1.5M236.78 511.5v1.5M144.5 420.47h-1.5M238.17 511.5v1.5M144.5 419.09h-1.5M239.4 511.5v1.5M144.5 417.88h-1.5M240.5 511.5v2.8M144.5 416.8h-4" stroke="#333" stroke-width="0.7" fill="none"/>
<text x="165.3" y="520.3" font-size="4.7" text-anchor="middle" fill="#222">10<tspan dx="0.5" dy="-1.3" font-size="3.38">1</tspan></text>
<text transform="translate(139.5 491.22) rotate(-90)" font-size="4.7" text-anchor="middle" fill="#222">10<tspan dx="0.5" dy="-1.3" font-size="3.38">1</tspan></text>
<text x="189.3" y="520.3" font-size="4.7" text-anchor="middle" fill="#222">10<tspan dx="0.5" dy="-1.3" font-size="3.38">2</tspan></text>
<text transform="translate(139.5 467.55) rotate(-90)" font-size="4.7" text-anchor="middle" fill="#222">10<tspan dx="0.5" dy="-1.3" font-size="3.38">2</tspan></text>
<text x="213.3" y="520.3" font-size="4.7" text-anchor="middle" fill="#222">10<tspan dx="0.5" dy="-1.3" font-size="3.38">3</tspan></text>
<text transform="translate(139.5 443.87) rotate(-90)" font-size="4.7" text-anchor="middle" fill="#222">10<tspan dx="0.5" dy="-1.3" font-size="3.38">3</tspan></text>
<text x="237.3" y="520.3" font-size="4.7" text-anchor="middle" fill="#222">10<tspan dx="0.5" dy="-1.3" font-size="3.38">4</tspan></text>
<text transform="translate(139.5 420.2) rotate(-90)" font-size="4.7" text-anchor="middle" fill="#222">10<tspan dx="0.5" dy="-1.3" font-size="3.38">4</tspan></text>
<text x="191.9" y="526.5" font-size="4.7" text-anchor="middle" fill="#333">FITC</text>
<text transform="translate(132.78 465.95) rotate(-90)" font-size="4.7" text-anchor="middle" fill="#333">PE</text>
<line x1="183.3" y1="416.9" x2="183.3" y2="511.6" stroke="#5a5a5a" stroke-width="0.9"/>
<line x1="144.6" y1="488.4" x2="240.6" y2="488.4" stroke="#5a5a5a" stroke-width="0.9"/>
<text x="146.2" y="421.5" font-size="3.8" fill="#444">4</text>
<text x="237.6" y="421.5" font-size="3.8" fill="#444">5</text>
<text x="146.2" y="509.4" font-size="3.8" fill="#444">6</text>
<text x="237.6" y="509.4" font-size="3.8" fill="#444">7</text>
<ellipse cx="196.6" cy="500.4" rx="8.73" ry="7.92" fill="#000"/>
<path d="M197.01 501.4h1.45v1.45h-1.45zM190.43 494.66h1.45v1.45h-1.45zM195.16 507.83h1.45v1.45h-1.45zM195.27 495.49h1.45v1.45h-1.45zM192.68 499.83h1.45v1.45h-1.45zM201.61 497.12h1.45v1.45h-1.45zM198.59 500.52h1.45v1.45h-1.45zM194.15 495.41h1.45v1.45h-1.45zM195.14 496.41h1.45v1.45h-1.45zM198.48 491.72h1.45v1.45h-1.45zM201.34 503.1h1.45v1.45h-1.45zM198.68 506.43h1.45v1.45h-1.45zM198.8 491.96h1.45v1.45h-1.45zM196.13 501.71h1.45v1.45h-1.45zM192.57 494.57h1.45v1.45h-1.45zM197.97 501.98h1.45v1.45h-1.45zM193.82 498.58h1.45v1.45h-1.45zM193.42 497.12h1.45v1.45h-1.45zM195.6 504.52h1.45v1.45h-1.45zM188.09 498.14h1.45v1.45h-1.45zM203.68 501.11h1.45v1.45h-1.45zM196.62 503.44h1.45v1.45h-1.45zM191.02 494.22h1.45v1.45h-1.45zM187.85 493.11h1.45v1.45h-1.45zM197.08 503.5h1.45v1.45h-1.45zM193.86 496.61h1.45v1.45h-1.45zM197.83 502.44h1.45v1.45h-1.45zM197.12 491.1h1.45v1.45h-1.45zM193.24 488.27h1.45v1.45h-1.45zM197.05 495.85h1.45v1.45h-1.45zM192.71 506.44h1.45v1.45h-1.45zM202.26 501.84h1.45v1.45h-1.45zM197.21 500.45h1.45v1.45h-1.45zM193.05 499.45h1.45v1.45h-1.45zM205.11 495.74h1.45v1.45h-1.45zM192.68 500.4h1.45v1.45h-1.45zM200.18 503.42h1.45v1.45h-1.45zM191.21 499.09h1.45v1.45h-1.45zM194.6 494.13h1.45v1.45h-1.45zM196.25 497.51h1.45v1.45h-1.45zM200.31 501.62h1.45v1.45h-1.45zM192.11 500.04h1.45v1.45h-1.45zM194.16 496.82h1.45v1.45h-1.45zM193.53 504.46h1.45v1.45h-1.45zM193.88 491.97h1.45v1.45h-1.45zM192.14 503.3h1.45v1.45h-1.45zM206.25 494.94h1.45v1.45h-1.45zM194.16 498.2h1.45v1.45h-1.45zM189.09 501.48h1.45v1.45h-1.45zM195.63 500.93h1.45v1.45h-1.45zM206.67 498.48h1.45v1.45h-1.45zM199.7 503.42h1.45v1.45h-1.45zM192.81 497.02h1.45v1.45h-1.45zM203.38 502.89h1.45v1.45h-1.45zM196.57 494.76h1.45v1.45h-1.45zM200.13 502.05h1.45v1.45h-1.45zM206.47 506.3h1.45v1.45h-1.45zM199.75 500.88h1.45v1.45h-1.45zM196.18 497.2h1.45v1.45h-1.45zM197.36 500.77h1.45v1.45h-1.45zM199.02 504.56h1.45v1.45h-1.45zM197.38 497.24h1.45v1.45h-1.45zM199.77 506.65h1.45v1.45h-1.45zM191.85 501.56h1.45v1.45h-1.45zM198.52 502.09h1.45v1.45h-1.45zM198.31 499.27h1.45v1.45h-1.45zM195.39 507.25h1.45v1.45h-1.45zM204.22 493.38h1.45v1.45h-1.45zM192.63 497.36h1.45v1.45h-1.45zM188.2 501.26h1.45v1.45h-1.45zM195.61 497.25h1.45v1.45h-1.45zM202.98 504.95h1.45v1.45h-1.45zM193.89 502.63h1.45v1.45h-1.45zM195.69 504.87h1.45v1.45h-1.45zM198.68 499.52h1.45v1.45h-1.45zM198.54 496.45h1.45v1.45h-1.45zM199.69 506.43h1.45v1.45h-1.45zM194.14 502.17h1.45v1.45h-1.45zM187.85 503.88h1.45v1.45h-1.45zM200.1 495.09h1.45v1.45h-1.45zM204.27 500.19h1.45v1.45h-1.45zM187.55 493.53h1.45v1.45h-1.45zM200.09 498.45h1.45v1.45h-1.45zM201.19 492.72h1.45v1.45h-1.45zM195.4 504.06h1.45v1.45h-1.45zM192.61 502.73h1.45v1.45h-1.45zM194.15 501.22h1.45v1.45h-1.45zM197.43 509.7h1.45v1.45h-1.45zM189.91 503.17h1.45v1.45h-1.45zM202.19 494.63h1.45v1.45h-1.45zM196.27 510.04h1.45v1.45h-1.45zM194.73 492h1.45v1.45h-1.45zM197.34 496.42h1.45v1.45h-1.45zM193.17 495.92h1.45v1.45h-1.45zM197.29 497.58h1.45v1.45h-1.45zM191.52 498.66h1.45v1.45h-1.45zM197.83 495.83h1.45v1.45h-1.45zM201.22 492.22h1.45v1.45h-1.45zM197.84 497.93h1.45v1.45h-1.45zM203.45 496.79h1.45v1.45h-1.45zM192.68 493.65h1.45v1.45h-1.45zM205.44 502.45h1.45v1.45h-1.45zM190.65 498.17h1.45v1.45h-1.45zM191.27 506.51h1.45v1.45h-1.45zM197.89 490.54h1.45v1.45h-1.45zM196.89 503.78h1.45v1.45h-1.45zM195.88 501.8h1.45v1.45h-1.45zM195.35 500.61h1.45v1.45h-1.45zM196.9 496.5h1.45v1.45h-1.45zM197.55 500.42h1.45v1.45h-1.45zM195.69 496.61h1.45v1.45h-1.45zM190.99 500.78h1.45v1.45h-1.45zM199.85 488.82h1.45v1.45h-1.45zM193.3 505.75h1.45v1.45h-1.45zM200.29 496.48h1.45v1.45h-1.45zM202.39 495.24h1.45v1.45h-1.45zM192.07 508.38h1.45v1.45h-1.45zM193.77 498.7h1.45v1.45h-1.45zM187.93 495.14h1.45v1.45h-1.45zM190.21 499.06h1.45v1.45h-1.45zM187.04 504.45h1.45v1.45h-1.45zM194.16 496.95h1.45v1.45h-1.45zM192.82 503.02h1.45v1.45h-1.45zM203.27 497.84h1.45v1.45h-1.45zM203.65 506.91h1.45v1.45h-1.45zM202.34 501.02h1.45v1.45h-1.45zM188.7 502.7h1.45v1.45h-1.45zM193.91 500.55h1.45v1.45h-1.45zM186.79 498.41h1.45v1.45h-1.45zM197 495.46h1.45v1.45h-1.45zM197.29 507.2h1.45v1.45h-1.45zM196.99 496.6h1.45v1.45h-1.45zM191.44 501.51h1.45v1.45h-1.45zM193.02 489.36h1.45v1.45h-1.45zM197.13 503.41h1.45v1.45h-1.45zM192.04 506.27h1.45v1.45h-1.45zM198.29 505.04h1.45v1.45h-1.45zM188.51 499.66h1.45v1.45h-1.45zM203.59 508.74h1.45v1.45h-1.45zM202.24 499.67h1.45v1.45h-1.45zM196.76 496.85h1.45v1.45h-1.45zM201.18 496.55h1.45v1.45h-1.45zM196.47 490.39h1.45v1.45h-1.45zM188.61 507.68h1.45v1.45h-1.45zM196.16 500.65h1.45v1.45h-1.45zM185.27 499.53h1.45v1.45h-1.45zM205.88 492.94h1.45v1.45h-1.45zM193.31 498.73h1.45v1.45h-1.45zM189.8 493.56h1.45v1.45h-1.45zM189.9 502.56h1.45v1.45h-1.45zM195.65 503.38h1.45v1.45h-1.45zM190.66 502.34h1.45v1.45h-1.45zM193.74 500.08h1.45v1.45h-1.45zM200.39 499.83h1.45v1.45h-1.45zM194.18 492.17h1.45v1.45h-1.45zM196.18 503.21h1.45v1.45h-1.45zM192.81 499.37h1.45v1.45h-1.45zM187.31 493.65h1.45v1.45h-1.45zM197.83 505.53h1.45v1.45h-1.45zM194.37 492.12h1.45v1.45h-1.45zM194.03 492.61h1.45v1.45h-1.45zM194.54 508.41h1.45v1.45h-1.45zM197.33 498.99h1.45v1.45h-1.45zM200.91 497.96h1.45v1.45h-1.45zM197.49 500.58h1.45v1.45h-1.45zM198.04 493.02h1.45v1.45h-1.45zM199.33 503.67h1.45v1.45h-1.45zM191.52 506.43h1.45v1.45h-1.45zM195.98 502.75h1.45v1.45h-1.45zM198.57 503.7h1.45v1.45h-1.45zM192.77 497.02h1.45v1.45h-1.45zM197.7 502.44h1.45v1.45h-1.45zM198.67 501.22h1.45v1.45h-1.45zM193.52 504.69h1.45v1.45h-1.45zM198.17 504.5h1.45v1.45h-1.45zM192.64 500.22h1.45v1.45h-1.45zM193.55 498.26h1.45v1.45h-1.45zM196.82 501.25h1.45v1.45h-1.45zM191.98 488.17h1.45v1.45h-1.45zM192.07 502.14h1.45v1.45h-1.45zM191.76 501.62h1.45v1.45h-1.45zM194.08 495.38h1.45v1.45h-1.45zM201.58 507.22h1.45v1.45h-1.45zM195.37 499.44h1.45v1.45h-1.45zM200.56 493.63h1.45v1.45h-1.45zM191.61 504.84h1.45v1.45h-1.45zM200.28 497.43h1.45v1.45h-1.45zM192.07 501.27h1.45v1.45h-1.45zM188.99 497.4h1.45v1.45h-1.45zM194.74 488.44h1.45v1.45h-1.45zM198.77 503.16h1.45v1.45h-1.45zM201.1 493.11h1.45v1.45h-1.45zM189.58 495.95h1.45v1.45h-1.45zM189.48 509.06h1.45v1.45h-1.45zM191.09 498.24h1.45v1.45h-1.45zM196.89 501.76h1.45v1.45h-1.45zM202.99 494.7h1.45v1.45h-1.45zM200.19 500.36h1.45v1.45h-1.45zM190.12 500.37h1.45v1.45h-1.45zM188.99 507.1h1.45v1.45h-1.45zM192.29 504.28h1.45v1.45h-1.45zM202.27 496.84h1.45v1.45h-1.45zM191.46 500.28h1.45v1.45h-1.45zM190.72 503.8h1.45v1.45h-1.45zM196.74 496.18h1.45v1.45h-1.45zM192.5 503h1.45v1.45h-1.45zM188.74 507.42h1.45v1.45h-1.45zM192.01 498.78h1.45v1.45h-1.45zM191.32 507.13h1.45v1.45h-1.45zM199.93 505.65h1.45v1.45h-1.45zM199.09 500.09h1.45v1.45h-1.45zM204.23 502.73h1.45v1.45h-1.45zM198.03 502.33h1.45v1.45h-1.45zM199.5 500.96h1.45v1.45h-1.45zM195.05 492.34h1.45v1.45h-1.45zM206.03 493.7h1.45v1.45h-1.45zM185.25 496.39h1.45v1.45h-1.45zM205.42 505.29h1.45v1.45h-1.45zM192.9 500.89h1.45v1.45h-1.45zM195.75 490.54h1.45v1.45h-1.45zM194.22 501.02h1.45v1.45h-1.45zM201.66 494.14h1.45v1.45h-1.45zM184.73 492.42h1.45v1.45h-1.45zM197.51 500.05h1.45v1.45h-1.45zM196.61 500.36h1.45v1.45h-1.45zM194.06 493.38h1.45v1.45h-1.45zM198.12 501.46h1.45v1.45h-1.45zM198.73 505.42h1.45v1.45h-1.45zM189.75 488.89h1.45v1.45h-1.45zM187.05 509.54h1.45v1.45h-1.45zM191.35 501.52h1.45v1.45h-1.45zM195.8 503.04h1.45v1.45h-1.45zM195.03 496.92h1.45v1.45h-1.45zM197.09 502.08h1.45v1.45h-1.45zM191.07 505.76h1.45v1.45h-1.45zM201.55 501.73h1.45v1.45h-1.45zM195.33 498.58h1.45v1.45h-1.45zM187.73 502.7h1.45v1.45h-1.45zM191.05 497.36h1.45v1.45h-1.45zM200.81 495.43h1.45v1.45h-1.45zM193.29 503.64h1.45v1.45h-1.45zM205.08 496.49h1.45v1.45h-1.45zM201.34 496.65h1.45v1.45h-1.45zM197.8 501.91h1.45v1.45h-1.45zM190.23 504.41h1.45v1.45h-1.45zM204.79 499.92h1.45v1.45h-1.45zM197.21 494.26h1.45v1.45h-1.45zM204.73 499.97h1.45v1.45h-1.45zM189.55 503.21h1.45v1.45h-1.45zM188.63 496.5h1.45v1.45h-1.45zM185.31 506.03h1.45v1.45h-1.45zM206.83 496.74h1.45v1.45h-1.45zM192.64 497.01h1.45v1.45h-1.45zM193.07 502.23h1.45v1.45h-1.45zM203.1 495.02h1.45v1.45h-1.45zM198.06 491.35h1.45v1.45h-1.45zM203.43 499.27h1.45v1.45h-1.45zM192.4 506.75h1.45v1.45h-1.45zM195.35 506h1.45v1.45h-1.45zM201.2 507.33h1.45v1.45h-1.45zM191.91 499.94h1.45v1.45h-1.45zM197.7 498.78h1.45v1.45h-1.45zM203.42 496.38h1.45v1.45h-1.45zM200.84 505.97h1.45v1.45h-1.45zM186.19 495.2h1.45v1.45h-1.45zM191.4 497.15h1.45v1.45h-1.45zM197.81 498.87h1.45v1.45h-1.45zM196.27 497.55h1.45v1.45h-1.45zM195.47 501.91h1.45v1.45h-1.45zM199.57 496.07h1.45v1.45h-1.45zM195.31 496.16h1.45v1.45h-1.45zM194.99 493.04h1.45v1.45h-1.45zM200.61 502.78h1.45v1.45h-1.45zM195.27 496.51h1.45v1.45h-1.45zM193.61 496.6h1.45v1.45h-1.45zM188.22 507.22h1.45v1.45h-1.45zM190.09 502.35h1.45v1.45h-1.45zM198.88 492.41h1.45v1.45h-1.45zM186.35 502.18h1.45v1.45h-1.45zM186 506.25h1.45v1.45h-1.45zM193.42 500.07h1.45v1.45h-1.45zM195.86 497.09h1.45v1.45h-1.45zM195.17 498.29h1.45v1.45h-1.45zM202.04 499.25h1.45v1.45h-1.45zM195.72 497.23h1.45v1.45h-1.45zM192.73 496.27h1.45v1.45h-1.45zM195.93 508.16h1.45v1.45h-1.45zM201.4 500.77h1.45v1.45h-1.45zM204.15 504.36h1.45v1.45h-1.45zM196.9 498.91h1.45v1.45h-1.45zM190.44 500.82h1.45v1.45h-1.45zM194.31 492.35h1.45v1.45h-1.45zM189.51 508.62h1.45v1.45h-1.45zM196.94 501.98h1.45v1.45h-1.45zM196.87 497.53h1.45v1.45h-1.45zM198.16 504.68h1.45v1.45h-1.45zM194.34 502.04h1.45v1.45h-1.45zM200.96 497.44h1.45v1.45h-1.45zM196.72 496.26h1.45v1.45h-1.45zM198.86 497.97h1.45v1.45h-1.45zM201.56 496.15h1.45v1.45h-1.45zM204.25 498.24h1.45v1.45h-1.45zM191.71 495.5h1.45v1.45h-1.45zM199.16 495.72h1.45v1.45h-1.45zM204.82 505.6h1.45v1.45h-1.45zM198.44 493.1h1.45v1.45h-1.45zM195.76 496.32h1.45v1.45h-1.45zM186.9 501.64h1.45v1.45h-1.45zM206.79 497.2h1.45v1.45h-1.45zM199.89 505.61h1.45v1.45h-1.45zM191.11 498.1h1.45v1.45h-1.45zM197.2 501.86h1.45v1.45h-1.45zM190.2 500.68h1.45v1.45h-1.45zM195.34 504.07h1.45v1.45h-1.45zM187.96 497.07h1.45v1.45h-1.45zM193.38 498.21h1.45v1.45h-1.45zM199.46 496.77h1.45v1.45h-1.45zM200.04 504.39h1.45v1.45h-1.45zM200.66 498.73h1.45v1.45h-1.45zM191.76 498.5h1.45v1.45h-1.45zM199.17 500.23h1.45v1.45h-1.45zM198.76 502.33h1.45v1.45h-1.45zM191.49 495.35h1.45v1.45h-1.45zM203.02 497.43h1.45v1.45h-1.45zM188.02 508.27h1.45v1.45h-1.45zM191.74 495.36h1.45v1.45h-1.45zM200.67 494.45h1.45v1.45h-1.45zM191.56 504.52h1.45v1.45h-1.45zM196.52 499.93h1.45v1.45h-1.45zM192.7 498.65h1.45v1.45h-1.45zM193.39 499.57h1.45v1.45h-1.45zM199.7 493.8h1.45v1.45h-1.45zM191.33 490h1.45v1.45h-1.45zM203.33 499.33h1.45v1.45h-1.45zM195.81 499.41h1.45v1.45h-1.45zM200.85 501.16h1.45v1.45h-1.45zM200.09 498.9h1.45v1.45h-1.45zM195.27 499.42h1.45v1.45h-1.45zM186.64 504.71h1.45v1.45h-1.45zM188.06 495.08h1.45v1.45h-1.45zM199.2 499.93h1.45v1.45h-1.45zM199.9 507.56h1.45v1.45h-1.45zM205.1 506.06h1.45v1.45h-1.45zM194.76 509.14h1.45v1.45h-1.45zM191.51 499.28h1.45v1.45h-1.45zM200.81 498.69h1.45v1.45h-1.45zM195.28 498.04h1.45v1.45h-1.45zM202.64 488.28h1.45v1.45h-1.45zM202.18 504.57h1.45v1.45h-1.45zM195.52 502.27h1.45v1.45h-1.45zM191.08 504.8h1.45v1.45h-1.45zM202.79 499.41h1.45v1.45h-1.45zM194.2 497.43h1.45v1.45h-1.45zM194.94 493.89h1.45v1.45h-1.45zM189.15 507.36h1.45v1.45h-1.45zM195.79 502.23h1.45v1.45h-1.45zM197.41 501.88h1.45v1.45h-1.45zM188.31 495.29h1.45v1.45h-1.45zM199.01 504.29h1.45v1.45h-1.45zM190.2 497h1.45v1.45h-1.45zM190.58 502.69h1.45v1.45h-1.45zM197.58 499.83h1.45v1.45h-1.45zM192.65 501.26h1.45v1.45h-1.45zM196.03 496.24h1.45v1.45h-1.45zM197.53 496.6h1.45v1.45h-1.45zM200.59 502.57h1.45v1.45h-1.45zM192.47 502.39h1.45v1.45h-1.45zM196.21 496.41h1.45v1.45h-1.45zM191.35 491.99h1.45v1.45h-1.45zM190.27 501.28h1.45v1.45h-1.45zM201.86 496.77h1.45v1.45h-1.45zM196.67 501.27h1.45v1.45h-1.45zM199.74 501.72h1.45v1.45h-1.45zM201.96 503.22h1.45v1.45h-1.45zM192.1 501.51h1.45v1.45h-1.45zM195.98 502.35h1.45v1.45h-1.45zM194.38 503.52h1.45v1.45h-1.45zM202.42 495.8h1.45v1.45h-1.45zM193.18 500.88h1.45v1.45h-1.45zM198.31 500.34h1.45v1.45h-1.45zM199.99 494.21h1.45v1.45h-1.45zM199.72 505.06h1.45v1.45h-1.45zM201.38 501.65h1.45v1.45h-1.45zM194.7 501.52h1.45v1.45h-1.45zM195.5 492.34h1.45v1.45h-1.45zM192.87 499.49h1.45v1.45h-1.45zM193.32 495.37h1.45v1.45h-1.45zM194.73 497.96h1.45v1.45h-1.45zM196.22 499.45h1.45v1.45h-1.45zM196.73 504.26h1.45v1.45h-1.45zM196.55 501.55h1.45v1.45h-1.45zM193.89 502.8h1.45v1.45h-1.45zM194.19 496.8h1.45v1.45h-1.45zM189.73 503.79h1.45v1.45h-1.45zM193.26 500.81h1.45v1.45h-1.45zM201.48 502.15h1.45v1.45h-1.45zM206.99 499.06h1.45v1.45h-1.45zM200.61 502.88h1.45v1.45h-1.45zM192.63 499.9h1.45v1.45h-1.45zM193.08 494.94h1.45v1.45h-1.45zM197.36 496.09h1.45v1.45h-1.45zM204.2 496.25h1.45v1.45h-1.45zM193.18 500.1h1.45v1.45h-1.45zM193.3 499.92h1.45v1.45h-1.45zM192.86 493.11h1.45v1.45h-1.45zM203.42 501.73h1.45v1.45h-1.45zM196.64 497.53h1.45v1.45h-1.45zM195.15 501.06h1.45v1.45h-1.45zM188.99 495.99h1.45v1.45h-1.45zM191.46 505.49h1.45v1.45h-1.45zM190.64 505.09h1.45v1.45h-1.45zM195.49 499.82h1.45v1.45h-1.45zM202.57 503.72h1.45v1.45h-1.45zM200.53 494.74h1.45v1.45h-1.45zM201.5 507.44h1.45v1.45h-1.45zM195.37 497.44h1.45v1.45h-1.45zM190.47 504.38h1.45v1.45h-1.45zM197.33 499.71h1.45v1.45h-1.45zM189.75 507.16h1.45v1.45h-1.45zM200.21 499.58h1.45v1.45h-1.45zM203.19 495.28h1.45v1.45h-1.45zM200.24 495.06h1.45v1.45h-1.45zM202.87 498.4h1.45v1.45h-1.45zM201.94 497.75h1.45v1.45h-1.45zM197.85 504.95h1.45v1.45h-1.45zM191.4 500.12h1.45v1.45h-1.45zM191.72 503.61h1.45v1.45h-1.45zM192.88 497.95h1.45v1.45h-1.45zM194.87 505.06h1.45v1.45h-1.45zM190.71 499.56h1.45v1.45h-1.45zM194.24 497.14h1.45v1.45h-1.45zM191.97 498.94h1.45v1.45h-1.45zM196.85 492.53h1.45v1.45h-1.45zM197.03 494.2h1.45v1.45h-1.45zM191.08 499.37h1.45v1.45h-1.45zM194.61 504.21h1.45v1.45h-1.45zM193.52 491.43h1.45v1.45h-1.45zM187.89 500.49h1.45v1.45h-1.45zM197.13 504.61h1.45v1.45h-1.45zM193.22 502.75h1.45v1.45h-1.45zM190.6 505.66h1.45v1.45h-1.45zM195.52 496.54h1.45v1.45h-1.45zM196.76 507.73h1.45v1.45h-1.45zM191.68 493.95h1.45v1.45h-1.45zM190.84 494.34h1.45v1.45h-1.45zM195.62 501.3h1.45v1.45h-1.45zM195.06 500.59h1.45v1.45h-1.45zM201.75 498.34h1.45v1.45h-1.45zM189.67 489.12h1.45v1.45h-1.45zM197.07 496.53h1.45v1.45h-1.45zM194.64 501.57h1.45v1.45h-1.45zM198.17 492.43h1.45v1.45h-1.45zM191.13 500.02h1.45v1.45h-1.45zM195.16 504.97h1.45v1.45h-1.45zM193.39 490.14h1.45v1.45h-1.45zM201.67 492.12h1.45v1.45h-1.45zM191.07 501.47h1.45v1.45h-1.45zM197.06 502.15h1.45v1.45h-1.45zM193.71 509.92h1.45v1.45h-1.45zM198.55 496.36h1.45v1.45h-1.45zM202.09 491.87h1.45v1.45h-1.45zM192.97 501.01h1.45v1.45h-1.45zM196.56 495.24h1.45v1.45h-1.45zM203.71 506.47h1.45v1.45h-1.45zM191.24 501.4h1.45v1.45h-1.45zM192.73 497.68h1.45v1.45h-1.45zM200.76 500.26h1.45v1.45h-1.45zM195.34 500.15h1.45v1.45h-1.45zM190.07 505.32h1.45v1.45h-1.45zM192.15 505.72h1.45v1.45h-1.45zM193.6 497.57h1.45v1.45h-1.45zM203.24 500.56h1.45v1.45h-1.45zM192.71 497.2h1.45v1.45h-1.45zM198.88 508.32h1.45v1.45h-1.45zM198.92 497.86h1.45v1.45h-1.45zM190.32 496.57h1.45v1.45h-1.45zM195.29 500.81h1.45v1.45h-1.45zM192.63 505.59h1.45v1.45h-1.45zM191.13 496.38h1.45v1.45h-1.45zM198.34 501.9h1.45v1.45h-1.45zM193.94 504.12h1.45v1.45h-1.45zM188.9 507.22h1.45v1.45h-1.45zM206.71 508.7h1.45v1.45h-1.45zM196.47 508.76h1.45v1.45h-1.45zM196.14 505.82h1.45v1.45h-1.45zM194.89 500.57h1.45v1.45h-1.45zM198.47 491.6h1.45v1.45h-1.45zM194.84 507.61h1.45v1.45h-1.45zM200.44 501.19h1.45v1.45h-1.45zM196.84 506.08h1.45v1.45h-1.45zM197.54 490.93h1.45v1.45h-1.45zM191.19 498.31h1.45v1.45h-1.45zM196.59 497.61h1.45v1.45h-1.45zM195.36 507.38h1.45v1.45h-1.45zM200.52 502.46h1.45v1.45h-1.45zM195.95 499.97h1.45v1.45h-1.45zM197.68 500.79h1.45v1.45h-1.45zM192.29 503.28h1.45v1.45h-1.45zM191.78 499.49h1.45v1.45h-1.45zM194.1 494.36h1.45v1.45h-1.45zM198.87 499.35h1.45v1.45h-1.45zM190.11 499.32h1.45v1.45h-1.45zM189.05 506.3h1.45v1.45h-1.45zM198.43 508.84h1.45v1.45h-1.45zM193.07 502.93h1.45v1.45h-1.45zM191.08 495.75h1.45v1.45h-1.45zM195.43 501.57h1.45v1.45h-1.45zM200.45 498.44h1.45v1.45h-1.45zM201.33 504.12h1.45v1.45h-1.45zM191.55 498.85h1.45v1.45h-1.45zM191.35 507.53h1.45v1.45h-1.45zM193.15 503.75h1.45v1.45h-1.45zM200.39 498.51h1.45v1.45h-1.45zM193.47 501.26h1.45v1.45h-1.45zM192.05 493.85h1.45v1.45h-1.45zM191.1 501.23h1.45v1.45h-1.45zM196.82 507.79h1.45v1.45h-1.45zM186.85 501.99h1.45v1.45h-1.45zM190.18 504.99h1.45v1.45h-1.45zM199.31 500.26h1.45v1.45h-1.45zM203.15 497.96h1.45v1.45h-1.45zM193.26 494.84h1.45v1.45h-1.45zM192.64 500.2h1.45v1.45h-1.45zM199.19 505.56h1.45v1.45h-1.45zM194.55 496.32h1.45v1.45h-1.45zM194.23 497.7h1.45v1.45h-1.45zM193.57 497.83h1.45v1.45h-1.45zM191.58 499.43h1.45v1.45h-1.45zM193.35 498.9h1.45v1.45h-1.45zM189.05 500.34h1.45v1.45h-1.45zM198.7 502.65h1.45v1.45h-1.45zM193.17 494.44h1.45v1.45h-1.45zM189.47 494.29h1.45v1.45h-1.45zM192.71 498.25h1.45v1.45h-1.45zM187.14 502.75h1.45v1.45h-1.45zM188.3 496.53h1.45v1.45h-1.45zM192.32 503.48h1.45v1.45h-1.45zM204.92 498.06h1.45v1.45h-1.45zM194.53 497.88h1.45v1.45h-1.45zM194.89 498.9h1.45v1.45h-1.45zM208 494.69h1.45v1.45h-1.45zM195.34 496.06h1.45v1.45h-1.45zM197.63 497.3h1.45v1.45h-1.45zM198.7 494.73h1.45v1.45h-1.45zM206.24 500.63h1.45v1.45h-1.45zM187.2 502.88h1.45v1.45h-1.45zM193.57 494.4h1.45v1.45h-1.45zM198.04 497.31h1.45v1.45h-1.45zM199.5 497.17h1.45v1.45h-1.45zM200.3 500.36h1.45v1.45h-1.45zM197.63 500.4h1.45v1.45h-1.45zM194.09 498.03h1.45v1.45h-1.45zM198.09 502.92h1.45v1.45h-1.45zM193.87 509.89h1.45v1.45h-1.45zM204.17 494.45h1.45v1.45h-1.45zM201.2 499.36h1.45v1.45h-1.45zM197.02 496.08h1.45v1.45h-1.45zM203.97 495.92h1.45v1.45h-1.45zM195.48 496.38h1.45v1.45h-1.45zM205.34 505.39h1.45v1.45h-1.45zM189.42 497.63h1.45v1.45h-1.45zM197.66 497.71h1.45v1.45h-1.45zM194.14 494.77h1.45v1.45h-1.45zM197.1 494.71h1.45v1.45h-1.45zM194.28 507.17h1.45v1.45h-1.45zM197.7 496.63h1.45v1.45h-1.45zM194.19 495.31h1.45v1.45h-1.45zM196.44 502.87h1.45v1.45h-1.45zM200.43 498.41h1.45v1.45h-1.45zM190.04 499.34h1.45v1.45h-1.45zM204.05 500.96h1.45v1.45h-1.45zM195.57 490.24h1.45v1.45h-1.45zM193.76 502.16h1.45v1.45h-1.45zM191.25 505.81h1.45v1.45h-1.45zM193.11 495.73h1.45v1.45h-1.45zM193.04 499.26h1.45v1.45h-1.45zM200.76 497.12h1.45v1.45h-1.45zM187.17 499.33h1.45v1.45h-1.45zM198.43 506.68h1.45v1.45h-1.45zM190.39 506.41h1.45v1.45h-1.45zM199.18 501.75h1.45v1.45h-1.45zM192.13 495.68h1.45v1.45h-1.45zM191.21 503.92h1.45v1.45h-1.45zM196.94 504.53h1.45v1.45h-1.45zM204.75 499.77h1.45v1.45h-1.45zM195.64 508.38h1.45v1.45h-1.45zM189.51 497.66h1.45v1.45h-1.45zM194.07 497.97h1.45v1.45h-1.45zM196.58 495.89h1.45v1.45h-1.45zM201.54 493.51h1.45v1.45h-1.45zM191.9 492.04h1.45v1.45h-1.45zM189.04 502.35h1.45v1.45h-1.45zM198.94 498.8h1.45v1.45h-1.45zM199.99 502.49h1.45v1.45h-1.45zM193.06 499.52h1.45v1.45h-1.45zM197.67 508.8h1.45v1.45h-1.45zM193.73 501.37h1.45v1.45h-1.45zM198.53 505.21h1.45v1.45h-1.45zM197.95 504.55h1.45v1.45h-1.45zM190.69 498.51h1.45v1.45h-1.45zM186.44 499.47h1.45v1.45h-1.45zM207.24 500.79h1.45v1.45h-1.45zM196.31 500.9h1.45v1.45h-1.45zM196.58 493.71h1.45v1.45h-1.45zM192.5 498.91h1.45v1.45h-1.45zM196.7 495.8h1.45v1.45h-1.45zM195.36 496.38h1.45v1.45h-1.45zM189.45 496.72h1.45v1.45h-1.45zM191.95 503.49h1.45v1.45h-1.45zM202.4 502.32h1.45v1.45h-1.45zM194.84 497.19h1.45v1.45h-1.45zM188.23 497.32h1.45v1.45h-1.45zM203.5 504.91h1.45v1.45h-1.45zM196.97 498.59h1.45v1.45h-1.45zM195.9 501.61h1.45v1.45h-1.45zM195.84 501.64h1.45v1.45h-1.45zM192.12 499.91h1.45v1.45h-1.45zM194.17 504.56h1.45v1.45h-1.45zM189.83 505.56h1.45v1.45h-1.45zM195.46 497.43h1.45v1.45h-1.45zM195.98 500.26h1.45v1.45h-1.45zM194.74 501.62h1.45v1.45h-1.45zM193.06 492.07h1.45v1.45h-1.45zM199.27 499.59h1.45v1.45h-1.45zM203.99 501.45h1.45v1.45h-1.45zM186.13 505.3h1.45v1.45h-1.45zM192.53 502.18h1.45v1.45h-1.45zM206.69 504.63h1.45v1.45h-1.45zM190.55 499.3h1.45v1.45h-1.45zM188.05 502.72h1.45v1.45h-1.45zM198.61 495.09h1.45v1.45h-1.45zM198.08 503.92h1.45v1.45h-1.45zM199.81 496.69h1.45v1.45h-1.45zM192.5 494.66h1.45v1.45h-1.45zM189.58 501.13h1.45v1.45h-1.45zM196.07 505.57h1.45v1.45h-1.45zM197.21 498.26h1.45v1.45h-1.45zM188.93 506.66h1.45v1.45h-1.45zM196.68 499.57h1.45v1.45h-1.45zM190.98 495h1.45v1.45h-1.45zM198.96 495.33h1.45v1.45h-1.45zM198.72 502.54h1.45v1.45h-1.45zM194.02 492.42h1.45v1.45h-1.45zM197.88 506.03h1.45v1.45h-1.45zM191.86 494.04h1.45v1.45h-1.45zM201.17 500.36h1.45v1.45h-1.45zM192.84 505.23h1.45v1.45h-1.45zM194.53 501.74h1.45v1.45h-1.45zM193.92 496.34h1.45v1.45h-1.45zM196.94 495.86h1.45v1.45h-1.45zM187.24 497.29h1.45v1.45h-1.45zM201.88 504.65h1.45v1.45h-1.45zM206.45 504.18h1.45v1.45h-1.45zM203.73 500.84h1.45v1.45h-1.45zM193.76 501.81h1.45v1.45h-1.45zM191.26 503.02h1.45v1.45h-1.45zM193.7 500.88h1.45v1.45h-1.45zM191.73 499.12h1.45v1.45h-1.45zM200.64 498.75h1.45v1.45h-1.45zM192.6 500.99h1.45v1.45h-1.45zM200.16 498.88h1.45v1.45h-1.45zM190.19 492.73h1.45v1.45h-1.45zM189.36 504.5h1.45v1.45h-1.45zM195.45 501.86h1.45v1.45h-1.45zM201.1 501h1.45v1.45h-1.45zM198.22 497.46h1.45v1.45h-1.45zM188.05 502.54h1.45v1.45h-1.45zM195.41 502.3h1.45v1.45h-1.45zM190.7 499.09h1.45v1.45h-1.45zM205.67 495.96h1.45v1.45h-1.45zM196.35 505.59h1.45v1.45h-1.45zM194.75 500.28h1.45v1.45h-1.45zM185.52 503.19h1.45v1.45h-1.45zM193.73 505.48h1.45v1.45h-1.45zM195.43 498.06h1.45v1.45h-1.45zM197.99 498.66h1.45v1.45h-1.45zM193.37 506.62h1.45v1.45h-1.45zM200.65 500.22h1.45v1.45h-1.45zM199.8 503.41h1.45v1.45h-1.45zM198.7 499.94h1.45v1.45h-1.45zM196.23 501.55h1.45v1.45h-1.45zM198.62 501.31h1.45v1.45h-1.45zM193.2 499.4h1.45v1.45h-1.45zM198.1 495.35h1.45v1.45h-1.45zM195.83 503.11h1.45v1.45h-1.45zM196.69 498.46h1.45v1.45h-1.45zM195.76 497.58h1.45v1.45h-1.45zM200.65 498.06h1.45v1.45h-1.45zM187.79 494.37h1.45v1.45h-1.45zM197.33 500.67h1.45v1.45h-1.45zM193.58 493.91h1.45v1.45h-1.45zM195.15 496.01h1.45v1.45h-1.45zM192.69 499.73h1.45v1.45h-1.45zM192.15 501.12h1.45v1.45h-1.45zM192.29 497.68h1.45v1.45h-1.45zM194.77 506.22h1.45v1.45h-1.45zM203.53 503.93h1.45v1.45h-1.45zM192.3 499.76h1.45v1.45h-1.45zM200.31 503.32h1.45v1.45h-1.45zM187.98 499.5h1.45v1.45h-1.45zM197.16 471.57h1.45v1.45h-1.45zM192.68 484.03h1.45v1.45h-1.45zM198.94 476.13h1.45v1.45h-1.45zM196.21 465.43h1.45v1.45h-1.45zM194.55 484.07h1.45v1.45h-1.45zM188.29 451.69h1.45v1.45h-1.45zM196.75 465.57h1.45v1.45h-1.45zM201.87 469.66h1.45v1.45h-1.45zM194.77 447.79h1.45v1.45h-1.45zM202.05 483.01h1.45v1.45h-1.45zM201.84 477.14h1.45v1.45h-1.45zM200.41 452.69h1.45v1.45h-1.45zM197.63 471.36h1.45v1.45h-1.45zM199.03 481.26h1.45v1.45h-1.45zM197.49 455.44h1.45v1.45h-1.45zM200.14 458.56h1.45v1.45h-1.45zM196.7 473.71h1.45v1.45h-1.45zM200.48 455.26h1.45v1.45h-1.45zM197.34 484.97h1.45v1.45h-1.45zM197.93 482.13h1.45v1.45h-1.45zM198.33 453.75h1.45v1.45h-1.45zM197.75 452.96h1.45v1.45h-1.45zM198.64 470.8h1.45v1.45h-1.45zM192.62 447.41h1.45v1.45h-1.45zM192.76 459.36h1.45v1.45h-1.45zM195.38 479.2h1.45v1.45h-1.45zM197.11 466.04h1.45v1.45h-1.45zM207.37 474.76h1.45v1.45h-1.45zM197.73 448.17h1.45v1.45h-1.45zM198.6 476.52h1.45v1.45h-1.45zM197.82 478h1.45v1.45h-1.45zM195.65 461.56h1.45v1.45h-1.45zM194.1 449.1h1.45v1.45h-1.45zM197.42 454.33h1.45v1.45h-1.45zM197.55 476.75h1.45v1.45h-1.45zM202.37 483.53h1.45v1.45h-1.45zM194.82 461.11h1.45v1.45h-1.45zM197.24 467.74h1.45v1.45h-1.45zM196.44 476.46h1.45v1.45h-1.45zM199.1 478.37h1.45v1.45h-1.45zM198.5 484.16h1.45v1.45h-1.45zM191.83 450.83h1.45v1.45h-1.45zM203.4 483.08h1.45v1.45h-1.45zM200.07 460.53h1.45v1.45h-1.45zM193.66 459.46h1.45v1.45h-1.45zM196.47 459.63h1.45v1.45h-1.45zM196.23 453.08h1.45v1.45h-1.45zM200.06 474.15h1.45v1.45h-1.45zM194.3 449.17h1.45v1.45h-1.45zM195.81 485.76h1.45v1.45h-1.45zM194.59 456.53h1.45v1.45h-1.45zM199.22 470.44h1.45v1.45h-1.45zM192.77 463.72h1.45v1.45h-1.45zM195.21 449.45h1.45v1.45h-1.45zM196.31 466.52h1.45v1.45h-1.45zM202.78 479.97h1.45v1.45h-1.45zM203.69 484.32h1.45v1.45h-1.45zM197.96 471.86h1.45v1.45h-1.45zM194.76 464.22h1.45v1.45h-1.45zM196.63 453.1h1.45v1.45h-1.45zM194.01 464.95h1.45v1.45h-1.45zM205.63 486.25h1.45v1.45h-1.45zM188.48 464.96h1.45v1.45h-1.45zM196.22 466.31h1.45v1.45h-1.45zM191.49 458.62h1.45v1.45h-1.45zM198.47 463.02h1.45v1.45h-1.45zM202.38 485.82h1.45v1.45h-1.45zM196.31 484.71h1.45v1.45h-1.45zM192.82 460.48h1.45v1.45h-1.45zM193.66 450.75h1.45v1.45h-1.45zM205.24 481.1h1.45v1.45h-1.45zM197.5 461.37h1.45v1.45h-1.45zM191.67 474.36h1.45v1.45h-1.45zM197.94 473.17h1.45v1.45h-1.45zM194.44 474.75h1.45v1.45h-1.45zM189.3 458.23h1.45v1.45h-1.45zM198.44 474.22h1.45v1.45h-1.45zM200.74 458.74h1.45v1.45h-1.45zM195.47 469.92h1.45v1.45h-1.45zM191.45 447.73h1.45v1.45h-1.45zM196.95 473.47h1.45v1.45h-1.45zM198.79 465.33h1.45v1.45h-1.45zM193.58 478.38h1.45v1.45h-1.45zM192.25 460.84h1.45v1.45h-1.45zM193.87 479.57h1.45v1.45h-1.45zM200.12 460.93h1.45v1.45h-1.45zM191.62 474.12h1.45v1.45h-1.45zM203.75 485.34h1.45v1.45h-1.45zM195.78 467.92h1.45v1.45h-1.45zM199.5 453.76h1.45v1.45h-1.45zM189.25 465.89h1.45v1.45h-1.45zM196.74 474.24h1.45v1.45h-1.45zM189.14 453.98h1.45v1.45h-1.45zM193.58 477.71h1.45v1.45h-1.45zM193.73 463.69h1.45v1.45h-1.45zM198.32 471.6h1.45v1.45h-1.45zM192.83 475.37h1.45v1.45h-1.45zM196.36 448.35h1.45v1.45h-1.45zM201.02 472.63h1.45v1.45h-1.45zM193.23 455.82h1.45v1.45h-1.45zM195.08 443.07h1.45v1.45h-1.45zM200.08 445.47h1.45v1.45h-1.45zM192.47 448.27h1.45v1.45h-1.45zM198.88 445.67h1.45v1.45h-1.45zM189.78 451.77h1.45v1.45h-1.45zM207.88 479.77h1.45v1.45h-1.45zM207.18 475.27h1.45v1.45h-1.45zM191.78 485.57h1.45v1.45h-1.45zM198.28 486.47h1.45v1.45h-1.45zM201.88 485.27h1.45v1.45h-1.45z" fill="#000"/>
<text x="-1" y="293.5" font-size="17.2" font-weight="bold" fill="#000">B</text>
<text x="62.1" y="303.35" font-size="9.83" fill="#111" textLength="23.77" lengthAdjust="spacingAndGlyphs">Na&#239;ve</text>
<text x="171.6" y="303.65" font-size="9.77" fill="#111" textLength="40.06" lengthAdjust="spacingAndGlyphs">OVA-MPL</text>
<text x="88.4" y="333.35" font-size="9.67" fill="#111" textLength="24.71" lengthAdjust="spacingAndGlyphs">0.11%</text>
<text x="198.7" y="330.95" font-size="9.67" fill="#111" textLength="25.38" lengthAdjust="spacingAndGlyphs">1.83%</text>
<text x="83.4" y="439.85" font-size="9.67" fill="#111" textLength="25.38" lengthAdjust="spacingAndGlyphs">0.18%</text>
<text x="207.8" y="439.85" font-size="9.67" fill="#111" textLength="20.4" lengthAdjust="spacingAndGlyphs">3.9%</text>
<text x="244.3" y="357.65" font-size="9.67" fill="#111" textLength="13.91" lengthAdjust="spacingAndGlyphs">WT</text>
<text x="244.2" y="484.95" font-size="9.72" fill="#111" textLength="23.43" lengthAdjust="spacingAndGlyphs">SRA<tspan dy="-2.92" font-size="5.64">-/-</tspan></text>
<text transform="translate(11.4 430.3) rotate(-90)" font-size="9.94" textLength="55.05" lengthAdjust="spacingAndGlyphs" fill="#111">OVA tetramer</text>
<line x1="42" y1="534.4" x2="226" y2="534.4" stroke="#000" stroke-width="1.5"/>
<polygon points="224,529.7 233.7,534.4 224,539.1" fill="#000"/>
<text x="116.3" y="548.85" font-size="9.94" fill="#111" textLength="18.41" lengthAdjust="spacingAndGlyphs">CD8</text>
<rect x="339.8" y="294.5" width="159.9" height="109.8" fill="none" stroke="#444" stroke-width="0.7"/>
<line x1="337.4" y1="404.3" x2="339.8" y2="404.3" stroke="#333" stroke-width="0.6"/>
<text x="334.8" y="407" font-size="6.4" text-anchor="end" fill="#222" stroke="#222" stroke-width="0.15">0</text>
<line x1="337.4" y1="378.6" x2="339.8" y2="378.6" stroke="#333" stroke-width="0.6"/>
<text x="334.8" y="381.3" font-size="6.4" text-anchor="end" fill="#222" stroke="#222" stroke-width="0.15">1</text>
<line x1="337.4" y1="352.9" x2="339.8" y2="352.9" stroke="#333" stroke-width="0.6"/>
<text x="334.8" y="355.6" font-size="6.4" text-anchor="end" fill="#222" stroke="#222" stroke-width="0.15">2</text>
<line x1="337.4" y1="327.2" x2="339.8" y2="327.2" stroke="#333" stroke-width="0.6"/>
<text x="334.8" y="329.9" font-size="6.4" text-anchor="end" fill="#222" stroke="#222" stroke-width="0.15">3</text>
<line x1="337.4" y1="301.5" x2="339.8" y2="301.5" stroke="#333" stroke-width="0.6"/>
<text x="334.8" y="304.2" font-size="6.4" text-anchor="end" fill="#222" stroke="#222" stroke-width="0.15">4</text>
<line x1="374.1" y1="404.3" x2="374.1" y2="406.7" stroke="#333" stroke-width="0.6"/>
<text x="374.3" y="414.4" font-size="6.4" text-anchor="middle" fill="#222" stroke="#222" stroke-width="0.15">5</text>
<line x1="431.2" y1="404.3" x2="431.2" y2="406.7" stroke="#333" stroke-width="0.6"/>
<text x="431.4" y="414.4" font-size="6.4" text-anchor="middle" fill="#222" stroke="#222" stroke-width="0.15">10</text>
<line x1="488.3" y1="404.3" x2="488.3" y2="406.7" stroke="#333" stroke-width="0.6"/>
<text x="488.5" y="414.4" font-size="6.4" text-anchor="middle" fill="#222" stroke="#222" stroke-width="0.15">15</text>
<text x="361" y="422.7" font-size="7.27" fill="#222" stroke="#222" stroke-width="0.12">Days post OVA booster immunization</text>
<text transform="translate(327 349.6) rotate(-90)" font-size="7.15" text-anchor="middle" fill="#222" stroke="#222" stroke-width="0.15">H-2K<tspan dy="-3.1" font-size="5.8">b</tspan><tspan dy="3.1">/OVA tetramer %</tspan></text>
<polyline points="351.26,334.4 374.1,315.89 396.94,375 476.88,384.51" fill="none" stroke="#333" stroke-width="0.6"/>
<line x1="351.26" y1="324.37" x2="351.26" y2="344.42" stroke="#333" stroke-width="0.6"/>
<line x1="349.76" y1="324.37" x2="352.76" y2="324.37" stroke="#333" stroke-width="0.6"/>
<line x1="349.76" y1="344.42" x2="352.76" y2="344.42" stroke="#333" stroke-width="0.6"/>
<line x1="374.1" y1="307.93" x2="374.1" y2="323.86" stroke="#333" stroke-width="0.6"/>
<line x1="372.6" y1="307.93" x2="375.6" y2="307.93" stroke="#333" stroke-width="0.6"/>
<line x1="372.6" y1="323.86" x2="375.6" y2="323.86" stroke="#333" stroke-width="0.6"/>
<line x1="396.94" y1="372.95" x2="396.94" y2="377.06" stroke="#333" stroke-width="0.6"/>
<line x1="395.44" y1="372.95" x2="398.44" y2="372.95" stroke="#333" stroke-width="0.6"/>
<line x1="395.44" y1="377.06" x2="398.44" y2="377.06" stroke="#333" stroke-width="0.6"/>
<line x1="476.88" y1="381.43" x2="476.88" y2="387.6" stroke="#333" stroke-width="0.6"/>
<line x1="475.38" y1="381.43" x2="478.38" y2="381.43" stroke="#333" stroke-width="0.6"/>
<line x1="475.38" y1="387.6" x2="478.38" y2="387.6" stroke="#333" stroke-width="0.6"/>
<circle cx="351.26" cy="334.4" r="1.4" fill="#fff" stroke="#111" stroke-width="0.55"/>
<circle cx="374.1" cy="315.89" r="1.4" fill="#fff" stroke="#111" stroke-width="0.55"/>
<circle cx="396.94" cy="375" r="1.4" fill="#fff" stroke="#111" stroke-width="0.55"/>
<circle cx="476.88" cy="384.51" r="1.4" fill="#fff" stroke="#111" stroke-width="0.55"/>
<polyline points="351.26,355.98 374.1,349.3 396.94,391.19 476.88,392.48" fill="none" stroke="#333" stroke-width="0.6"/>
<line x1="351.26" y1="352.13" x2="351.26" y2="359.84" stroke="#333" stroke-width="0.6"/>
<line x1="349.76" y1="352.13" x2="352.76" y2="352.13" stroke="#333" stroke-width="0.6"/>
<line x1="349.76" y1="359.84" x2="352.76" y2="359.84" stroke="#333" stroke-width="0.6"/>
<line x1="374.1" y1="339.54" x2="374.1" y2="359.07" stroke="#333" stroke-width="0.6"/>
<line x1="372.6" y1="339.54" x2="375.6" y2="339.54" stroke="#333" stroke-width="0.6"/>
<line x1="372.6" y1="359.07" x2="375.6" y2="359.07" stroke="#333" stroke-width="0.6"/>
<line x1="396.94" y1="390.42" x2="396.94" y2="391.96" stroke="#333" stroke-width="0.6"/>
<line x1="395.44" y1="390.42" x2="398.44" y2="390.42" stroke="#333" stroke-width="0.6"/>
<line x1="395.44" y1="391.96" x2="398.44" y2="391.96" stroke="#333" stroke-width="0.6"/>
<line x1="476.88" y1="390.17" x2="476.88" y2="394.79" stroke="#333" stroke-width="0.6"/>
<line x1="475.38" y1="390.17" x2="478.38" y2="390.17" stroke="#333" stroke-width="0.6"/>
<line x1="475.38" y1="394.79" x2="478.38" y2="394.79" stroke="#333" stroke-width="0.6"/>
<circle cx="351.26" cy="355.98" r="1.45" fill="#111" stroke="#111" stroke-width="0.55"/>
<circle cx="374.1" cy="349.3" r="1.45" fill="#111" stroke="#111" stroke-width="0.55"/>
<circle cx="396.94" cy="391.19" r="1.45" fill="#111" stroke="#111" stroke-width="0.55"/>
<circle cx="476.88" cy="392.48" r="1.45" fill="#111" stroke="#111" stroke-width="0.55"/>
<line x1="437.3" y1="314.4" x2="451.6" y2="314.4" stroke="#333" stroke-width="0.6"/>
<circle cx="444.6" cy="314.4" r="1.45" fill="#111" stroke="#111" stroke-width="0.55"/>
<line x1="437.3" y1="323.1" x2="451.6" y2="323.1" stroke="#333" stroke-width="0.6"/>
<circle cx="444.6" cy="323.1" r="1.3" fill="#fff" stroke="#111" stroke-width="0.55"/>
<text x="455.6" y="316.7" font-size="6.1" fill="#111" stroke="#111" stroke-width="0.18">WT</text>
<text x="455.6" y="325.5" font-size="6.1" fill="#111" stroke="#111" stroke-width="0.18">SR-A<tspan dx="0.3" dy="-2.2" font-size="5.4" stroke="none" letter-spacing="0.35">-/-</tspan></text>
<text x="307.7" y="294" font-size="17" font-weight="bold" fill="#000">C</text>
<line x1="330.5" y1="444.6" x2="330.5" y2="519.7" stroke="#444" stroke-width="0.7"/>
<line x1="327.4" y1="517.5" x2="414" y2="517.5" stroke="#444" stroke-width="0.7"/>
<path d="M330.5 517.5v2M336.79 517.5v1.1M330.5 512.02h-1.1M340.47 517.5v1.1M330.5 508.82h-1.1M343.08 517.5v1.1M330.5 506.54h-1.1M345.11 517.5v1.1M330.5 504.78h-1.1M346.76 517.5v1.1M330.5 503.34h-1.1M348.16 517.5v1.1M330.5 502.12h-1.1M349.37 517.5v1.1M330.5 501.06h-1.1M350.44 517.5v1.1M330.5 500.13h-1.1M351.4 517.5v2M330.5 499.3h-2.8M357.69 517.5v1.1M330.5 493.82h-1.1M361.37 517.5v1.1M330.5 490.62h-1.1M363.98 517.5v1.1M330.5 488.34h-1.1M366.01 517.5v1.1M330.5 486.58h-1.1M367.66 517.5v1.1M330.5 485.14h-1.1M369.06 517.5v1.1M330.5 483.92h-1.1M370.27 517.5v1.1M330.5 482.86h-1.1M371.34 517.5v1.1M330.5 481.93h-1.1M372.3 517.5v2M330.5 481.1h-2.8M378.59 517.5v1.1M330.5 475.62h-1.1M382.27 517.5v1.1M330.5 472.42h-1.1M384.88 517.5v1.1M330.5 470.14h-1.1M386.91 517.5v1.1M330.5 468.38h-1.1M388.56 517.5v1.1M330.5 466.94h-1.1M389.96 517.5v1.1M330.5 465.72h-1.1M391.17 517.5v1.1M330.5 464.66h-1.1M392.24 517.5v1.1M330.5 463.73h-1.1M393.2 517.5v2M330.5 462.9h-2.8M399.49 517.5v1.1M330.5 457.42h-1.1M403.17 517.5v1.1M330.5 454.22h-1.1M405.78 517.5v1.1M330.5 451.94h-1.1M407.81 517.5v1.1M330.5 450.18h-1.1M409.46 517.5v1.1M330.5 448.74h-1.1M410.86 517.5v1.1M330.5 447.52h-1.1M412.07 517.5v1.1M330.5 446.46h-1.1M413.14 517.5v1.1M330.5 445.53h-1.1M414.1 517.5v2M330.5 444.7h-2.8" stroke="#444" stroke-width="0.5" fill="none"/>
<text x="348.2" y="524.9" font-size="3.9" text-anchor="middle" fill="#333">10<tspan dx="0.3" dy="-1.1" font-size="2.9">1</tspan></text>
<text transform="translate(325.9 501.9) rotate(-90)" font-size="3.9" text-anchor="middle" fill="#333">10<tspan dx="0.3" dy="-1.1" font-size="2.9">1</tspan></text>
<text x="369.1" y="524.9" font-size="3.9" text-anchor="middle" fill="#333">10<tspan dx="0.3" dy="-1.1" font-size="2.9">2</tspan></text>
<text transform="translate(325.9 483.7) rotate(-90)" font-size="3.9" text-anchor="middle" fill="#333">10<tspan dx="0.3" dy="-1.1" font-size="2.9">2</tspan></text>
<text x="390" y="524.9" font-size="3.9" text-anchor="middle" fill="#333">10<tspan dx="0.3" dy="-1.1" font-size="2.9">3</tspan></text>
<text transform="translate(325.9 465.5) rotate(-90)" font-size="3.9" text-anchor="middle" fill="#333">10<tspan dx="0.3" dy="-1.1" font-size="2.9">3</tspan></text>
<text x="410.9" y="524.9" font-size="3.9" text-anchor="middle" fill="#333">10<tspan dx="0.3" dy="-1.1" font-size="2.9">4</tspan></text>
<text transform="translate(325.9 447.3) rotate(-90)" font-size="3.9" text-anchor="middle" fill="#333">10<tspan dx="0.3" dy="-1.1" font-size="2.9">4</tspan></text>
<text x="371.7" y="529.1" font-size="3.6" text-anchor="middle" fill="#333">FITC</text>
<text transform="translate(321.39 480.9) rotate(-90)" font-size="3.6" text-anchor="middle" fill="#333">PE</text>
<text x="331.7" y="448.2" font-size="3" fill="#555">4</text>
<text x="331.7" y="515.7" font-size="3" fill="#555">6</text>
<line x1="368.5" y1="443.8" x2="368.5" y2="517.7" stroke="#5a5a5a" stroke-width="0.9"/>
<line x1="330.4" y1="498.5" x2="414" y2="498.5" stroke="#5a5a5a" stroke-width="0.9"/>
<text x="411.6" y="448.2" font-size="3" fill="#555">5</text>
<text x="411.6" y="515.9" font-size="3" fill="#555">7</text>
<ellipse cx="381.4" cy="509.8" rx="8.14" ry="5.33" fill="#000"/>
<path d="M384.5 513.39h1v1h-1zM377.41 506.64h1v1h-1zM382.64 514.69h1v1h-1zM382.87 505.82h1v1h-1zM377.51 509.23h1v1h-1zM385.35 509.36h1v1h-1zM379.4 508.7h1v1h-1zM381.81 507.13h1v1h-1zM381.05 510.21h1v1h-1zM388.47 509.22h1v1h-1zM385.42 506.26h1v1h-1zM384.93 509.89h1v1h-1zM378.61 509.32h1v1h-1zM385.13 508.41h1v1h-1zM385.7 514.04h1v1h-1zM388.4 514.34h1v1h-1zM375.3 510.44h1v1h-1zM377.97 512.29h1v1h-1zM381.39 510.09h1v1h-1zM383.15 507.6h1v1h-1zM381.5 507.21h1v1h-1zM390.5 508.02h1v1h-1zM381.14 504.03h1v1h-1zM374.37 506.86h1v1h-1zM384.67 511.76h1v1h-1zM382.34 507.46h1v1h-1zM389.45 506.28h1v1h-1zM377.19 510.89h1v1h-1zM376.55 510.22h1v1h-1zM385.47 509.2h1v1h-1zM382.92 509.53h1v1h-1zM375.53 509.39h1v1h-1zM373.61 507.69h1v1h-1zM382.01 513.49h1v1h-1zM374.85 507.79h1v1h-1zM382.09 511.02h1v1h-1zM374.78 515.1h1v1h-1zM377.35 512.74h1v1h-1zM380.15 510.66h1v1h-1zM388.66 511.58h1v1h-1zM381.66 506.33h1v1h-1zM378.08 505.04h1v1h-1zM390.26 504.64h1v1h-1zM386.89 508.3h1v1h-1zM384.89 506.88h1v1h-1zM378.43 510.95h1v1h-1zM382.86 508h1v1h-1zM388.48 511.67h1v1h-1zM381.69 505.77h1v1h-1zM381.69 508.43h1v1h-1zM380.71 511.87h1v1h-1zM378.43 510.22h1v1h-1zM384.7 510.49h1v1h-1zM391.56 504.03h1v1h-1zM380.76 505.75h1v1h-1zM373.53 508.5h1v1h-1zM384.04 509.68h1v1h-1zM385.23 504.59h1v1h-1zM385.51 506.44h1v1h-1zM375.45 511.14h1v1h-1zM383.22 507.14h1v1h-1zM377.27 508.77h1v1h-1zM380.98 508.86h1v1h-1zM376.37 502.22h1v1h-1zM387.03 509.91h1v1h-1zM375.32 504.53h1v1h-1zM377.83 508.09h1v1h-1zM371.23 513.69h1v1h-1zM382.95 508.37h1v1h-1zM382.6 510.07h1v1h-1zM385.86 509.84h1v1h-1zM386.78 514.13h1v1h-1zM379.55 507.96h1v1h-1zM376.93 508.64h1v1h-1zM377.65 509.38h1v1h-1zM382.38 511.01h1v1h-1zM375.67 512.7h1v1h-1zM379.55 509h1v1h-1zM378.61 503.17h1v1h-1zM382.14 503.87h1v1h-1zM386.05 509.47h1v1h-1zM388.13 511.35h1v1h-1zM384.19 513.67h1v1h-1zM380.77 514.1h1v1h-1zM380.37 510.14h1v1h-1zM377.85 511.02h1v1h-1zM384.04 507.78h1v1h-1zM375.07 509.22h1v1h-1zM382.89 508.85h1v1h-1zM376.47 507.1h1v1h-1zM379.73 501.22h1v1h-1zM378.26 513.78h1v1h-1zM375.05 508.66h1v1h-1zM388.71 511.52h1v1h-1zM385.18 508.88h1v1h-1zM382.33 510.07h1v1h-1zM388.49 511.84h1v1h-1zM381.21 505.92h1v1h-1zM380.23 508.87h1v1h-1zM377.83 506.65h1v1h-1zM376.34 508.96h1v1h-1zM378.21 510.59h1v1h-1zM385.6 510.3h1v1h-1zM381.03 514.15h1v1h-1zM383.94 504.75h1v1h-1zM377.64 509.92h1v1h-1zM376.89 511.67h1v1h-1zM372.87 503.42h1v1h-1zM385.44 511.12h1v1h-1zM373.57 509.55h1v1h-1zM387.11 505.87h1v1h-1zM375.46 505.55h1v1h-1zM376.4 503.95h1v1h-1zM378.7 504.83h1v1h-1zM381.2 516.23h1v1h-1zM376.09 512.12h1v1h-1zM386.29 502.16h1v1h-1zM381.42 509.28h1v1h-1zM379.37 511.78h1v1h-1zM378.89 510.4h1v1h-1zM379.12 508.88h1v1h-1zM377.31 516.35h1v1h-1zM380.65 505.84h1v1h-1zM389.88 514.18h1v1h-1zM380.01 507.28h1v1h-1zM377.52 513.13h1v1h-1zM379.4 507.1h1v1h-1zM384.78 508.47h1v1h-1zM380.66 515.3h1v1h-1zM384.88 513.16h1v1h-1zM382.83 513.29h1v1h-1zM380.13 512.29h1v1h-1zM385.73 508.03h1v1h-1zM375 510.96h1v1h-1zM380.35 511.19h1v1h-1zM378.14 510.94h1v1h-1zM385.33 516.63h1v1h-1zM389.13 510.51h1v1h-1zM387.52 507.37h1v1h-1zM386.31 509.74h1v1h-1zM387.03 510.34h1v1h-1zM379.85 507.11h1v1h-1zM386.69 509.49h1v1h-1zM384.19 510.8h1v1h-1zM371.51 511.17h1v1h-1zM379.2 510.52h1v1h-1zM383.13 503.72h1v1h-1zM379.46 509.12h1v1h-1zM382.69 512.22h1v1h-1zM377.77 508.59h1v1h-1zM383.78 503.64h1v1h-1zM389.44 506.38h1v1h-1zM386.97 509.75h1v1h-1zM389.57 512.53h1v1h-1zM380.75 504.06h1v1h-1zM381.51 510.31h1v1h-1zM383.41 505.41h1v1h-1zM377.11 506.89h1v1h-1zM382.2 506.62h1v1h-1zM380.37 512.18h1v1h-1zM378.97 513.47h1v1h-1zM382.27 508.54h1v1h-1zM385.94 510.83h1v1h-1zM379.59 507.49h1v1h-1zM380.7 510.37h1v1h-1zM386.15 510.14h1v1h-1zM378.07 505.2h1v1h-1zM382.08 510.52h1v1h-1zM386.11 507.67h1v1h-1zM374.96 511.89h1v1h-1zM380.12 505.55h1v1h-1zM388.53 512.05h1v1h-1zM381.2 510.17h1v1h-1zM377.49 512.37h1v1h-1zM378.92 507.91h1v1h-1zM379.55 505.79h1v1h-1zM385.63 514.46h1v1h-1zM384.41 502.96h1v1h-1zM379.51 507.33h1v1h-1zM382.63 502.69h1v1h-1zM371.02 507.89h1v1h-1zM385.41 508.72h1v1h-1zM391.04 506.69h1v1h-1zM381.09 508.85h1v1h-1zM377.09 512.74h1v1h-1zM374.84 506.05h1v1h-1zM379.24 507.83h1v1h-1zM386.09 507.68h1v1h-1zM383.22 507.87h1v1h-1zM386.78 509.25h1v1h-1zM382.11 504.26h1v1h-1zM384.15 507.32h1v1h-1zM384.99 510.88h1v1h-1zM383.41 512.79h1v1h-1zM382.64 506.59h1v1h-1zM381.63 509.83h1v1h-1zM375.51 511.21h1v1h-1zM387.64 510.06h1v1h-1zM381.44 510.73h1v1h-1zM385.95 507.64h1v1h-1zM385.29 507.01h1v1h-1zM383.35 510.91h1v1h-1zM375.02 511.34h1v1h-1zM381.91 504.16h1v1h-1zM378.84 507.37h1v1h-1zM376.82 510.59h1v1h-1zM377.28 509.46h1v1h-1zM375.92 508.49h1v1h-1zM389.28 510.58h1v1h-1zM373.77 506.41h1v1h-1zM380.27 504.28h1v1h-1zM385.39 509.18h1v1h-1zM380.59 509.47h1v1h-1zM377.77 505.78h1v1h-1zM381.99 511.41h1v1h-1zM380.06 503.64h1v1h-1zM379.36 509.41h1v1h-1zM374.97 513.53h1v1h-1zM375.76 509.3h1v1h-1zM375.9 512.1h1v1h-1zM375.12 506.53h1v1h-1zM386.01 505.42h1v1h-1zM378.42 510.97h1v1h-1zM382.53 503.89h1v1h-1zM383.67 508.4h1v1h-1zM386.5 503.96h1v1h-1zM384.41 510.54h1v1h-1zM379.17 508h1v1h-1zM382.67 507.17h1v1h-1zM379.3 506.93h1v1h-1zM381.52 511.37h1v1h-1zM373.6 509.38h1v1h-1zM382.31 513.94h1v1h-1zM377.49 513.17h1v1h-1zM378.85 510.8h1v1h-1zM381.91 510.13h1v1h-1zM379.32 506.27h1v1h-1zM387.71 513.78h1v1h-1zM380.36 508.77h1v1h-1zM379.92 505.18h1v1h-1zM375.79 510.57h1v1h-1zM385.25 508.59h1v1h-1zM376.6 505.96h1v1h-1zM378.07 511.44h1v1h-1zM381.11 504.88h1v1h-1zM375.55 510.3h1v1h-1zM382.25 514.71h1v1h-1zM387.48 509.86h1v1h-1zM377.76 509.91h1v1h-1zM375.68 507.17h1v1h-1zM385.48 511.17h1v1h-1zM385.11 514.09h1v1h-1zM378.98 511.76h1v1h-1zM381.21 510.25h1v1h-1zM381.93 510.94h1v1h-1zM374.53 505.06h1v1h-1zM381.31 510.79h1v1h-1zM378.66 508.97h1v1h-1zM374.43 512.25h1v1h-1zM382.98 513.91h1v1h-1zM379.01 508.98h1v1h-1zM381.19 513.5h1v1h-1zM383.46 510.49h1v1h-1zM373.34 506.64h1v1h-1zM374.14 508.71h1v1h-1zM384.82 509.45h1v1h-1zM376.66 515.55h1v1h-1zM375.84 513.55h1v1h-1zM386.2 510.08h1v1h-1zM387.06 505.93h1v1h-1zM378.33 508.35h1v1h-1zM382.59 508.73h1v1h-1zM388.7 508.12h1v1h-1zM379.82 505.55h1v1h-1zM383.07 511.73h1v1h-1zM377.43 505.41h1v1h-1zM374.52 512.88h1v1h-1zM384.49 510.14h1v1h-1zM384.35 510.78h1v1h-1zM382.96 504.29h1v1h-1zM383.24 511.45h1v1h-1zM386.08 512.26h1v1h-1zM377.76 510.1h1v1h-1zM374.39 513.72h1v1h-1zM374.59 511.46h1v1h-1zM377.26 506.77h1v1h-1zM376.78 508.27h1v1h-1zM382.62 512.74h1v1h-1zM379.51 511.92h1v1h-1zM384.87 515.64h1v1h-1zM378.14 510.24h1v1h-1zM384.04 509.73h1v1h-1zM383.74 507.23h1v1h-1zM379.23 507.35h1v1h-1zM377.95 506.54h1v1h-1zM380.42 505.5h1v1h-1zM378.25 511.08h1v1h-1zM373.66 506.02h1v1h-1zM379 505.98h1v1h-1zM376.29 515.07h1v1h-1zM382.37 507.86h1v1h-1zM377.48 504.47h1v1h-1zM375.54 502.13h1v1h-1zM383.42 507.69h1v1h-1zM385.02 509.24h1v1h-1zM371.69 515.13h1v1h-1zM383.2 512.01h1v1h-1zM378.31 507.54h1v1h-1zM380.02 514.79h1v1h-1zM375.1 505.97h1v1h-1zM383.23 503.19h1v1h-1zM387.65 505.71h1v1h-1zM386.28 508.81h1v1h-1zM379.24 505.74h1v1h-1zM387.52 508.43h1v1h-1zM374.72 511.24h1v1h-1zM380.22 510.87h1v1h-1zM379.01 510.4h1v1h-1zM382.94 509.33h1v1h-1zM373.38 510.79h1v1h-1zM387.17 510.63h1v1h-1zM385.12 511.69h1v1h-1zM379.48 512.54h1v1h-1zM379.77 506.18h1v1h-1zM375.1 512.46h1v1h-1zM384.1 511.22h1v1h-1zM378.29 503.67h1v1h-1zM384.43 508.99h1v1h-1zM378.07 507.39h1v1h-1zM378.24 503.56h1v1h-1zM383.71 511.45h1v1h-1zM384.87 508.17h1v1h-1zM375.14 505.06h1v1h-1zM379.45 514.65h1v1h-1zM385.11 509.36h1v1h-1zM383.02 511.78h1v1h-1zM381.14 509.99h1v1h-1zM381.83 507.49h1v1h-1zM375.64 507.55h1v1h-1zM386.14 504.42h1v1h-1zM378.87 507.99h1v1h-1zM381.04 507.9h1v1h-1zM384.47 508.14h1v1h-1zM380.84 511.47h1v1h-1zM374.4 512.64h1v1h-1zM385.58 505.23h1v1h-1zM380.45 506.99h1v1h-1zM379.2 511.69h1v1h-1zM372.3 511.88h1v1h-1zM382.83 509.27h1v1h-1zM390.99 507.76h1v1h-1zM374.01 510.46h1v1h-1zM381.54 507.35h1v1h-1zM371.14 503.45h1v1h-1zM388.33 504.63h1v1h-1zM387.2 511.8h1v1h-1zM370.82 509.88h1v1h-1zM383.81 512.7h1v1h-1zM386.96 513.16h1v1h-1zM380.7 508.53h1v1h-1zM379.97 510.9h1v1h-1zM376.61 506h1v1h-1zM391.37 512.23h1v1h-1zM385.76 508.57h1v1h-1zM376.98 507.97h1v1h-1zM377.24 507.36h1v1h-1zM373.74 511.18h1v1h-1zM382.41 511.71h1v1h-1zM381.18 507.09h1v1h-1zM390.14 512.17h1v1h-1zM383.46 511.99h1v1h-1zM379.5 511.53h1v1h-1zM377.46 512.39h1v1h-1zM385.15 511.86h1v1h-1zM382.68 509.7h1v1h-1zM381.91 511.5h1v1h-1zM378.81 511.46h1v1h-1zM384.41 505.41h1v1h-1zM373.08 510.2h1v1h-1zM379.32 506.81h1v1h-1zM375.2 505.88h1v1h-1zM373.36 508.19h1v1h-1zM373.78 504.02h1v1h-1zM380.29 513.92h1v1h-1zM386.5 508.75h1v1h-1zM382.61 508.52h1v1h-1zM380.3 506.89h1v1h-1zM380.91 506.04h1v1h-1zM377.49 508.79h1v1h-1zM380.49 515.52h1v1h-1zM376.86 505.87h1v1h-1zM383.77 511.02h1v1h-1zM383.95 508.88h1v1h-1zM373.97 508.17h1v1h-1zM375.04 509.04h1v1h-1zM388.82 508.29h1v1h-1zM381.3 512.59h1v1h-1zM374.76 511.58h1v1h-1zM379.27 507.15h1v1h-1zM379.16 506.21h1v1h-1zM384.72 509.55h1v1h-1zM378.71 510.74h1v1h-1zM386.82 507.47h1v1h-1zM384.25 506.47h1v1h-1zM372.53 505.89h1v1h-1zM384.98 510.38h1v1h-1zM377.93 511.32h1v1h-1zM379.48 509.77h1v1h-1zM375.91 502.27h1v1h-1zM381.19 511.28h1v1h-1zM376.72 514.08h1v1h-1zM382.07 514.58h1v1h-1zM383.8 513h1v1h-1zM379.65 504.72h1v1h-1zM390.88 513.24h1v1h-1zM383.96 506.39h1v1h-1zM384.87 506.04h1v1h-1zM383.17 512.03h1v1h-1zM383.12 506.17h1v1h-1zM383.59 509.79h1v1h-1zM383.29 513.1h1v1h-1zM377.78 506.64h1v1h-1zM371.15 513.83h1v1h-1zM377.1 513.17h1v1h-1zM382.46 512.88h1v1h-1zM381.87 510.68h1v1h-1zM379.72 510.61h1v1h-1zM375.97 512.37h1v1h-1zM373.06 507.62h1v1h-1zM378.98 509.49h1v1h-1zM380.24 506.18h1v1h-1zM377.43 508.94h1v1h-1zM377.5 512.15h1v1h-1zM380 510.6h1v1h-1zM375.48 512.01h1v1h-1zM384.05 504.48h1v1h-1zM387.1 505.58h1v1h-1zM375.26 511.66h1v1h-1zM388.64 511.14h1v1h-1zM379.95 506.94h1v1h-1zM377.28 509.73h1v1h-1zM382.26 506.15h1v1h-1zM382.93 502.38h1v1h-1zM381.68 506.31h1v1h-1zM374.78 515.57h1v1h-1zM383.37 508.16h1v1h-1zM375.62 513.47h1v1h-1zM381.05 506.77h1v1h-1zM369.77 511.93h1v1h-1zM384.02 510.64h1v1h-1zM375.73 503.48h1v1h-1zM385.81 508.15h1v1h-1zM384 501.24h1v1h-1zM379.31 511.26h1v1h-1zM380.42 514.72h1v1h-1zM384.62 512.31h1v1h-1zM383.7 508.41h1v1h-1zM376.98 506.54h1v1h-1zM386.32 508.52h1v1h-1zM370.92 509.69h1v1h-1zM380.94 507.56h1v1h-1zM382.45 506.34h1v1h-1zM392.54 507.74h1v1h-1zM376.11 509.44h1v1h-1zM381.43 511.77h1v1h-1zM381.66 511.11h1v1h-1zM380.71 508.3h1v1h-1zM375.83 506.86h1v1h-1zM380.36 505.29h1v1h-1zM384.27 508.19h1v1h-1zM385.99 511.57h1v1h-1zM387.11 507.06h1v1h-1zM382.64 507.29h1v1h-1zM376.38 509.59h1v1h-1zM378.38 511.79h1v1h-1zM374.23 509.93h1v1h-1zM386.58 509.91h1v1h-1zM389.34 515.19h1v1h-1zM375.06 507.98h1v1h-1zM378.03 513.76h1v1h-1zM378.38 502.69h1v1h-1zM377.7 508.1h1v1h-1zM379.87 508.58h1v1h-1zM380.75 506.64h1v1h-1zM380.43 507.68h1v1h-1zM378.6 508.21h1v1h-1zM384.42 509.85h1v1h-1zM383.56 506.79h1v1h-1zM372.82 508.51h1v1h-1zM384.45 508.97h1v1h-1zM378.12 504.21h1v1h-1zM382.06 506.54h1v1h-1zM372.92 510.17h1v1h-1zM380.87 512.88h1v1h-1zM374.87 504.79h1v1h-1zM381.17 513.9h1v1h-1zM381.45 511.08h1v1h-1zM374.29 509.95h1v1h-1zM373.75 503.47h1v1h-1zM383.81 512.58h1v1h-1zM377.35 509.6h1v1h-1zM383.14 508.44h1v1h-1zM380.81 510.19h1v1h-1zM376.71 505.73h1v1h-1zM382.62 516.22h1v1h-1zM378.85 507.74h1v1h-1zM389.35 507.12h1v1h-1zM377.29 515.03h1v1h-1zM383.82 511.4h1v1h-1zM370.86 513.08h1v1h-1zM379.52 512.23h1v1h-1zM383.17 514.84h1v1h-1zM384.54 514.81h1v1h-1zM377.75 512.6h1v1h-1zM383.5 507.59h1v1h-1zM374.44 508.51h1v1h-1zM376.73 507.81h1v1h-1zM378.46 507.16h1v1h-1zM381.25 509.64h1v1h-1zM376.15 506.8h1v1h-1zM381.73 507.57h1v1h-1zM378.53 506.28h1v1h-1zM372.29 508.38h1v1h-1zM375.99 508.9h1v1h-1zM379.31 507.91h1v1h-1zM384.79 506.61h1v1h-1zM386.01 510.24h1v1h-1zM392.98 506.4h1v1h-1zM377.65 510.39h1v1h-1zM384.38 508.31h1v1h-1zM384.36 509.56h1v1h-1zM374.1 510.15h1v1h-1zM384.71 510.44h1v1h-1zM380.31 506.47h1v1h-1zM384.18 513.67h1v1h-1zM374.34 511.16h1v1h-1zM372.49 509.86h1v1h-1zM383.75 504.72h1v1h-1zM374.58 509.56h1v1h-1zM379.58 510.17h1v1h-1zM387.18 505.56h1v1h-1zM381.87 503.18h1v1h-1zM384.84 510.77h1v1h-1zM373.2 506.82h1v1h-1zM372.8 508.59h1v1h-1zM376.03 512.63h1v1h-1zM382.71 505.27h1v1h-1zM387.6 509.89h1v1h-1zM384.82 509.3h1v1h-1zM386.79 512.78h1v1h-1zM384.52 513.62h1v1h-1zM383.73 510.23h1v1h-1zM377.35 502.65h1v1h-1zM386.64 511.16h1v1h-1zM375.75 511.9h1v1h-1zM381.65 509.57h1v1h-1zM389.46 512.41h1v1h-1zM374.55 509.55h1v1h-1zM385.6 512.82h1v1h-1zM383.39 508.1h1v1h-1zM382.61 503.37h1v1h-1zM386.86 509.1h1v1h-1zM378.3 507.04h1v1h-1zM381.67 506.67h1v1h-1zM376.27 506.24h1v1h-1zM389.01 508.93h1v1h-1zM383.28 510.4h1v1h-1zM378 511.74h1v1h-1zM380.16 506.94h1v1h-1zM376.18 508.07h1v1h-1zM378.65 513.49h1v1h-1zM387.7 514.13h1v1h-1zM377.57 506.69h1v1h-1zM386.78 511.41h1v1h-1zM382.31 506.58h1v1h-1zM379.57 505.58h1v1h-1zM388.62 512.61h1v1h-1zM378.9 512.59h1v1h-1zM381.58 502.97h1v1h-1zM383.59 506.94h1v1h-1zM382.43 507.83h1v1h-1zM376.24 508.24h1v1h-1zM385.83 505.59h1v1h-1zM376.34 504.53h1v1h-1zM378.02 512.05h1v1h-1zM384.33 511.04h1v1h-1zM383.24 514.09h1v1h-1zM387.95 514.31h1v1h-1zM376.84 507.31h1v1h-1zM384.58 511.6h1v1h-1zM378.53 508.62h1v1h-1zM385.22 508.87h1v1h-1zM377.43 510.32h1v1h-1zM378.3 511.09h1v1h-1zM381.98 508.35h1v1h-1zM376.79 512.45h1v1h-1zM376.84 509.65h1v1h-1zM379.25 509.41h1v1h-1zM379.16 512.41h1v1h-1zM381.41 506.02h1v1h-1zM375.1 511.6h1v1h-1zM379.93 513.17h1v1h-1zM383.08 513.35h1v1h-1zM374.37 508.2h1v1h-1zM386.71 505.38h1v1h-1zM384.26 509.14h1v1h-1zM385.7 508.34h1v1h-1zM377.5 511.85h1v1h-1zM391 505.63h1v1h-1zM382.23 506.82h1v1h-1zM383.19 510.72h1v1h-1zM377.52 505.03h1v1h-1zM381.26 509.41h1v1h-1zM385.09 509.21h1v1h-1zM385.89 510.2h1v1h-1zM387.84 512.59h1v1h-1zM374.65 508.51h1v1h-1zM383.04 508.59h1v1h-1zM382.66 514.63h1v1h-1zM377.02 507.22h1v1h-1zM376.93 512.69h1v1h-1zM391.48 506.72h1v1h-1zM392.01 505.03h1v1h-1zM381.65 509.85h1v1h-1zM382.56 507.24h1v1h-1zM375.76 508.82h1v1h-1zM385.83 508.75h1v1h-1zM382.97 510.87h1v1h-1zM387.89 506.05h1v1h-1zM388.49 515.45h1v1h-1zM375.74 512.91h1v1h-1zM372.51 506.87h1v1h-1zM379.77 509.35h1v1h-1zM372.46 507.15h1v1h-1zM373.58 512.39h1v1h-1zM376.79 510.27h1v1h-1zM378.79 511.03h1v1h-1zM374.26 506.43h1v1h-1zM382.81 512h1v1h-1zM376.92 507.82h1v1h-1zM390.19 509.64h1v1h-1zM385.57 512.6h1v1h-1zM384.69 508.99h1v1h-1zM380.39 512.07h1v1h-1zM383.03 511.14h1v1h-1zM383.86 507.78h1v1h-1zM377.22 504.99h1v1h-1zM381.99 509.3h1v1h-1zM381.49 502.35h1v1h-1zM379.13 506.02h1v1h-1zM385.45 511.55h1v1h-1zM384.06 511.05h1v1h-1zM386.32 510.12h1v1h-1zM377.2 509.82h1v1h-1zM381.21 510.43h1v1h-1zM383.27 509.58h1v1h-1zM382.09 509.21h1v1h-1zM379.83 505.95h1v1h-1zM377.54 507.91h1v1h-1zM389.23 508.62h1v1h-1zM376.85 511.16h1v1h-1zM383.24 508.41h1v1h-1zM385.41 506.23h1v1h-1zM375.7 507.73h1v1h-1zM379.2 508.57h1v1h-1zM380.92 512.2h1v1h-1zM381.25 510.59h1v1h-1zM379.78 506.14h1v1h-1zM380.64 506.2h1v1h-1zM384.13 508.47h1v1h-1zM376.07 509.05h1v1h-1zM381.52 507.71h1v1h-1zM376.03 508.33h1v1h-1zM378.51 507.71h1v1h-1zM390.75 514.3h1v1h-1zM385.83 508.6h1v1h-1zM385.63 511.08h1v1h-1zM381.11 509.27h1v1h-1zM381.04 503.89h1v1h-1zM385.59 512.11h1v1h-1zM382.16 510.44h1v1h-1zM377.05 508.95h1v1h-1zM377.84 506.1h1v1h-1zM382.24 516.23h1v1h-1zM389.21 509.51h1v1h-1zM378.92 515.82h1v1h-1zM376.9 507.15h1v1h-1zM382.83 515.29h1v1h-1zM388.27 503.14h1v1h-1zM372.01 505.53h1v1h-1zM386.3 506.47h1v1h-1zM377.57 512.89h1v1h-1zM376.22 514.05h1v1h-1zM372.13 507.26h1v1h-1zM386.93 506.03h1v1h-1zM382.11 511.99h1v1h-1zM384.49 510.74h1v1h-1zM383.04 511.49h1v1h-1zM381.54 507.79h1v1h-1zM389.97 505.83h1v1h-1z" fill="#000"/>
<path d="M384.74 491.44h0.8v0.8h-0.8zM375.19 500.57h0.8v0.8h-0.8zM377.81 498.12h0.8v0.8h-0.8zM385.91 474.14h0.8v0.8h-0.8zM381.83 465.56h0.8v0.8h-0.8zM377.16 493.51h0.8v0.8h-0.8zM385.25 473.02h0.8v0.8h-0.8zM384.71 486.9h0.8v0.8h-0.8zM375.08 475.15h0.8v0.8h-0.8zM386.08 474.78h0.8v0.8h-0.8zM370.86 464.23h0.8v0.8h-0.8zM384.66 456.65h0.8v0.8h-0.8zM383.79 495.48h0.8v0.8h-0.8zM379.25 500.67h0.8v0.8h-0.8zM381.43 496.93h0.8v0.8h-0.8zM384.39 489.52h0.8v0.8h-0.8zM379.9 500.22h0.8v0.8h-0.8zM388.4 466.64h0.8v0.8h-0.8zM386.48 497.43h0.8v0.8h-0.8zM388.79 483.22h0.8v0.8h-0.8zM388.18 488.23h0.8v0.8h-0.8zM380.98 458.63h0.8v0.8h-0.8zM382.2 476.13h0.8v0.8h-0.8zM377.54 473.69h0.8v0.8h-0.8zM383.31 484.42h0.8v0.8h-0.8zM377.63 482.55h0.8v0.8h-0.8zM378.5 465.06h0.8v0.8h-0.8zM387.64 487.1h0.8v0.8h-0.8zM380.68 475.13h0.8v0.8h-0.8zM386.22 493.8h0.8v0.8h-0.8zM383.67 459.8h0.8v0.8h-0.8zM386.43 483.8h0.8v0.8h-0.8zM387.03 484.07h0.8v0.8h-0.8zM375.5 468.45h0.8v0.8h-0.8zM386.96 494.61h0.8v0.8h-0.8zM379.33 498.57h0.8v0.8h-0.8zM379.92 490.17h0.8v0.8h-0.8zM378.96 488.38h0.8v0.8h-0.8zM385.35 493.7h0.8v0.8h-0.8zM378.2 497.9h0.8v0.8h-0.8zM376.45 497.99h0.8v0.8h-0.8zM378.08 474.95h0.8v0.8h-0.8zM376.63 456.5h0.8v0.8h-0.8zM374.12 495.22h0.8v0.8h-0.8zM381.35 463.13h0.8v0.8h-0.8zM379.92 472.71h0.8v0.8h-0.8zM385.28 473.8h0.8v0.8h-0.8zM383.59 485.93h0.8v0.8h-0.8zM383.7 494.18h0.8v0.8h-0.8zM373.7 462.73h0.8v0.8h-0.8zM378.01 479.11h0.8v0.8h-0.8zM380.91 493.61h0.8v0.8h-0.8zM375.26 488.97h0.8v0.8h-0.8zM378.52 497.27h0.8v0.8h-0.8zM377.6 480.64h0.8v0.8h-0.8zM379.36 487.27h0.8v0.8h-0.8zM382.8 479.54h0.8v0.8h-0.8zM380.11 464.92h0.8v0.8h-0.8zM377.63 491.97h0.8v0.8h-0.8zM390.93 495.16h0.8v0.8h-0.8zM378.38 476.19h0.8v0.8h-0.8zM384.96 476.09h0.8v0.8h-0.8zM383.9 470.34h0.8v0.8h-0.8zM386.36 489.12h0.8v0.8h-0.8zM387.78 490.07h0.8v0.8h-0.8zM373.81 482.66h0.8v0.8h-0.8zM384.27 477.74h0.8v0.8h-0.8zM387.37 458.92h0.8v0.8h-0.8zM381.97 481.04h0.8v0.8h-0.8zM381.45 496.5h0.8v0.8h-0.8zM387.3 476.77h0.8v0.8h-0.8zM389.38 500.45h0.8v0.8h-0.8zM385.37 488h0.8v0.8h-0.8zM381.53 498.85h0.8v0.8h-0.8zM381.41 488.56h0.8v0.8h-0.8zM376.32 467.11h0.8v0.8h-0.8zM386.33 489.15h0.8v0.8h-0.8zM382.76 488.91h0.8v0.8h-0.8zM375.43 477.33h0.8v0.8h-0.8z" fill="#999"/>
<path d="M381.35 495.61h0.85v0.85h-0.85zM388.08 458.48h0.85v0.85h-0.85zM385.29 498.64h0.85v0.85h-0.85zM382.17 496.93h0.85v0.85h-0.85zM381.89 486.36h0.85v0.85h-0.85zM378.83 497.03h0.85v0.85h-0.85zM384.43 497.16h0.85v0.85h-0.85zM379.83 478.62h0.85v0.85h-0.85zM382.81 464.34h0.85v0.85h-0.85zM381.42 492.19h0.85v0.85h-0.85zM376.26 489.36h0.85v0.85h-0.85zM390.77 465.88h0.85v0.85h-0.85zM385.79 500.96h0.85v0.85h-0.85zM380.22 498.25h0.85v0.85h-0.85zM385.02 486.63h0.85v0.85h-0.85zM374.99 497.8h0.85v0.85h-0.85zM388.65 497.03h0.85v0.85h-0.85zM386.98 493.02h0.85v0.85h-0.85zM382.95 470.92h0.85v0.85h-0.85zM389.27 473.4h0.85v0.85h-0.85zM382.77 494.05h0.85v0.85h-0.85zM382.25 490.2h0.85v0.85h-0.85zM388.43 493.07h0.85v0.85h-0.85zM383.85 494.2h0.85v0.85h-0.85zM381 496.04h0.85v0.85h-0.85zM374.11 483.48h0.85v0.85h-0.85zM388.3 495.81h0.85v0.85h-0.85zM376.61 486.05h0.85v0.85h-0.85zM382.28 488.96h0.85v0.85h-0.85zM384.37 495.94h0.85v0.85h-0.85zM380.56 500.06h0.85v0.85h-0.85zM380.41 494.02h0.85v0.85h-0.85zM384.5 486.38h0.85v0.85h-0.85zM372.83 499.91h0.85v0.85h-0.85zM379.54 496.42h0.85v0.85h-0.85zM387.41 496.53h0.85v0.85h-0.85zM376.84 489.76h0.85v0.85h-0.85zM381.93 488.33h0.85v0.85h-0.85zM386.15 479.55h0.85v0.85h-0.85zM387.92 494.75h0.85v0.85h-0.85zM374.54 493.9h0.85v0.85h-0.85zM379.84 496.97h0.85v0.85h-0.85zM376.51 475.25h0.85v0.85h-0.85zM382.88 491.83h0.85v0.85h-0.85zM382.03 490.77h0.85v0.85h-0.85zM390.91 470.99h0.85v0.85h-0.85zM386.16 494.85h0.85v0.85h-0.85zM386.12 480.79h0.85v0.85h-0.85zM383.82 462.44h0.85v0.85h-0.85zM378.87 479.7h0.85v0.85h-0.85zM385.69 496.99h0.85v0.85h-0.85z" fill="#222"/>
<line x1="423.5" y1="445.2" x2="423.5" y2="519.9" stroke="#444" stroke-width="0.7"/>
<line x1="420.5" y1="517.5" x2="517.6" y2="517.5" stroke="#444" stroke-width="0.7"/>
<path d="M423.5 517.5v2M430.59 517.5v1.1M423.5 512.02h-1.1M434.74 517.5v1.1M423.5 508.82h-1.1M437.68 517.5v1.1M423.5 506.54h-1.1M439.96 517.5v1.1M423.5 504.78h-1.1M441.83 517.5v1.1M423.5 503.34h-1.1M443.4 517.5v1.1M423.5 502.12h-1.1M444.77 517.5v1.1M423.5 501.06h-1.1M445.97 517.5v1.1M423.5 500.13h-1.1M447.05 517.5v2M423.5 499.3h-2.8M454.14 517.5v1.1M423.5 493.82h-1.1M458.29 517.5v1.1M423.5 490.62h-1.1M461.23 517.5v1.1M423.5 488.34h-1.1M463.51 517.5v1.1M423.5 486.58h-1.1M465.38 517.5v1.1M423.5 485.14h-1.1M466.95 517.5v1.1M423.5 483.92h-1.1M468.32 517.5v1.1M423.5 482.86h-1.1M469.52 517.5v1.1M423.5 481.93h-1.1M470.6 517.5v2M423.5 481.1h-2.8M477.69 517.5v1.1M423.5 475.62h-1.1M481.84 517.5v1.1M423.5 472.42h-1.1M484.78 517.5v1.1M423.5 470.14h-1.1M487.06 517.5v1.1M423.5 468.38h-1.1M488.93 517.5v1.1M423.5 466.94h-1.1M490.5 517.5v1.1M423.5 465.72h-1.1M491.87 517.5v1.1M423.5 464.66h-1.1M493.07 517.5v1.1M423.5 463.73h-1.1M494.15 517.5v2M423.5 462.9h-2.8M501.24 517.5v1.1M423.5 457.42h-1.1M505.39 517.5v1.1M423.5 454.22h-1.1M508.33 517.5v1.1M423.5 451.94h-1.1M510.61 517.5v1.1M423.5 450.18h-1.1M512.48 517.5v1.1M423.5 448.74h-1.1M514.05 517.5v1.1M423.5 447.52h-1.1M515.42 517.5v1.1M423.5 446.46h-1.1M516.62 517.5v1.1M423.5 445.53h-1.1M517.7 517.5v2M423.5 444.7h-2.8" stroke="#444" stroke-width="0.5" fill="none"/>
<text x="443.85" y="524.9" font-size="3.9" text-anchor="middle" fill="#333">10<tspan dx="0.3" dy="-1.1" font-size="2.9">1</tspan></text>
<text transform="translate(418.9 501.9) rotate(-90)" font-size="3.9" text-anchor="middle" fill="#333">10<tspan dx="0.3" dy="-1.1" font-size="2.9">1</tspan></text>
<text x="467.4" y="524.9" font-size="3.9" text-anchor="middle" fill="#333">10<tspan dx="0.3" dy="-1.1" font-size="2.9">2</tspan></text>
<text transform="translate(418.9 483.7) rotate(-90)" font-size="3.9" text-anchor="middle" fill="#333">10<tspan dx="0.3" dy="-1.1" font-size="2.9">2</tspan></text>
<text x="490.95" y="524.9" font-size="3.9" text-anchor="middle" fill="#333">10<tspan dx="0.3" dy="-1.1" font-size="2.9">3</tspan></text>
<text transform="translate(418.9 465.5) rotate(-90)" font-size="3.9" text-anchor="middle" fill="#333">10<tspan dx="0.3" dy="-1.1" font-size="2.9">3</tspan></text>
<text x="514.5" y="524.9" font-size="3.9" text-anchor="middle" fill="#333">10<tspan dx="0.3" dy="-1.1" font-size="2.9">4</tspan></text>
<text transform="translate(418.9 447.3) rotate(-90)" font-size="3.9" text-anchor="middle" fill="#333">10<tspan dx="0.3" dy="-1.1" font-size="2.9">4</tspan></text>
<text x="470" y="529.1" font-size="3.6" text-anchor="middle" fill="#333">FITC</text>
<text transform="translate(414.39 480.9) rotate(-90)" font-size="3.6" text-anchor="middle" fill="#333">PE</text>
<text x="424.7" y="448.8" font-size="3" fill="#555">4</text>
<text x="424.7" y="515.7" font-size="3" fill="#555">6</text>
<line x1="466.5" y1="445.2" x2="466.5" y2="517.9" stroke="#666" stroke-width="0.8"/>
<line x1="423.5" y1="498.5" x2="517.6" y2="498.5" stroke="#8a8a8a" stroke-width="1"/>
<text x="515.2" y="448.8" font-size="3" fill="#555">5</text>
<text x="515.2" y="516.1" font-size="3" fill="#555">7</text>
<ellipse cx="482.5" cy="509.9" rx="8.58" ry="5.18" fill="#000"/>
<path d="M471.71 510.3h1v1h-1zM479.98 507.32h1v1h-1zM479.36 511.24h1v1h-1zM482.04 506.52h1v1h-1zM485.92 505.42h1v1h-1zM484.91 506.15h1v1h-1zM480.52 513.92h1v1h-1zM480.55 509.78h1v1h-1zM479.02 510h1v1h-1zM485.43 510.46h1v1h-1zM488.96 508.14h1v1h-1zM476.11 511.02h1v1h-1zM477.24 511.94h1v1h-1zM481.37 515.33h1v1h-1zM483.44 506.25h1v1h-1zM477.58 508.39h1v1h-1zM483.21 503.71h1v1h-1zM484.07 508.75h1v1h-1zM484.86 508.24h1v1h-1zM485.86 511.41h1v1h-1zM480.54 508.21h1v1h-1zM474.12 503.19h1v1h-1zM483.66 503.82h1v1h-1zM484.4 511.7h1v1h-1zM482.09 512.31h1v1h-1zM481.43 513.27h1v1h-1zM471.88 504.33h1v1h-1zM479.68 509.87h1v1h-1zM484.22 510.39h1v1h-1zM479.88 509.6h1v1h-1zM480.87 507.54h1v1h-1zM489.5 510.67h1v1h-1zM474.04 510.58h1v1h-1zM477.77 508.02h1v1h-1zM490.62 511.94h1v1h-1zM480.37 507.27h1v1h-1zM487.97 511.5h1v1h-1zM489.27 507.28h1v1h-1zM484.18 510.78h1v1h-1zM479.69 509.71h1v1h-1zM473.08 509.96h1v1h-1zM481.39 514.97h1v1h-1zM481.74 514.96h1v1h-1zM484.18 510.1h1v1h-1zM488.15 510.54h1v1h-1zM489.42 510.06h1v1h-1zM472.81 512.64h1v1h-1zM475.07 513.19h1v1h-1zM482.06 506.47h1v1h-1zM483.2 505.38h1v1h-1zM477.72 507.64h1v1h-1zM485.36 512.43h1v1h-1zM476.85 509.02h1v1h-1zM484.97 509.2h1v1h-1zM487.28 507.35h1v1h-1zM487.1 511.66h1v1h-1zM484.17 512.67h1v1h-1zM473.69 510.06h1v1h-1zM483.58 508.77h1v1h-1zM490.2 504.42h1v1h-1zM483.17 510.41h1v1h-1zM480.79 509.57h1v1h-1zM486.12 511.95h1v1h-1zM483.68 513.36h1v1h-1zM483.88 513.72h1v1h-1zM480.63 508.56h1v1h-1zM477.6 503.13h1v1h-1zM483.43 509.37h1v1h-1zM480.38 506.95h1v1h-1zM477.31 511.07h1v1h-1zM488.54 510.69h1v1h-1zM488.55 513.74h1v1h-1zM487.46 511.92h1v1h-1zM480.82 509.14h1v1h-1zM486.3 511.72h1v1h-1zM479.82 510.52h1v1h-1zM484.84 510.7h1v1h-1zM483.03 507.89h1v1h-1zM482.1 507.91h1v1h-1zM485.41 504.66h1v1h-1zM485.57 507.37h1v1h-1zM486.98 508.91h1v1h-1zM475.77 505.24h1v1h-1zM482.86 510.15h1v1h-1zM480.8 507.36h1v1h-1zM483.09 512.86h1v1h-1zM483.82 511.52h1v1h-1zM482.62 510.67h1v1h-1zM485.76 504.06h1v1h-1zM481.41 506.17h1v1h-1zM487.39 507.62h1v1h-1zM481.05 509.19h1v1h-1zM479.9 511.07h1v1h-1zM475.15 502.9h1v1h-1zM479.03 507.49h1v1h-1zM482.98 508.33h1v1h-1zM482.49 508.56h1v1h-1zM489.97 508.28h1v1h-1zM487.57 509.08h1v1h-1zM479.3 506.85h1v1h-1zM482.03 505.64h1v1h-1zM473.54 510.87h1v1h-1zM485.66 508.5h1v1h-1zM479.57 511.87h1v1h-1zM478.15 508.67h1v1h-1zM478.24 510.06h1v1h-1zM473.86 511.33h1v1h-1zM482.95 502.46h1v1h-1zM485.51 508.43h1v1h-1zM483.34 504.83h1v1h-1zM478.03 506.91h1v1h-1zM487.51 507.53h1v1h-1zM484.13 508.86h1v1h-1zM480.36 510.66h1v1h-1zM481 506.11h1v1h-1zM480.11 511.88h1v1h-1zM477.85 509.65h1v1h-1zM475.2 509.58h1v1h-1zM485.4 509.67h1v1h-1zM474.91 508.71h1v1h-1zM475.39 506.7h1v1h-1zM472.17 512.1h1v1h-1zM482.64 505.84h1v1h-1zM474.04 507.06h1v1h-1zM481.24 511.82h1v1h-1zM476.21 509.42h1v1h-1zM487.46 510.54h1v1h-1zM490.51 506.44h1v1h-1zM474.67 508.24h1v1h-1zM480.7 510.24h1v1h-1zM484.67 506.02h1v1h-1zM476.85 506.73h1v1h-1zM486.08 509h1v1h-1zM474.83 507.29h1v1h-1zM477.87 503.27h1v1h-1zM490.41 510.78h1v1h-1zM486.14 510.02h1v1h-1zM476.74 513.74h1v1h-1zM486.75 506.93h1v1h-1zM475.23 507.86h1v1h-1zM486.63 509.88h1v1h-1zM480.53 509.68h1v1h-1zM480.57 511.68h1v1h-1zM484.18 510.82h1v1h-1zM477.07 512.63h1v1h-1zM484.54 507.27h1v1h-1zM483.75 504.75h1v1h-1zM484.6 510.62h1v1h-1zM483.93 508.24h1v1h-1zM477.48 506.54h1v1h-1zM484.92 504.49h1v1h-1zM483.08 507.91h1v1h-1zM480.25 503.05h1v1h-1zM475.79 502.83h1v1h-1zM486.74 511.08h1v1h-1zM486.05 508.88h1v1h-1zM479.71 511.49h1v1h-1zM478.35 511.68h1v1h-1zM478.25 509.32h1v1h-1zM470.77 509.39h1v1h-1zM479.85 511.26h1v1h-1zM488.64 507.03h1v1h-1zM484.83 502.9h1v1h-1zM486.13 509.13h1v1h-1zM489.97 509.42h1v1h-1zM479.43 506.86h1v1h-1zM489.26 506.33h1v1h-1zM475.94 507.61h1v1h-1zM479.3 510.34h1v1h-1zM479.85 514.09h1v1h-1zM476.09 509.53h1v1h-1zM475.55 503.53h1v1h-1zM483.58 510.31h1v1h-1zM482.41 507.3h1v1h-1zM476.74 507.89h1v1h-1zM478.65 505.62h1v1h-1zM476.65 511.84h1v1h-1zM490.56 507.09h1v1h-1zM474.4 510.73h1v1h-1zM479.22 516.05h1v1h-1zM488.3 509.47h1v1h-1zM483.09 502.76h1v1h-1zM476.36 508.47h1v1h-1zM475.59 506.23h1v1h-1zM477.18 512.49h1v1h-1zM481.94 510.63h1v1h-1zM484.7 510.29h1v1h-1zM479.85 510.3h1v1h-1zM483.44 504.88h1v1h-1zM479.72 510.67h1v1h-1zM473.47 512.5h1v1h-1zM485.84 505.43h1v1h-1zM475.07 513.2h1v1h-1zM477.56 509.26h1v1h-1zM487.88 506.76h1v1h-1zM483.72 509.8h1v1h-1zM473.69 510.25h1v1h-1zM476.46 510.82h1v1h-1zM486.35 512.51h1v1h-1zM478.12 510.95h1v1h-1zM483.56 513.33h1v1h-1zM484.87 506.12h1v1h-1zM477.12 507.01h1v1h-1zM480.11 504.88h1v1h-1zM494.64 509.91h1v1h-1zM480.45 509.45h1v1h-1zM480.64 504.36h1v1h-1zM477.59 512.44h1v1h-1zM489.73 510.62h1v1h-1zM477.92 504.54h1v1h-1zM471.2 510.51h1v1h-1zM481.58 509.56h1v1h-1zM485.65 510.82h1v1h-1zM482.56 511.56h1v1h-1zM487.92 511.77h1v1h-1zM490.56 504.91h1v1h-1zM478.53 512.23h1v1h-1zM475.48 508.74h1v1h-1zM481.31 506.21h1v1h-1zM486.22 509.72h1v1h-1zM489.36 509.74h1v1h-1zM488.23 508.62h1v1h-1zM479.72 505.74h1v1h-1zM484.9 509.08h1v1h-1zM478.05 508.22h1v1h-1zM478.71 509.95h1v1h-1zM482.87 506.73h1v1h-1zM480.91 515.31h1v1h-1zM485.11 509.62h1v1h-1zM488.49 507.44h1v1h-1zM482.78 510.94h1v1h-1zM477.7 504.34h1v1h-1zM493.63 509.29h1v1h-1zM482.02 508.13h1v1h-1zM483.22 506.25h1v1h-1zM480.96 509.27h1v1h-1zM487.86 509.71h1v1h-1zM479.64 507.5h1v1h-1zM483.79 509.17h1v1h-1zM489.98 504.44h1v1h-1zM489.77 512.39h1v1h-1zM478.09 507.27h1v1h-1zM476.34 510.87h1v1h-1zM489.35 507.14h1v1h-1zM476.68 509.97h1v1h-1zM484.76 512.8h1v1h-1zM486.42 506.1h1v1h-1zM477.65 507.47h1v1h-1zM491.47 508.82h1v1h-1zM474.87 508.91h1v1h-1zM483.3 507.21h1v1h-1zM479.25 507.6h1v1h-1zM482.37 506.83h1v1h-1zM489.27 508.31h1v1h-1zM475.78 508.71h1v1h-1zM478.67 508.2h1v1h-1zM487.29 509.9h1v1h-1zM480.5 512.68h1v1h-1zM482.81 511.39h1v1h-1zM486.71 509.02h1v1h-1zM481.97 507.74h1v1h-1zM488.37 511.82h1v1h-1zM473.95 511.52h1v1h-1zM487.65 509.87h1v1h-1zM479.18 508.17h1v1h-1zM481.31 507.45h1v1h-1zM484.2 510.51h1v1h-1zM486.75 510.28h1v1h-1zM482.63 507.57h1v1h-1zM481.08 512.07h1v1h-1zM483.79 515.4h1v1h-1zM483.24 508.08h1v1h-1zM476.29 503.85h1v1h-1zM486.93 509.64h1v1h-1zM486.19 509.84h1v1h-1zM485.86 511.74h1v1h-1zM484.24 514.12h1v1h-1zM480.51 510.25h1v1h-1zM476.9 508.3h1v1h-1zM481.49 504.41h1v1h-1zM482.07 512.38h1v1h-1zM479.65 501.6h1v1h-1zM475.67 508.06h1v1h-1zM479.38 512.19h1v1h-1zM479.67 512.63h1v1h-1zM481.04 512h1v1h-1zM484.05 509.63h1v1h-1zM485.01 507.33h1v1h-1zM485.56 508.88h1v1h-1zM475.24 514.23h1v1h-1zM475.1 510.94h1v1h-1zM482.78 506.45h1v1h-1zM482.2 509.81h1v1h-1zM486.15 506.41h1v1h-1zM486.52 506.48h1v1h-1zM486.89 511.95h1v1h-1zM479.76 509.54h1v1h-1zM486.46 509.72h1v1h-1zM475.09 513.84h1v1h-1zM492.97 509.11h1v1h-1zM477.84 514.73h1v1h-1zM478.6 511.36h1v1h-1zM480.75 508.99h1v1h-1zM481.2 508.44h1v1h-1zM475.14 506.76h1v1h-1zM488.53 511.02h1v1h-1zM477.5 509.24h1v1h-1zM482.85 506.82h1v1h-1zM483.79 512.32h1v1h-1zM476.01 513.59h1v1h-1zM483.32 512.33h1v1h-1zM483.01 506.09h1v1h-1zM480.55 510.85h1v1h-1zM478.43 512.39h1v1h-1zM476.41 508.65h1v1h-1zM482.3 506.02h1v1h-1zM481.79 514.08h1v1h-1zM483.69 507.54h1v1h-1zM483.1 508.57h1v1h-1zM483.74 512.14h1v1h-1zM486.61 507.45h1v1h-1zM479.95 511.27h1v1h-1zM475.89 510.19h1v1h-1zM473.59 505.71h1v1h-1zM487.51 512.76h1v1h-1zM488.47 508.42h1v1h-1zM479.81 504.1h1v1h-1zM485.22 507.67h1v1h-1zM473.06 511.09h1v1h-1zM484.87 512.18h1v1h-1zM486.8 508.75h1v1h-1zM477.32 510.7h1v1h-1zM473.73 510.03h1v1h-1zM486.19 511.53h1v1h-1zM470.92 512.82h1v1h-1zM484.48 507.4h1v1h-1zM489.52 509.77h1v1h-1zM486.03 509.66h1v1h-1zM477.56 505.79h1v1h-1zM479.73 507.77h1v1h-1zM474.21 512.84h1v1h-1zM480.97 513.1h1v1h-1zM473.02 507.26h1v1h-1zM484.89 504.37h1v1h-1zM477.85 513.61h1v1h-1zM483.51 508.66h1v1h-1zM481.17 506.07h1v1h-1zM476.75 512.26h1v1h-1zM485.8 503.29h1v1h-1zM485.3 502.68h1v1h-1zM485.78 506.65h1v1h-1zM478.14 503.15h1v1h-1zM480.42 508.78h1v1h-1zM476.04 512.1h1v1h-1zM484.34 509.59h1v1h-1zM486.08 505.57h1v1h-1zM490.43 510h1v1h-1zM478.34 507.5h1v1h-1zM480.68 508.34h1v1h-1zM486.74 512.95h1v1h-1zM479.2 505.58h1v1h-1zM479.03 510.18h1v1h-1zM489.86 514.53h1v1h-1zM480.74 512.44h1v1h-1zM481.62 509.38h1v1h-1zM480.59 511.21h1v1h-1zM490.91 513.64h1v1h-1zM483.85 511.65h1v1h-1zM480.93 514.67h1v1h-1zM486.67 506.22h1v1h-1zM477.53 506.39h1v1h-1zM489.08 510.23h1v1h-1zM491.64 507.62h1v1h-1zM484.17 508.58h1v1h-1zM482.15 511.9h1v1h-1zM485.59 509.09h1v1h-1zM486.2 513.14h1v1h-1zM478.98 513.18h1v1h-1zM481.92 511.58h1v1h-1zM477.58 507.69h1v1h-1zM478.94 506.05h1v1h-1zM482.16 511.45h1v1h-1zM483.72 509.98h1v1h-1zM480.95 506.77h1v1h-1zM483.21 509.42h1v1h-1zM486.22 506.06h1v1h-1zM483.95 514.6h1v1h-1zM483.28 508.77h1v1h-1zM484.96 513.54h1v1h-1zM482.6 507.05h1v1h-1zM477.63 509.72h1v1h-1zM475.13 513.26h1v1h-1zM475.89 507.41h1v1h-1zM491.04 505.7h1v1h-1zM481.38 508.7h1v1h-1zM473.18 515.26h1v1h-1zM480.79 509.52h1v1h-1zM479.04 506.02h1v1h-1zM481.1 505.59h1v1h-1zM481.04 512.27h1v1h-1zM485.42 511.72h1v1h-1zM479.41 509.31h1v1h-1zM488.54 510.75h1v1h-1zM476.56 505.44h1v1h-1zM479.97 509.67h1v1h-1zM477.95 509.07h1v1h-1zM484.83 508.22h1v1h-1zM484.54 505.35h1v1h-1zM480.14 513.31h1v1h-1zM485.54 510.38h1v1h-1zM481.62 508.56h1v1h-1zM472.14 507.05h1v1h-1zM490.13 508.21h1v1h-1zM483.97 507.06h1v1h-1zM479.6 511.22h1v1h-1zM483.88 509.9h1v1h-1zM485.21 510.13h1v1h-1zM479.67 511.97h1v1h-1zM472.81 510.05h1v1h-1zM478.36 511.94h1v1h-1zM483.76 506.29h1v1h-1zM479.84 501.53h1v1h-1zM485.13 507.92h1v1h-1zM487.99 503.59h1v1h-1zM482.27 511.09h1v1h-1zM481.05 504.98h1v1h-1zM474.22 509.4h1v1h-1zM487.79 513.57h1v1h-1zM478.79 510.16h1v1h-1zM475.61 511.39h1v1h-1zM488.28 506.08h1v1h-1zM489.14 506.85h1v1h-1zM479.9 510.72h1v1h-1zM486.36 507.63h1v1h-1zM489.03 508.18h1v1h-1zM483.62 505.51h1v1h-1zM483.73 512.72h1v1h-1zM480.79 508.15h1v1h-1zM475.95 513.29h1v1h-1zM482.17 509.87h1v1h-1zM482.9 512.58h1v1h-1zM480.84 513.01h1v1h-1zM481.35 512.6h1v1h-1zM490 506.59h1v1h-1zM482.29 506.14h1v1h-1zM473.74 507.61h1v1h-1zM483.22 512.14h1v1h-1zM485.5 511.93h1v1h-1zM479.34 513.61h1v1h-1zM477.38 512.73h1v1h-1zM476.23 507.54h1v1h-1zM477.41 510.75h1v1h-1zM486.97 512.49h1v1h-1zM480.26 511.62h1v1h-1zM486.05 507.51h1v1h-1zM487.3 512.05h1v1h-1zM478.11 511.16h1v1h-1zM477.44 507.22h1v1h-1zM485.28 507.86h1v1h-1zM485.64 504.02h1v1h-1zM481.96 509.94h1v1h-1zM485.37 512.48h1v1h-1zM485.66 506.89h1v1h-1zM482.45 513.42h1v1h-1zM484.74 502.73h1v1h-1zM479.01 508.73h1v1h-1zM476.6 508.19h1v1h-1zM482.55 510.74h1v1h-1zM484.8 507.66h1v1h-1zM486.35 506.57h1v1h-1zM492.53 509.5h1v1h-1zM485.07 509.17h1v1h-1zM481.5 508.57h1v1h-1zM484.11 508.37h1v1h-1zM476 506.03h1v1h-1zM473.43 506.09h1v1h-1zM487.7 516.72h1v1h-1zM480.62 508.21h1v1h-1zM485.26 509.9h1v1h-1zM485.52 511.42h1v1h-1zM484.91 511.17h1v1h-1zM486.58 505.66h1v1h-1zM481.5 510.89h1v1h-1zM485.54 510.82h1v1h-1zM484.45 510.06h1v1h-1zM486.33 509.28h1v1h-1zM482.8 508.5h1v1h-1zM482.89 510.21h1v1h-1zM472.31 508.1h1v1h-1zM484.76 507.08h1v1h-1zM483.41 506.52h1v1h-1zM478.04 509.06h1v1h-1zM478.6 513.18h1v1h-1zM479.54 510.71h1v1h-1zM481.28 510.13h1v1h-1zM474.17 514.13h1v1h-1zM478.41 508.53h1v1h-1zM476.09 510.04h1v1h-1zM485.75 512.39h1v1h-1zM481.68 510.84h1v1h-1zM482.65 512.13h1v1h-1zM481.69 508.46h1v1h-1zM475.63 509.81h1v1h-1zM483.54 508.03h1v1h-1zM482.84 506.7h1v1h-1zM487.1 512.62h1v1h-1zM481.7 514.11h1v1h-1zM487.58 508.03h1v1h-1zM481.12 507.95h1v1h-1zM480.77 512.34h1v1h-1zM482.94 510.8h1v1h-1zM477.3 512.6h1v1h-1zM476.11 509.27h1v1h-1zM473.93 508.89h1v1h-1zM481.65 506.7h1v1h-1zM484.09 510.41h1v1h-1zM478.84 511.87h1v1h-1zM481.3 508.09h1v1h-1zM483.81 514.25h1v1h-1zM484.26 507.49h1v1h-1zM476.2 508.1h1v1h-1zM481.81 512.94h1v1h-1zM492.77 511.88h1v1h-1zM482.38 515.98h1v1h-1zM485.89 507.44h1v1h-1zM484 511.56h1v1h-1zM483.49 508.95h1v1h-1zM481.66 511.77h1v1h-1zM473.32 516.12h1v1h-1zM471.89 511.92h1v1h-1zM481.66 509.1h1v1h-1zM479.27 511.53h1v1h-1zM483.35 511.44h1v1h-1zM483.96 515.59h1v1h-1zM477.1 508.16h1v1h-1zM480.12 513.49h1v1h-1zM481.36 509.95h1v1h-1zM486.59 514.1h1v1h-1zM479.13 505.1h1v1h-1zM475.84 511.14h1v1h-1zM488.83 509.99h1v1h-1zM485.48 505.8h1v1h-1zM474.59 508.73h1v1h-1zM483.02 506.35h1v1h-1zM487.27 512.19h1v1h-1zM474.96 503.7h1v1h-1zM488.3 510.05h1v1h-1zM483.23 508.9h1v1h-1zM478.98 505.47h1v1h-1zM484.78 506.04h1v1h-1zM478.39 504.57h1v1h-1zM482.16 509.87h1v1h-1zM481.29 507.65h1v1h-1zM483.73 510.39h1v1h-1zM489.91 505.49h1v1h-1zM474.21 510.16h1v1h-1zM481.4 510.86h1v1h-1zM479.04 507.82h1v1h-1zM489.41 510.94h1v1h-1zM489.14 509.49h1v1h-1zM483.57 511.68h1v1h-1zM476.85 513.22h1v1h-1zM480.75 508.44h1v1h-1zM479.53 512.85h1v1h-1zM487.04 508.56h1v1h-1zM485.38 504.21h1v1h-1zM482.15 507.12h1v1h-1zM487.31 513.63h1v1h-1zM482.97 512.87h1v1h-1zM476.14 511.39h1v1h-1zM485.25 508.68h1v1h-1zM489.55 511.68h1v1h-1zM482.92 513.24h1v1h-1zM480.87 515.39h1v1h-1zM475.94 505.29h1v1h-1zM480 511h1v1h-1zM480.49 507.71h1v1h-1zM483.25 508.3h1v1h-1zM480.28 510.04h1v1h-1zM488.08 510.93h1v1h-1zM485.44 502.03h1v1h-1zM486 507.68h1v1h-1zM489.04 510.3h1v1h-1zM479.5 509.53h1v1h-1zM482.22 511.21h1v1h-1zM485.91 508.31h1v1h-1zM488.26 508.82h1v1h-1zM480.44 504.26h1v1h-1zM483.46 515.18h1v1h-1zM483.93 508.83h1v1h-1zM480.5 511.57h1v1h-1zM475.18 506.22h1v1h-1zM485.82 506.89h1v1h-1zM489 509.18h1v1h-1zM481.11 506.17h1v1h-1zM477.28 506.64h1v1h-1zM483.83 505.95h1v1h-1zM480.15 511.55h1v1h-1zM479.61 511.29h1v1h-1zM485.8 509.29h1v1h-1zM476.67 511.51h1v1h-1zM481 510.38h1v1h-1zM484.44 515.3h1v1h-1zM480.52 509.68h1v1h-1zM479 508.13h1v1h-1zM488.27 506.42h1v1h-1zM486.18 509.83h1v1h-1zM485.41 510.78h1v1h-1zM484.9 503.99h1v1h-1zM486.14 507.18h1v1h-1zM476.33 507.62h1v1h-1zM480.54 516.86h1v1h-1zM487.37 515.66h1v1h-1zM484.09 514.5h1v1h-1zM480.47 509.5h1v1h-1zM483.51 505.6h1v1h-1zM486.35 506.11h1v1h-1zM490.56 512.63h1v1h-1zM493.74 511.37h1v1h-1zM483.28 504.11h1v1h-1zM488.01 507.14h1v1h-1zM478.24 511.61h1v1h-1zM477.26 511.52h1v1h-1zM479.23 505.44h1v1h-1zM473.79 509.79h1v1h-1zM492.48 510.33h1v1h-1zM482.03 511.99h1v1h-1zM481.28 505.9h1v1h-1zM480.68 510.44h1v1h-1zM480.77 506.07h1v1h-1zM480.1 512.25h1v1h-1zM470.46 505.81h1v1h-1zM479.07 507.45h1v1h-1zM484.84 511.14h1v1h-1zM483.31 511.2h1v1h-1zM481.95 506.44h1v1h-1zM480.78 511.03h1v1h-1zM481.03 503h1v1h-1zM480.83 507.18h1v1h-1zM479.69 509.81h1v1h-1zM481.41 510.93h1v1h-1zM474.69 509.49h1v1h-1zM473.9 508.67h1v1h-1zM487.3 505.27h1v1h-1zM475.79 511.34h1v1h-1zM476.05 506.56h1v1h-1zM483.19 503.68h1v1h-1zM473.66 510.77h1v1h-1zM473 511.16h1v1h-1zM473.02 511.36h1v1h-1zM490.11 514.76h1v1h-1zM482 508.03h1v1h-1zM480.88 511.7h1v1h-1zM478.78 510.29h1v1h-1zM484.85 512.61h1v1h-1zM481.36 506.66h1v1h-1zM483.45 509.76h1v1h-1zM480.87 507.3h1v1h-1zM482.63 509.09h1v1h-1zM483.04 509.18h1v1h-1zM482.6 510.49h1v1h-1zM482.47 507.29h1v1h-1zM478.23 511.17h1v1h-1zM474.26 506.59h1v1h-1zM479.78 508.54h1v1h-1zM488.79 511.15h1v1h-1zM476.63 510.64h1v1h-1zM484.76 510.91h1v1h-1zM492.73 505.43h1v1h-1zM479.45 512.14h1v1h-1zM488.77 506.06h1v1h-1zM478.5 513.62h1v1h-1zM481.33 510.95h1v1h-1zM486.01 507.86h1v1h-1zM491.62 507.97h1v1h-1zM471.49 507.7h1v1h-1zM477.02 511.18h1v1h-1zM482.35 509.73h1v1h-1zM479.63 510.13h1v1h-1zM478.08 511.9h1v1h-1zM477.26 513.55h1v1h-1zM483.29 506.04h1v1h-1zM476.63 509.39h1v1h-1zM481.75 508.6h1v1h-1zM481.62 511.4h1v1h-1zM480.98 509.36h1v1h-1zM482.93 504.28h1v1h-1zM471.49 510.97h1v1h-1zM477.27 509.69h1v1h-1zM486.01 511.23h1v1h-1zM477.3 513.21h1v1h-1zM483.11 508.13h1v1h-1zM476.05 508.97h1v1h-1zM477.85 511.47h1v1h-1zM486.78 508.76h1v1h-1zM476.74 511.51h1v1h-1zM487.42 506.93h1v1h-1zM486.59 509.06h1v1h-1zM484.03 503.9h1v1h-1zM478.19 508.88h1v1h-1zM475.11 508.5h1v1h-1zM488.13 512.21h1v1h-1zM481.54 507.05h1v1h-1zM479.59 513.82h1v1h-1zM492.64 509.6h1v1h-1zM481.36 505.77h1v1h-1zM477.9 508.6h1v1h-1zM483.37 507.33h1v1h-1zM481.8 509.1h1v1h-1zM492.72 510.94h1v1h-1zM484 509.44h1v1h-1zM482.06 505.66h1v1h-1zM488.27 514.06h1v1h-1zM486.14 511.5h1v1h-1zM477.5 504.65h1v1h-1zM479.72 506.13h1v1h-1zM484.59 510.96h1v1h-1zM476.56 508.14h1v1h-1zM482.45 502.49h1v1h-1zM484.06 516.51h1v1h-1zM487.72 508.28h1v1h-1zM493.96 506.25h1v1h-1zM485.25 508.44h1v1h-1zM482.4 510.35h1v1h-1zM484.04 508.34h1v1h-1zM481.08 509.38h1v1h-1zM483.72 503.4h1v1h-1zM485.28 508.19h1v1h-1zM484.67 513.79h1v1h-1zM479.58 509.08h1v1h-1zM478.35 507.42h1v1h-1zM480.09 504.7h1v1h-1zM479.8 510.84h1v1h-1zM492.75 511.02h1v1h-1zM488.73 509.48h1v1h-1zM476.81 502.96h1v1h-1zM474 502.17h1v1h-1zM488.81 508.54h1v1h-1zM480.02 509.41h1v1h-1zM481.01 510.36h1v1h-1zM477.54 508.34h1v1h-1zM490.79 506.34h1v1h-1zM479.41 509.01h1v1h-1zM473.51 508.48h1v1h-1zM484.55 507.73h1v1h-1zM489.61 509.98h1v1h-1zM481.53 510.27h1v1h-1zM480.79 512.74h1v1h-1zM485.33 513.96h1v1h-1zM479.35 506.04h1v1h-1z" fill="#000"/>
<path d="M486.06 479.77h0.8v0.8h-0.8zM489.51 467.34h0.8v0.8h-0.8zM479.01 500.92h0.8v0.8h-0.8zM488.85 484.7h0.8v0.8h-0.8zM470.37 479.54h0.8v0.8h-0.8zM477.44 483.11h0.8v0.8h-0.8zM481.92 485.34h0.8v0.8h-0.8zM484.12 477.08h0.8v0.8h-0.8zM482.91 494.03h0.8v0.8h-0.8zM480.83 498.83h0.8v0.8h-0.8zM488.13 496.51h0.8v0.8h-0.8zM490.81 478.09h0.8v0.8h-0.8zM478.89 480.02h0.8v0.8h-0.8zM478.24 476.69h0.8v0.8h-0.8zM485.61 483.76h0.8v0.8h-0.8zM482.26 496.41h0.8v0.8h-0.8zM487.66 471.91h0.8v0.8h-0.8zM487.36 492.56h0.8v0.8h-0.8zM487.18 486.35h0.8v0.8h-0.8zM479.19 462.25h0.8v0.8h-0.8zM487.86 470.28h0.8v0.8h-0.8zM493.37 499.32h0.8v0.8h-0.8zM486.06 493.45h0.8v0.8h-0.8zM482.58 479.09h0.8v0.8h-0.8zM486.44 471.03h0.8v0.8h-0.8zM481.47 495.38h0.8v0.8h-0.8zM482.56 495.1h0.8v0.8h-0.8zM481.13 499.68h0.8v0.8h-0.8zM483.14 480.95h0.8v0.8h-0.8zM487.88 490.13h0.8v0.8h-0.8zM477.13 470.12h0.8v0.8h-0.8zM479.94 493.41h0.8v0.8h-0.8zM488.98 486.91h0.8v0.8h-0.8zM483.5 466.67h0.8v0.8h-0.8zM489.57 485.06h0.8v0.8h-0.8zM483.2 480.15h0.8v0.8h-0.8zM486.03 481.75h0.8v0.8h-0.8zM488 486.03h0.8v0.8h-0.8zM483.99 476.39h0.8v0.8h-0.8zM480.56 493.42h0.8v0.8h-0.8zM482.76 495.29h0.8v0.8h-0.8zM489.89 493.4h0.8v0.8h-0.8zM482.43 462.42h0.8v0.8h-0.8zM476.93 464.93h0.8v0.8h-0.8zM475.71 498.14h0.8v0.8h-0.8zM482.85 484.08h0.8v0.8h-0.8zM481.98 460.2h0.8v0.8h-0.8zM494.48 466.56h0.8v0.8h-0.8zM481.35 476.19h0.8v0.8h-0.8zM477.9 487.78h0.8v0.8h-0.8zM483.63 484.47h0.8v0.8h-0.8zM485.73 477.34h0.8v0.8h-0.8zM495.24 476.03h0.8v0.8h-0.8zM478.93 482.21h0.8v0.8h-0.8zM475.58 500.53h0.8v0.8h-0.8zM486.94 456.09h0.8v0.8h-0.8zM487.82 467.21h0.8v0.8h-0.8zM479.84 478.88h0.8v0.8h-0.8zM475.75 467.91h0.8v0.8h-0.8zM481.82 475.57h0.8v0.8h-0.8zM488.08 477.58h0.8v0.8h-0.8zM483.52 479.21h0.8v0.8h-0.8zM486.81 490.96h0.8v0.8h-0.8zM488.96 481.99h0.8v0.8h-0.8zM484.51 481.83h0.8v0.8h-0.8zM488.61 485.78h0.8v0.8h-0.8zM481.44 458.28h0.8v0.8h-0.8zM482.54 480.97h0.8v0.8h-0.8zM480.72 473.06h0.8v0.8h-0.8zM481 479.04h0.8v0.8h-0.8zM483.15 481.21h0.8v0.8h-0.8zM485.39 477.29h0.8v0.8h-0.8zM483.69 489.97h0.8v0.8h-0.8zM475.84 499.84h0.8v0.8h-0.8zM484.54 462.67h0.8v0.8h-0.8zM484.56 476h0.8v0.8h-0.8zM484.41 458.72h0.8v0.8h-0.8zM484.84 487.7h0.8v0.8h-0.8zM474.68 468.03h0.8v0.8h-0.8zM487.03 481.67h0.8v0.8h-0.8zM488.5 482.05h0.8v0.8h-0.8zM487.23 471.73h0.8v0.8h-0.8zM478.02 494.66h0.8v0.8h-0.8zM484.4 483.43h0.8v0.8h-0.8zM485.37 487.83h0.8v0.8h-0.8zM481.08 497.36h0.8v0.8h-0.8zM487.02 497.49h0.8v0.8h-0.8zM482.78 463.84h0.8v0.8h-0.8zM493.02 474.81h0.8v0.8h-0.8zM484.72 497.91h0.8v0.8h-0.8zM481.04 499.74h0.8v0.8h-0.8zM485.08 496.58h0.8v0.8h-0.8zM490.62 483.03h0.8v0.8h-0.8zM484.9 490.91h0.8v0.8h-0.8zM475.45 459.36h0.8v0.8h-0.8zM480.91 481.49h0.8v0.8h-0.8zM487.02 488.74h0.8v0.8h-0.8zM489.28 492.48h0.8v0.8h-0.8zM480.94 485.37h0.8v0.8h-0.8zM488.17 465.36h0.8v0.8h-0.8zM482.87 485.18h0.8v0.8h-0.8zM486 461.67h0.8v0.8h-0.8zM476.73 483.89h0.8v0.8h-0.8zM488.87 464.65h0.8v0.8h-0.8zM482.58 471.73h0.8v0.8h-0.8zM472.14 495.95h0.8v0.8h-0.8zM479.95 472.63h0.8v0.8h-0.8zM482.29 461.91h0.8v0.8h-0.8zM487.98 465.34h0.8v0.8h-0.8zM477.92 474.23h0.8v0.8h-0.8zM486.48 492.55h0.8v0.8h-0.8zM483.06 499.52h0.8v0.8h-0.8zM479.36 480.07h0.8v0.8h-0.8zM475.71 497.04h0.8v0.8h-0.8z" fill="#999"/>
<path d="M479.35 485.08h0.85v0.85h-0.85zM487.25 494.69h0.85v0.85h-0.85zM477.92 486.5h0.85v0.85h-0.85zM482.74 496.89h0.85v0.85h-0.85zM474.1 498.12h0.85v0.85h-0.85zM476.56 498.22h0.85v0.85h-0.85zM485.95 501.36h0.85v0.85h-0.85zM485.55 498.41h0.85v0.85h-0.85zM484.1 501.07h0.85v0.85h-0.85zM480.56 475.15h0.85v0.85h-0.85zM490.41 484.78h0.85v0.85h-0.85zM482.6 493.87h0.85v0.85h-0.85zM479.54 500.91h0.85v0.85h-0.85zM485.76 496.05h0.85v0.85h-0.85zM489.9 487.08h0.85v0.85h-0.85zM479.09 483.62h0.85v0.85h-0.85zM482.19 472.21h0.85v0.85h-0.85zM482.15 493.65h0.85v0.85h-0.85zM481.11 492.94h0.85v0.85h-0.85zM484.31 482.29h0.85v0.85h-0.85zM481.22 488.71h0.85v0.85h-0.85zM476.87 490.8h0.85v0.85h-0.85zM476.94 496.45h0.85v0.85h-0.85zM484.11 497.24h0.85v0.85h-0.85zM478.53 499.62h0.85v0.85h-0.85zM479.94 492.73h0.85v0.85h-0.85zM479.24 487.01h0.85v0.85h-0.85zM486.49 495.34h0.85v0.85h-0.85zM478.02 500.36h0.85v0.85h-0.85zM480.59 495.89h0.85v0.85h-0.85zM491.64 489.06h0.85v0.85h-0.85zM489.78 479.36h0.85v0.85h-0.85zM490.28 495.86h0.85v0.85h-0.85zM485.83 488.06h0.85v0.85h-0.85zM484.15 474.47h0.85v0.85h-0.85zM486.29 494.53h0.85v0.85h-0.85zM482.91 483.31h0.85v0.85h-0.85zM487.7 500.96h0.85v0.85h-0.85zM482.93 483.77h0.85v0.85h-0.85zM487.14 495.48h0.85v0.85h-0.85zM480.68 482.61h0.85v0.85h-0.85zM484.79 491.59h0.85v0.85h-0.85zM486.37 492.96h0.85v0.85h-0.85zM484.57 467.46h0.85v0.85h-0.85zM488.16 484.93h0.85v0.85h-0.85zM477.8 499.63h0.85v0.85h-0.85zM482.06 461.87h0.85v0.85h-0.85zM491.78 485.09h0.85v0.85h-0.85zM484.17 493.73h0.85v0.85h-0.85zM483.91 501.36h0.85v0.85h-0.85zM486.71 474.06h0.85v0.85h-0.85zM480.99 497.07h0.85v0.85h-0.85zM480.97 492.97h0.85v0.85h-0.85zM475.72 479.7h0.85v0.85h-0.85zM491.58 476.19h0.85v0.85h-0.85zM479.97 492.19h0.85v0.85h-0.85zM484.16 494.49h0.85v0.85h-0.85zM486.91 490.65h0.85v0.85h-0.85zM488.91 484.55h0.85v0.85h-0.85zM489.37 497.37h0.85v0.85h-0.85zM488.46 479.32h0.85v0.85h-0.85zM484.44 492.65h0.85v0.85h-0.85zM481.54 496.66h0.85v0.85h-0.85zM487.56 480.77h0.85v0.85h-0.85zM481.76 487.3h0.85v0.85h-0.85zM483.89 500.03h0.85v0.85h-0.85zM483.09 478.14h0.85v0.85h-0.85zM490.09 494.89h0.85v0.85h-0.85zM483.42 493.28h0.85v0.85h-0.85zM477.55 495.07h0.85v0.85h-0.85zM478.24 494.23h0.85v0.85h-0.85zM475.13 495.32h0.85v0.85h-0.85zM472.52 485.75h0.85v0.85h-0.85zM478.33 494.49h0.85v0.85h-0.85zM479.52 461.34h0.85v0.85h-0.85zM490.38 480.44h0.85v0.85h-0.85zM477.42 498.55h0.85v0.85h-0.85zM481.03 497.58h0.85v0.85h-0.85zM480.08 479.93h0.85v0.85h-0.85zM488.03 481.15h0.85v0.85h-0.85zM485.38 495.67h0.85v0.85h-0.85zM483.19 498.1h0.85v0.85h-0.85zM479.46 487.35h0.85v0.85h-0.85zM486.71 486.29h0.85v0.85h-0.85zM487.51 469.62h0.85v0.85h-0.85zM482.29 496.65h0.85v0.85h-0.85z" fill="#222"/>
<text x="307.9" y="439.5" font-size="17.2" font-weight="bold" fill="#000">D</text>
<text x="344.3" y="457.95" font-size="9.72" fill="#111" textLength="13.99" lengthAdjust="spacingAndGlyphs">WT</text>
<text x="389.4" y="457.95" font-size="9.83" fill="#111" textLength="20.74" lengthAdjust="spacingAndGlyphs">2.0%</text>
<text x="430.7" y="459.15" font-size="9.88" fill="#111" textLength="23.82" lengthAdjust="spacingAndGlyphs">SRA<tspan dy="-2.96" font-size="5.73">-/-</tspan></text>
<text x="494.1" y="458.15" font-size="9.94" fill="#111" textLength="20.97" lengthAdjust="spacingAndGlyphs">3.8%</text>
<text transform="translate(311.8 514.2) rotate(-90)" font-size="9.94" textLength="55.05" lengthAdjust="spacingAndGlyphs" fill="#111">OVA tetramer</text>
<line x1="350.8" y1="534.4" x2="472" y2="534.4" stroke="#000" stroke-width="1.5"/>
<polygon points="469.8,529.6 481.2,534.4 469.8,539.2" fill="#000"/>
<text x="398.8" y="546.15" font-size="9.94" fill="#111" textLength="18.41" lengthAdjust="spacingAndGlyphs">CD8</text>
</svg>
</body></html>
